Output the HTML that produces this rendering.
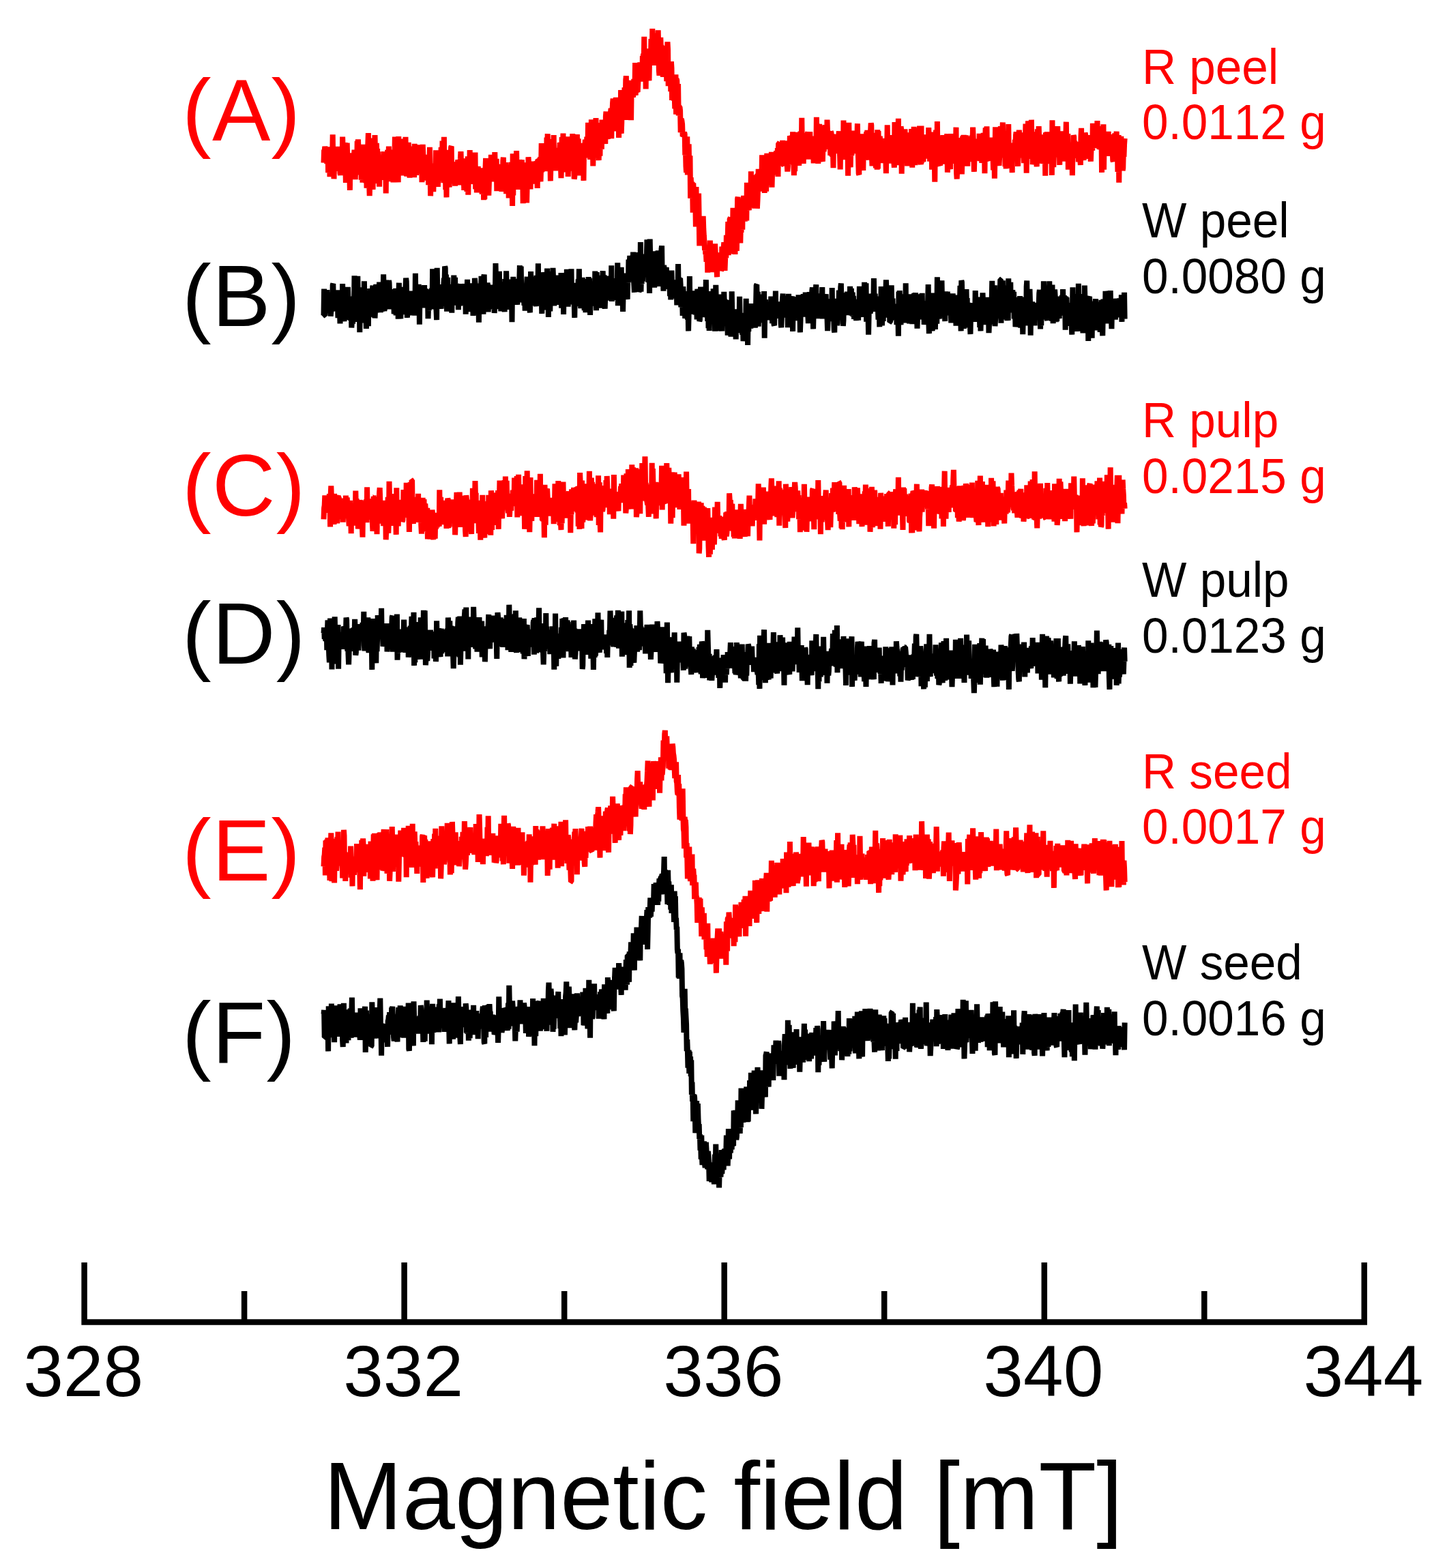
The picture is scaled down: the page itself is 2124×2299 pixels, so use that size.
<!DOCTYPE html>
<html><head><meta charset="utf-8"><title>EPR spectra</title>
<style>
html,body{margin:0;padding:0;background:#fff;overflow:hidden;}
svg{display:block;}
text{font-family:'Liberation Sans', Arial, sans-serif;font-kerning:none;}
</style></head>
<body>
<svg width="2124" height="2299" viewBox="0 0 2124 2299">
<rect width="2124" height="2299" fill="#fff"/>
<path d="M123.6,1851 L123.6,1938.5 L1999.8,1938.5 L1999.8,1851" fill="none" stroke="#000" stroke-width="8.5" stroke-linejoin="miter" stroke-linecap="butt"/>
<line x1="358.1" y1="1893" x2="358.1" y2="1938.5" stroke="#000" stroke-width="8.5"/>
<line x1="592.6" y1="1851" x2="592.6" y2="1938.5" stroke="#000" stroke-width="8.5"/>
<line x1="827.2" y1="1893" x2="827.2" y2="1938.5" stroke="#000" stroke-width="8.5"/>
<line x1="1061.7" y1="1851" x2="1061.7" y2="1938.5" stroke="#000" stroke-width="8.5"/>
<line x1="1296.2" y1="1893" x2="1296.2" y2="1938.5" stroke="#000" stroke-width="8.5"/>
<line x1="1530.8" y1="1851" x2="1530.8" y2="1938.5" stroke="#000" stroke-width="8.5"/>
<line x1="1765.3" y1="1893" x2="1765.3" y2="1938.5" stroke="#000" stroke-width="8.5"/>
<text x="122.2" y="2047" font-size="105.5" text-anchor="middle">328</text>
<text x="591.2" y="2047" font-size="105.5" text-anchor="middle">332</text>
<text x="1060.3" y="2047" font-size="105.5" text-anchor="middle">336</text>
<text x="1529.3" y="2047" font-size="105.5" text-anchor="middle">340</text>
<text x="1998.4" y="2047" font-size="105.5" text-anchor="middle">344</text>
<text transform="translate(474.3,2242) scale(1,1.015)" font-size="138.7">Magnetic field [mT]</text>
<path d="M474.5,238.7l.6-19.1 .6 1.2 .6-5.8 .6 3.6 .6 20.0 .6-17.1 .6 9.3 .6 9.2 .6-18.3 .6-4.6 .6 36.1 .6-12.0 .6-2.6 .6-23.2 .6 43.7 .6-37.8 .6 12.0 .6 15.3 .6-13.7 .6 15.8 .6-15.0 .6-38.5 .6 43.1 .6-14.7 .6 36.7 .6-25.8 .6 1.6 .6 11.6 .6-14.8 .6-15.7 .6 3.6 .6 27.8 .6-6.6 .6-24.4 .6-4.6 .6 10.3 .6 3.8 .6 18.1 .6-18.0 .6 24.5 .6 3.1 .6-21.5 .6 8.2 .6-5.9 .6 16.2 .6-53.2 .6 15.8 .6 16.3 .6 4.8 .6 9.9 .6-10.6 .6-27.7 .6 34.4 .6 24.3 .6-25.9 .6-8.1 .6-24.3 .6 22.6 .6-7.2 .6 21.0 .6-3.8 .6 2.7 .6 11.3 .6 22.8 .6-52.3 .6-1.6 .6 19.6 .6 2.1 .6 11.2 .6-20.2 .6-5.9 .6-5.4 .6 6.9 .6-5.1 .6-8.5 .6 11.7 .6 31.6 .6-17.6 .6 3.8 .6 1.0 .6-3.1 .6-40.3 .6 9.1 .6-11.5 .6 12.0 .6 40.0 .6-39.9 .6 31.5 .6-16.8 .6 16.5 .6-35.0 .6 50.9 .6-6.4 .6-38.2 .6 48.6 .6-28.1 .6 12.8 .6-40.6 .6 55.9 .6-23.6 .6-20.3 .6 29.4 .6 14.9 .6-46.7 .6 54.5 .6-18.7 .6-8.3 .6-36.8 .6-16.9 .6 57.3 .6 14.9 .6 19.9 .6-19.6 .6-65.0 .6 6.7 .6 47.7 .6-14.4 .6 9.2 .6 7.7 .6 18.3 .6-19.3 .6-7.9 .6 18.3 .6-44.3 .6-26.4 .6 28.4 .6 13.8 .6 13.9 .6-44.4 .6 21.0 .6-12.7 .6 24.2 .6-20.1 .6 35.6 .6 4.3 .6 11.4 .6-35.6 .6 25.2 .6-16.2 .6 7.3 .6-.2 .6 6.7 .6-13.2 .6-14.4 .6 13.5 .6-12.3 .6-12.2 .6 41.7 .6-25.7 .6 3.7 .6-17.4 .6 59.0 .6-55.1 .6 1.7 .6 32.2 .6-42.5 .6 9.5 .6 3.4 .6-18.1 .6 27.4 .6 1.5 .6-4.7 .6-13.6 .6 41.0 .6-26.8 .6-10.6 .6 4.4 .6-13.7 .6 22.9 .6 25.1 .6-36.3 .6-3.4 .6 8.1 .6-35.3 .6 50.8 .6-4.4 .6 19.7 .6-43.4 .6-18.9 .6 18.5 .6 16.7 .6 27.7 .6-67.2 .6 52.1 .6-29.9 .6 18.4 .6-5.0 .6-32.1 .6 44.2 .6-20.8 .6 30.4 .6-25.3 .6-16.2 .6 4.7 .6 27.2 .6-10.5 .6 10.7 .6-38.1 .6 37.3 .6-46.4 .6 48.2 .6 4.5 .6 4.8 .6-24.4 .6 .2 .6-8.0 .6-17.2 .6 25.0 .6-17.8 .6 44.5 .6-36.1 .6 28.8 .6-8.6 .6-6.8 .6 19.8 .6-34.7 .6 11.6 .6-12.0 .6 19.9 .6-28.0 .6 45.7 .6-49.4 .6 41.1 .6-1.7 .6-15.5 .6 22.2 .6-17.3 .6-13.7 .6 19.2 .6 6.0 .6-4.3 .6 7.4 .6-36.4 .6 21.7 .6-27.2 .6 42.5 .6-37.8 .6 18.5 .6-19.1 .6 50.7 .6-33.5 .6-21.8 .6 14.3 .6 3.4 .6 10.5 .6-8.5 .6 19.1 .6 13.7 .6-7.1 .6-9.6 .6 4.8 .6-5.7 .6 .9 .6-12.0 .6-8.8 .6 44.5 .6-16.7 .6-3.5 .6-35.2 .6 30.1 .6 41.3 .6-31.4 .6-12.2 .6 5.2 .6 4.7 .6-9.5 .6-4.2 .6 41.3 .6-20.8 .6-11.0 .6-2.4 .6 4.3 .6 10.5 .6-41.4 .6 7.8 .6 42.7 .6-38.8 .6-7.0 .6 48.9 .6-43.2 .6 17.4 .6 16.3 .6-23.1 .6 17.2 .6-22.6 .6 5.4 .6-25.5 .6 14.9 .6 32.0 .6-56.3 .6 58.8 .6-40.9 .6 43.8 .6-67.4 .6 60.8 .6 5.5 .6-36.0 .6 47.0 .6-20.4 .6 31.7 .6-50.0 .6 13.0 .6-5.6 .6-4.7 .6-22.3 .6 28.7 .6 26.2 .6-29.1 .6 10.1 .6-12.8 .6-27.2 .6-1.2 .6 54.6 .6-8.0 .6-18.0 .6 23.8 .6-29.6 .6 30.4 .6-9.4 .6-3.8 .6 18.0 .6-6.5 .6-11.6 .6 16.3 .6-22.7 .6-5.9 .6-2.4 .6-5.3 .6 29.0 .6 7.8 .6-36.2 .6 17.4 .6-10.7 .6-9.1 .6-10.4 .6 18.8 .6 12.5 .6 1.0 .6-4.5 .6 10.8 .6-20.8 .6 21.8 .6 17.1 .6-21.5 .6-25.1 .6 24.1 .6-1.8 .6-1.4 .6 10.4 .6 17.2 .6-5.0 .6-46.5 .6 56.5 .6-34.0 .6-3.0 .6 5.5 .6-34.2 .6 37.9 .6-12.6 .6 3.1 .6 7.2 .6-12.2 .6 26.0 .6-2.0 .6-2.4 .6-25.8 .6 24.6 .6-2.4 .6-14.6 .6-23.4 .6 53.8 .6-3.1 .6-12.4 .6 20.6 .6-21.9 .6 4.1 .6-20.6 .6 15.8 .6 8.1 .6-.5 .6 3.8 .6-1.9 .6-22.5 .6 3.0 .6 7.7 .6 19.5 .6 7.5 .6-4.9 .6-28.9 .6-2.5 .6 45.0 .6-42.2 .6 41.3 .6-34.2 .6-11.5 .6-14.6 .6 51.4 .6-7.7 .6-16.3 .6 14.6 .6-12.2 .6-22.3 .6 47.1 .6-18.8 .6-19.7 .6 1.1 .6 15.6 .6-17.1 .6-20.9 .6 17.3 .6-.1 .6-11.0 .6 20.6 .6 4.0 .6-18.2 .6 11.1 .6 15.9 .6-43.3 .6 29.7 .6-17.8 .6 28.0 .6-30.1 .6 47.2 .6-14.3 .6-5.1 .6-13.3 .6 22.1 .6-21.4 .6 15.8 .6-22.8 .6 4.9 .6 16.2 .6 12.4 .6-17.1 .6 23.4 .6-15.8 .6 6.4 .6-36.0 .6-4.7 .6 33.8 .6 15.5 .6-3.3 .6-23.0 .6-15.5 .6 7.3 .6 38.5 .6-27.8 .6 4.5 .6 12.7 .6-7.6 .6-22.0 .6 46.6 .6-43.8 .6 20.1 .6 4.9 .6-21.4 .6 9.4 .6-21.9 .6 29.0 .6-.4 .6 35.5 .6-76.6 .6 61.2 .6-51.2 .6 9.2 .6 15.0 .6-.2 .6-12.3 .6 20.4 .6-29.3 .6-17.0 .6 31.7 .6 16.9 .6-30.9 .6 39.1 .6-37.6 .6 34.2 .6-27.7 .6-12.8 .6 25.4 .6 12.5 .6-18.5 .6-7.0 .6-12.0 .6 25.9 .6-9.7 .6 47.6 .6-59.9 .6 19.0 .6-4.8 .6 27.0 .6-16.8 .6 7.0 .6 3.7 .6-4.4 .6 28.3 .6-26.0 .6-13.1 .6 4.9 .6-32.9 .6 9.4 .6 25.2 .6 4.3 .6-24.6 .6 33.0 .6-25.4 .6-8.7 .6 18.7 .6 7.2 .6-7.2 .6-25.6 .6 26.0 .6-8.1 .6-14.7 .6 3.6 .6-1.1 .6-2.8 .6 1.6 .6-3.8 .6 .7 .6 10.4 .6 27.6 .6-41.9 .6 .3 .6 19.6 .6-2.8 .6-10.9 .6 6.3 .6-16.2 .6 36.1 .6-20.3 .6-36.0 .6 42.4 .6-28.2 .6-1.0 .6 15.3 .6 12.4 .6-21.4 .6 13.1 .6 1.8 .6-6.2 .6 12.3 .6-3.8 .6-2.5 .6-42.7 .6 25.7 .6-31.1 .6 35.4 .6-27.5 .6 26.3 .6 13.5 .6-21.5 .6 5.0 .6 38.0 .6-27.2 .6-22.6 .6 20.6 .6-8.3 .6 14.9 .6-5.5 .6-17.7 .6-21.6 .6 52.1 .6-22.0 .6-8.9 .6 31.3 .6-27.9 .6 9.1 .6 12.6 .6-13.9 .6-8.7 .6-2.4 .6 .1 .6 19.6 .6 7.5 .6-24.2 .6-13.2 .6 1.6 .6 30.9 .6 19.5 .6-17.4 .6-42.6 .6 22.2 .6-6.8 .6-21.0 .6 45.8 .6-3.6 .6-5.6 .6 10.3 .6-36.2 .6 46.0 .6-7.6 .6-25.0 .6 8.0 .6 4.2 .6-31.6 .6 58.8 .6-20.9 .6-17.8 .6 13.4 .6 11.3 .6-30.3 .6-5.1 .6 41.1 .6-15.6 .6 10.3 .6-35.4 .6-13.8 .6 27.9 .6 8.2 .6 7.0 .6 23.2 .6-3.5 .6-32.6 .6-.1 .6 17.6 .6-20.0 .6-5.7 .6-21.2 .6 23.3 .6-9.6 .6-7.4 .6 39.5 .6-6.5 .6 21.1 .6-14.9 .6-19.4 .6-6.3 .6-7.0 .6 31.4 .6 2.2 .6-12.7 .6-10.6 .6-8.2 .6 53.0 .6-47.7 .6 14.3 .6-19.0 .6-7.8 .6 11.0 .6 14.1 .6-1.5 .6-27.8 .6 1.7 .6 12.1 .6-34.6 .6 32.4 .6 17.0 .6-45.4 .6 28.1 .6 22.0 .6-19.5 .6 10.9 .6-49.8 .6 22.3 .6-11.7 .6 3.5 .6 54.0 .6-27.8 .6-20.8 .6-1.8 .6 4.6 .6 13.9 .6-16.4 .6-22.2 .6 35.4 .6 1.5 .6-29.9 .6 29.3 .6-.1 .6-.1 .6 26.1 .6-20.0 .6-24.4 .6 37.9 .6-46.3 .6 5.2 .6 8.0 .6 23.2 .6-43.2 .6 34.2 .6-11.6 .6-8.1 .6-10.7 .6 18.1 .6 11.0 .6-7.0 .6 9.5 .6-40.4 .6-7.1 .6 24.4 .6 4.6 .6-17.5 .6 29.2 .6-18.3 .6-.7 .6-16.4 .6 19.8 .6-13.4 .6 15.4 .6-26.6 .6-5.1 .6 44.4 .6-37.6 .6-1.5 .6-13.5 .6-6.0 .6 7.5 .6 9.8 .6 30.3 .6-34.6 .6 31.1 .6-32.6 .6-13.3 .6 25.7 .6-25.8 .6 24.2 .6 7.3 .6-.4 .6-10.0 .6 38.1 .6-31.4 .6-1.7 .6 18.0 .6-11.0 .6-43.8 .6 63.8 .6-16.3 .6-40.7 .6 10.0 .6-8.8 .6-2.0 .6 37.7 .6-9.5 .6-38.0 .6 39.6 .6-18.7 .6-32.2 .6-5.7 .6 64.6 .6-58.1 .6 18.8 .6-6.8 .6 17.1 .6-26.5 .6-2.2 .6 17.1 .6 7.5 .6-13.6 .6-7.2 .6 54.2 .6-48.1 .6 .5 .6 3.1 .6 8.9 .6 1.9 .6-9.1 .6-17.6 .6 11.0 .6 7.3 .6-42.1 .6 47.9 .6-14.1 .6-22.5 .6 23.0 .6 7.7 .6 .7 .6-12.6 .6-9.8 .6-11.9 .6 13.1 .6-2.7 .6-19.5 .6 13.9 .6 4.8 .6-9.6 .6-8.7 .6 28.0 .6-37.7 .6 6.3 .6-9.5 .6 16.4 .6-41.3 .6 59.0 .6-12.5 .6-16.9 .6 47.0 .6-59.3 .6 20.9 .6-19.4 .6 34.7 .6 2.2 .6-32.3 .6 2.1 .6 39.0 .6-31.8 .6 4.9 .6-9.8 .6 5.5 .6-30.1 .6 23.6 .6 14.7 .6-53.3 .6 45.7 .6 5.0 .6-43.0 .6 18.7 .6 27.5 .6-43.2 .6 16.5 .6 18.1 .6 1.3 .6-40.1 .6 17.2 .6-7.5 .6 8.4 .6-22.3 .6 26.0 .6 33.0 .6 7.2 .6-32.7 .6 2.3 .6-25.2 .6 15.1 .6 6.7 .6-8.6 .6 .2 .6 21.1 .6 23.5 .6-30.5 .6 9.8 .6 4.5 .6-.2 .6 2.8 .6 1.3 .6-8.6 .6 2.8 .6 24.2 .6-42.3 .6-15.4 .6 11.2 .6 53.5 .6-16.4 .6 6.6 .6 7.1 .6-28.9 .6 4.0 .6 35.7 .6-44.0 .6 9.6 .6 47.1 .6-33.5 .6 33.2 .6-6.2 .6 6.6 .6-.4 .6-6.8 .6 19.6 .6-30.4 .6-19.7 .6 58.3 .6-52.3 .6 2.8 .6 26.3 .6 8.4 .6-29.8 .6 46.5 .6-10.6 .6-2.3 .6 .4 .6 5.2 .6 32.1 .6-19.5 .6-.6 .6 3.2 .6 4.6 .6 18.0 .6-2.1 .6 1.2 .6-2.2 .6-3.1 .6 2.8 .6 30.9 .6-10.5 .6 27.1 .6 9.0 .6-13.9 .6-38.8 .6 56.0 .6-37.3 .6 37.2 .6-44.9 .6 36.4 .6 7.4 .6-26.9 .6 62.5 .6-30.7 .6 10.9 .6 7.6 .6-11.7 .6 8.0 .6 36.7 .6-43.0 .6 10.5 .6 12.4 .6-15.0 .6 26.6 .6-7.7 .6 37.1 .6-58.5 .6 56.7 .6-23.4 .6 19.7 .6-11.8 .6 13.6 .6-45.2 .6 36.5 .6 40.4 .6-34.6 .6-1.8 .6 34.4 .6-10.6 .6-21.1 .6 27.9 .6-3.5 .6-23.8 .6-10.6 .6 19.0 .6 10.1 .6 8.1 .6 13.1 .6-7.4 .6 13.3 .6-3.0 .6 13.8 .6-14.5 .6-3.5 .6 33.9 .6-30.8 .6 11.2 .6-19.4 .6 34.7 .6-3.5 .6-39.3 .6 25.2 .6 13.3 .6 7.5 .6-4.2 .6-10.5 .6-3.9 .6 11.7 .6-10.1 .6 .9 .6-16.3 .6 7.3 .6-16.0 .6 12.2 .6 4.0 .6 11.7 .6 10.0 .6 10.8 .6-35.8 .6 13.8 .6 8.5 .6-18.9 .6 16.8 .6-19.5 .6 19.7 .6-11.1 .6 5.2 .6 11.3 .6-.9 .6-33.7 .6 14.7 .6-11.2 .6 15.3 .6-17.3 .6-7.9 .6 24.4 .6 17.3 .6-16.6 .6-23.3 .6 21.4 .6-33.6 .6 12.3 .6 15.9 .6-23.2 .6-24.8 .6 49.3 .6-37.7 .6 18.6 .6-34.4 .6-.6 .6 24.8 .6 27.1 .6-12.6 .6 .9 .6-17.5 .6 7.7 .6-45.8 .6 10.8 .6 21.3 .6-32.0 .6 45.6 .6 22.5 .6-47.3 .6-2.7 .6 22.0 .6 23.0 .6-35.1 .6-41.0 .6-3.0 .6 8.8 .6 8.0 .6 25.6 .6 1.6 .6-9.1 .6 32.7 .6-27.9 .6 12.2 .6-18.2 .6 5.1 .6 9.0 .6-44.3 .6 11.1 .6-16.7 .6 32.7 .6-27.9 .6 32.9 .6-18.7 .6-.5 .6 10.9 .6 7.2 .6-55.7 .6 30.5 .6-16.3 .6 1.0 .6 12.7 .6 12.9 .6-33.9 .6 29.6 .6-14.5 .6 9.9 .6-48.3 .6 31.6 .6 .1 .6-11.4 .6 21.1 .6 5.8 .6-22.4 .6 7.2 .6 10.4 .6 11.8 .6-36.3 .6 2.6 .6-13.2 .6-.2 .6 4.0 .6 43.3 .6-12.1 .6-16.8 .6-28.9 .6 16.9 .6 15.8 .6-13.9 .6 .5 .6 12.0 .6-14.9 .6 8.5 .6-15.7 .6-29.8 .6 46.8 .6-14.4 .6-.2 .6-8.0 .6 2.0 .6 29.4 .6-53.4 .6 16.4 .6 17.9 .6 16.8 .6-23.4 .6-32.3 .6 25.1 .6 9.1 .6 12.1 .6-25.8 .6 17.9 .6-18.8 .6-8.9 .6 10.9 .6-17.3 .6 29.4 .6-35.7 .6 51.7 .6-22.0 .6-29.8 .6 29.4 .6 3.7 .6-6.1 .6-11.0 .6-14.2 .6 11.0 .6 16.2 .6-20.3 .6-10.3 .6 33.6 .6-16.6 .6-21.2 .6 42.0 .6-48.6 .6-.2 .6 25.3 .6 .1 .6-20.9 .6 1.3 .6 4.1 .6 12.2 .6-.9 .6 .7 .6-26.2 .6 33.4 .6 2.1 .6 .5 .6-32.6 .6 29.8 .6-22.8 .6 21.5 .6 1.6 .6-28.7 .6-4.0 .6 35.0 .6 9.8 .6-7.7 .6-12.1 .6-12.4 .6-8.5 .6 11.1 .6-22.5 .6 1.4 .6 32.9 .6 4.6 .6 2.5 .6-21.0 .6 12.6 .6-39.2 .6 38.5 .6 5.7 .6 19.8 .6-26.6 .6 20.5 .6-17.9 .6-20.6 .6-9.1 .6 9.5 .6 4.8 .6 22.3 .6-22.0 .6-24.4 .6 41.4 .6 7.6 .6-8.8 .6-2.1 .6-19.1 .6-20.2 .6 38.8 .6-8.7 .6-49.9 .6 45.5 .6 6.4 .6 4.1 .6 11.1 .6-19.1 .6-20.8 .6 10.2 .6 10.4 .6-.1 .6 4.8 .6-19.9 .6 12.2 .6-19.1 .6-2.8 .6-1.2 .6 39.1 .6-18.8 .6-9.1 .6-4.6 .6-7.7 .6 37.4 .6-15.0 .6-14.3 .6 24.1 .6-6.4 .6-19.4 .6 7.9 .6 13.0 .6 18.7 .6-33.3 .6-6.3 .6 17.2 .6 7.8 .6-1.6 .6 2.0 .6-53.4 .6 35.3 .6-25.3 .6 10.3 .6 48.0 .6-51.4 .6 7.8 .6-14.5 .6 16.0 .6 23.7 .6-22.4 .6 1.6 .6 7.9 .6 5.1 .6 20.4 .6 2.5 .6-29.2 .6-3.8 .6 18.5 .6-7.0 .6-29.4 .6-1.0 .6 28.4 .6 5.3 .6-4.8 .6 3.1 .6-41.3 .6 19.7 .6 21.7 .6-23.6 .6-.1 .6 5.5 .6 11.2 .6 .6 .6 17.4 .6-34.7 .6 1.1 .6 32.5 .6 1.0 .6-16.3 .6 6.3 .6 28.3 .6-43.8 .6 7.9 .6-12.2 .6 15.6 .6-14.6 .6-1.2 .6 15.9 .6-11.8 .6 23.3 .6-18.2 .6 17.3 .6-8.0 .6-18.3 .6-5.7 .6 22.9 .6 13.0 .6 20.3 .6-43.3 .6-4.8 .6 20.0 .6-15.3 .6 10.3 .6-14.7 .6 33.6 .6-57.7 .6 42.8 .6-19.9 .6 18.3 .6 1.3 .6-14.0 .6 27.5 .6-5.1 .6-15.9 .6 9.1 .6-14.7 .6 51.6 .6-48.8 .6-29.0 .6 40.2 .6-5.4 .6 16.2 .6 14.6 .6-35.8 .6 10.5 .6 8.1 .6-29.7 .6 13.1 .6-6.8 .6-13.2 .6 10.9 .6 15.7 .6 6.7 .6-21.7 .6 14.9 .6-9.7 .6-2.4 .6 5.6 .6-3.4 .6-27.0 .6 35.2 .6 15.5 .6 22.8 .6 1.2 .6-29.9 .6-13.6 .6 2.4 .6 18.8 .6-24.2 .6 8.0 .6-21.0 .6 35.2 .6-13.3 .6 31.7 .6-34.9 .6 9.6 .6-14.0 .6 24.2 .6-16.2 .6 6.5 .6-16.5 .6-15.2 .6 41.3 .6-43.9 .6 33.2 .6-16.0 .6-10.3 .6 23.2 .6-.9 .6 2.1 .6 4.2 .6-34.1 .6-11.8 .6 2.9 .6 44.6 .6 15.3 .6-29.2 .6 12.6 .6 15.1 .6-11.8 .6-35.2 .6 12.0 .6 16.0 .6-22.9 .6 46.5 .6-30.4 .6-10.7 .6 43.4 .6-58.5 .6 57.3 .6-55.4 .6 21.4 .6 18.3 .6-11.3 .6-21.0 .6 25.9 .6-3.0 .6 16.5 .6-10.3 .6-17.4 .6 15.3 .6 7.6 .6-31.0 .6 27.9 .6-28.1 .6 25.4 .6 1.3 .6-6.7 .6 7.6 .6 23.6 .6-43.1 .6 14.8 .6-42.5 .6 47.8 .6-.8 .6 9.0 .6-6.0 .6 1.5 .6-18.3 .6-18.4 .6 27.0 .6 .9 .6-14.7 .6-9.9 .6 18.2 .6-14.4 .6 21.8 .6-6.5 .6 17.4 .6 7.8 .6-66.6 .6 43.3 .6 7.0 .6-20.2 .6 17.5 .6 5.0 .6 10.3 .6-8.7 .6-25.6 .6-34.0 .6 64.7 .6-19.7 .6-9.5 .6-8.2 .6 10.1 .6-25.6 .6 3.5 .6 65.6 .6-33.2 .6 7.2 .6-12.1 .6-13.3 .6 3.3 .6 6.4 .6-.6 .6-22.9 .6 18.9 .6 17.5 .6-30.9 .6 8.6 .6 11.6 .6 28.4 .6-25.7 .6-23.4 .6 7.6 .6 28.1 .6-32.7 .6 12.7 .6 15.8 .6 6.5 .6-5.9 .6-37.4 .6 34.7 .6 21.8 .6-48.3 .6 42.9 .6-9.0 .6-45.3 .6 22.5 .6 4.4 .6 29.3 .6-14.6 .6-24.6 .6-1.8 .6 19.6 .6 13.0 .6-33.6 .6-2.0 .6 40.8 .6-51.3 .6 31.5 .6-34.5 .6 27.0 .6 24.8 .6 4.8 .6-56.7 .6 52.3 .6-.7 .6-26.0 .6 8.8 .6 18.6 .6-25.2 .6-14.9 .6 35.3 .6-20.7 .6 17.6 .6-17.4 .6 2.9 .6-13.0 .6 25.5 .6 .3 .6-16.8 .6-3.2 .6-20.9 .6 28.8 .6-11.5 .6 32.5 .6-36.3 .6 16.9 .6-3.7 .6-1.0 .6 36.0 .6-55.1 .6 27.1 .6-24.4 .6 11.4 .6-9.6 .6 23.0 .6 45.5 .6-54.4 .6 .8 .6-22.4 .6 39.1 .6 13.1 .6-64.7 .6 49.4 .6 2.8 .6 8.1 .6 .7 .6-2.9 .6 5.3 .6 1.0 .6-11.0 .6-21.7 .6-9.4 .6 13.6 .6 25.4 .6-11.3 .6-30.0 .6 20.4 .6 6.4 .6-2.8 .6 7.5 .6-4.7 .6 15.7 .6-13.6 .6-16.0 .6-5.3 .6-9.4 .6 56.5 .6-16.1 .6 9.7 .6-15.0 .6 2.9 .6-4.1 .6 5.1 .6 12.9 .6-40.3 .6-11.7 .6 9.4 .6 6.5 .6-4.1 .6 12.8 .6-11.0 .6 4.2 .6 1.7 .6 24.3 .6-22.7 .6 .8 .6 .6 .6-32.0 .6 66.7 .6 9.0 .6-15.3 .6-14.7 .6-7.3 .6-2.6 .6 27.4 .6-5.3 .6-42.6 .6 42.1 .6-21.8 .6-6.4 .6-1.9 .6 41.3 .6-21.4 .6-32.5 .6-1.1 .6 22.4 .6-24.8 .6 17.3 .6 5.8 .6-17.2 .6 16.6 .6-22.0 .6 28.6 .6 14.0 .6-12.5 .6 15.1 .6-43.8 .6 17.8 .6 10.6 .6-18.0 .6-6.3 .6 1.6 .6 11.2 .6 8.3 .6 1.3 .6 10.7 .6-38.8 .6 13.6 .6-25.2 .6 15.1 .6 20.9 .6 29.3 .6-21.1 .6-11.4 .6 5.2 .6-16.4 .6-1.8 .6 27.1 .6-21.3 .6-8.6 .6 26.3 .6-16.3 .6 8.1 .6 13.8 .6-39.7 .6 20.9 .6 19.5 .6-26.9 .6 17.3 .6-24.0 .6 36.3 .6-8.1 .6-19.0 .6 3.4 .6-20.3 .6 15.6 .6-1.8 .6 45.6 .6-50.8 .6-16.0 .6 46.5 .6 .2 .6-48.9 .6 45.8 .6-28.2 .6 26.0 .6 5.6 .6 .9 .6-29.9 .6 1.7 .6 11.9 .6-.9 .6 7.2 .6-23.9 .6 13.9 .6 6.2 .6-1.8 .6 6.1 .6 23.6 .6-22.6 .6-21.3 .6 56.1 .6-31.0 .6-44.3 .6 52.4 .6-22.4 .6 7.2 .6-25.9 .6-4.4 .6 22.3 .6 2.7 .6 21.1 .6 3.4 .6-10.5 .6-4.8 .6-25.7 .6-16.7 .6 28.9 .6-13.8 .6-12.2 .6 5.3 .6-13.8 .6 30.2 .6 3.7 .6-17.7 .6 14.3 .6-17.7 .6 51.9 .6-38.1 .6 41.3 .6-22.7 .6 3.0 .6-1.5 .6 11.7 .6-3.7 .6-52.1 .6 48.9 .6 3.3 .6-1.1 .6-16.8 .6 2.9 .6 27.4 .6-30.6 .6 16.4 .6 20.7 .6-39.8 .6 21.7 .6-5.7 .6-19.8 .6 12.6 .6 .5 .6-17.9 .6 5.1 .6-12.4 .6-3.9 .6 26.3 .6-20.3 .6 9.2 .6 35.1 .6-17.1 .6-24.8 .6-11.2 .6 9.9 .6 30.7 .6-37.2 .6 17.9 .6 17.4 .6-13.9 .6-9.6 .6 18.1 .6-16.0 .6 14.2 .6-5.9 .6 22.7 .6-26.3 .6-.2 .6-4.2 .6-26.9 .6 26.3 .6 45.8 .6-48.8 .6-11.3 .6 13.9 .6-30.1 .6 25.0 .6 4.5 .6 12.3 .6-6.6 .6 10.5 .6 3.7 .6 5.9 .6-56.9 .6 31.9 .6-3.9 .6 37.6 .6-38.7 .6-6.8 .6-2.3 .6 22.0 .6 2.4 .6 23.5 .6-28.4 .6 9.8 .6 6.4 .6 15.2 .6-13.6 .6-41.4 .6 15.3 .6 14.8 .6-34.4 .6 18.1 .6-1.0 .6 11.8 .6 9.9 .6 5.4 .6-17.5 .6 27.7 .6-1.8 .6-20.3 .6-.9 .6-19.3 .6 40.5 .6-19.1 .6-3.5 .6-8.5 .6 51.2 .6-63.6 .6 21.9 .6-2.0 .6-20.8 .6 16.9 .6 24.2 .6-35.7 .6 9.0 .6-13.3 .6 26.7 .6-18.3 .6 37.4 .6-29.9 .6 3.6 .6-7.9 .6 50.9 .6-80.5 .6 57.6 .6-10.2 .6 21.3 .6-15.0 .6-17.4 .6-3.5 .6 9.1 .6-24.1 .6 23.2 .6 12.8 .6-9.0 .6-1.8 .6-34.3 .6 40.5 .6-7.6 .6 2.0 .6-13.3 .6 35.2 .6-38.8 .6 6.1 .6-4.5 .6 13.1 .6-16.2 .6-9.2 .6 36.5 .6-13.6 .6-19.4 .6 6.0 .6 19.5 .6 .1 .6 15.1 .6-35.5 .6 4.1 .6-26.5 .6 44.4 .6-23.9 .6 31.8 .6-35.0 .6 52.6 .6-13.9 .6-20.9 .6 16.0 .6 1.3 .6-19.2 .6 6.4 .6 24.9 .6-14.8 .6-13.1 .6 42.0 .6-33.7 .6 3.9 .6-29.2 .6 2.0 .6 31.2 .6-14.4 .6 7.1 .6 3.4 .6-7.5 .6 11.8 .6-20.3 .6-1.2 .6-.1 .6-.5 .6 27.6 .6-24.7 .6 14.6 .6 9.5 .6-2.3 .6 7.4 .6-40.4 .6-13.6 .6 35.5 .6-24.4 .6 10.0 .6 4.0 .6 2.3 .6 19.9 .6-29.8 .6-1.5 .6-9.0 .6 2.2 .6 7.7 .6 27.4 .6-2.1 .6-8.5 .6 11.3 .6-34.9 .6 11.9 .6 13.7 .6-11.7 .6 12.6 .6-9.4 .6 15.4 .6 6.2 .6-15.8 .6-9.3 .6 5.7 .6 3.5 .6-39.9 .6 34.6 .6-25.6 .6 .1 .6 13.2 .6 9.3 .6 4.4 .6-30.6 .6 25.4 .6-22.1 .6 14.3 .6-26.8 .6 24.3 .6-11.9 .6 26.6 .6-3.5 .6 5.8 .6-.9 .6-32.5 .6 29.0 .6 2.5 .6-16.8 .6 53.2 .6-41.0 .6-2.7 .6-13.1 .6-13.8 .6 66.3 .6-48.6 .6 17.7 .6 8.7 .6-29.4 .6 21.0 .6-17.6 .6 5.7 .6 22.7 .6-19.2 .6 16.3 .6-33.0 .6 31.5 .6-21.1 .6 15.8 .6-22.1 .6 25.0 .6 4.0 .6-11.2 .6-12.0 .6 25.9 .6-10.1 .6 16.7 .6 1.3 .6-30.9 .6 10.1 .6 .1 .6-20.6 .6 35.9 .6-4.3 .6-25.8 .6-8.2 .6 31.0 .6-12.1 .6 40.2 .6-10.9 .6-43.1 .6 69.6 .6-47.8 .6-6.1 .6 18.1 .6-19.0 .6-12.7 .6 7.6 .6 29.3 .6-18.2 .6 31.4 .6-3.9 .6-26.3 .6 9.8 .6-17.8 .6-9.1" fill="none" stroke="#ff0000" stroke-width="8" stroke-linejoin="bevel" stroke-linecap="butt"/>
<path d="M474.5,462.3l.6-38.7 .6 38.8 .6 .1 .6-13.7 .6-15.3 .6 15.2 .6-11.9 .6-11.5 .6 13.2 .6 20.5 .6-26.7 .6 12.3 .6 5.3 .6-16.4 .6-3.2 .6 17.8 .6 15.5 .6-6.4 .6-4.4 .6 1.6 .6 2.1 .6-38.9 .6-1.4 .6 26.7 .6 13.1 .6-19.9 .6 14.1 .6-.7 .6-5.3 .6 4.4 .6-5.8 .6 4.2 .6-21.6 .6 20.7 .6 20.1 .6-26.0 .6-.8 .6 4.9 .6 9.4 .6 20.8 .6-22.2 .6-22.9 .6 16.2 .6-8.7 .6 28.9 .6-49.8 .6 22.9 .6 11.0 .6 6.8 .6 14.6 .6-35.5 .6 4.6 .6 5.0 .6 2.2 .6 21.6 .6-27.3 .6 6.2 .6-12.8 .6-14.5 .6 20.5 .6 21.9 .6-8.6 .6-13.0 .6 17.2 .6 .6 .6 10.3 .6-16.1 .6 26.9 .6-8.5 .6-27.4 .6 30.3 .6-32.4 .6-7.7 .6 15.6 .6-46.1 .6 28.4 .6 33.3 .6 5.6 .6-36.8 .6 16.5 .6-5.7 .6-11.0 .6-29.8 .6 33.4 .6-5.0 .6 23.8 .6-22.2 .6 52.3 .6-46.7 .6 8.1 .6-14.2 .6-12.9 .6 14.8 .6 10.6 .6 26.5 .6-20.1 .6-15.3 .6 24.6 .6-50.1 .6 30.0 .6 17.5 .6-25.9 .6 27.4 .6 20.6 .6-23.7 .6-22.3 .6 10.4 .6 12.9 .6 18.8 .6-45.1 .6 2.6 .6 10.0 .6-22.6 .6 39.3 .6-16.6 .6 3.8 .6-14.0 .6 15.1 .6-27.3 .6-4.5 .6 37.1 .6 5.7 .6 2.8 .6-19.5 .6 21.6 .6-11.6 .6-14.8 .6-23.3 .6 41.5 .6-10.3 .6-9.7 .6-8.0 .6 10.7 .6 9.0 .6-12.6 .6-23.9 .6 10.2 .6 2.5 .6 32.0 .6-42.7 .6 31.6 .6-4.3 .6 13.7 .6-14.9 .6-5.4 .6-33.9 .6 22.6 .6 30.7 .6-2.4 .6-15.0 .6 3.9 .6 7.7 .6-39.3 .6 23.2 .6 14.7 .6-.1 .6 .6 .6-20.3 .6-17.5 .6 3.3 .6 17.7 .6 21.2 .6-14.0 .6 1.4 .6-2.9 .6-1.8 .6 6.1 .6-17.9 .6 19.0 .6-5.9 .6-3.6 .6 26.5 .6-2.4 .6-33.6 .6 9.0 .6-10.3 .6 39.6 .6-34.9 .6 11.2 .6 7.5 .6-23.0 .6 44.4 .6-29.7 .6-23.3 .6 46.5 .6-24.2 .6 11.5 .6 19.0 .6-30.9 .6 9.1 .6-14.5 .6-10.3 .6 40.1 .6-14.7 .6 4.3 .6-10.6 .6 5.2 .6 12.5 .6-9.5 .6-27.6 .6-12.9 .6 4.9 .6 29.4 .6 23.9 .6-15.5 .6-13.2 .6-.8 .6 13.8 .6-7.2 .6-.7 .6 19.9 .6-10.8 .6-14.0 .6 5.2 .6-15.9 .6 25.8 .6-16.3 .6 11.2 .6 5.8 .6-14.3 .6-5.2 .6 3.7 .6 25.3 .6-61.8 .6 43.7 .6-17.0 .6 34.8 .6-23.3 .6-12.2 .6-9.7 .6 15.4 .6-15.6 .6 8.3 .6 50.4 .6-49.7 .6 3.2 .6 7.8 .6-12.8 .6-4.7 .6 19.1 .6-2.0 .6-10.4 .6-4.8 .6 29.9 .6-15.0 .6-18.1 .6 29.3 .6-21.2 .6-2.2 .6 2.6 .6-2.4 .6 24.3 .6-10.8 .6-10.3 .6 39.6 .6-17.5 .6 5.4 .6-18.6 .6-7.1 .6 23.5 .6-17.2 .6 .4 .6-1.6 .6-11.8 .6 30.7 .6-59.0 .6 46.3 .6-25.8 .6 13.6 .6-8.6 .6 10.8 .6 16.4 .6-16.2 .6 13.0 .6 11.0 .6 14.4 .6-76.5 .6 35.9 .6 4.0 .6-.2 .6 2.7 .6 9.7 .6-16.9 .6 4.4 .6 10.9 .6-14.7 .6 24.4 .6-27.6 .6-8.3 .6 24.4 .6 7.2 .6-26.5 .6-3.1 .6-11.2 .6 8.2 .6-25.5 .6 2.2 .6 47.5 .6-37.7 .6 27.6 .6 26.6 .6-17.9 .6-32.0 .6 42.2 .6-12.6 .6-17.9 .6 5.7 .6 13.5 .6-20.9 .6 15.9 .6 5.7 .6-18.8 .6 39.2 .6-40.2 .6 22.8 .6-24.4 .6 11.6 .6-25.0 .6 31.8 .6-6.9 .6-21.7 .6 40.9 .6-19.5 .6 11.9 .6-22.4 .6 .9 .6 26.0 .6-26.3 .6 35.9 .6-28.9 .6 3.4 .6 7.7 .6 11.9 .6-12.9 .6-14.0 .6 4.3 .6-9.7 .6 21.2 .6 10.1 .6-7.6 .6-14.3 .6 11.2 .6-10.9 .6-7.0 .6 .2 .6-2.0 .6 43.7 .6-24.7 .6-11.1 .6 0 .6-14.9 .6 47.3 .6-22.6 .6 4.6 .6 .6 .6 15.9 .6-5.7 .6 4.8 .6-20.6 .6-9.6 .6 7.8 .6-3.1 .6-14.0 .6 15.8 .6 31.7 .6-8.6 .6-8.3 .6-8.5 .6-29.6 .6 7.0 .6 17.6 .6 15.0 .6-19.0 .6-1.4 .6 25.2 .6 3.8 .6-38.9 .6 19.8 .6 35.9 .6-41.5 .6-15.8 .6 38.4 .6-26.2 .6 18.9 .6-41.7 .6 24.1 .6 1.3 .6-3.7 .6-9.0 .6 43.1 .6-54.0 .6-4.2 .6 32.4 .6 4.9 .6-22.8 .6 18.4 .6-2.0 .6-5.5 .6-8.2 .6-4.6 .6 2.9 .6 39.5 .6-22.8 .6-13.4 .6-2.6 .6 5.4 .6-6.4 .6 25.1 .6 10.1 .6-2.8 .6-23.2 .6 13.2 .6-13.3 .6-8.4 .6 10.0 .6-1.2 .6 31.8 .6-17.2 .6-13.9 .6-41.9 .6 27.8 .6 4.5 .6 34.8 .6-31.0 .6 4.1 .6-3.8 .6 3.3 .6-17.7 .6-10.3 .6 43.5 .6-24.9 .6 12.4 .6 27.7 .6-38.4 .6-4.8 .6 37.3 .6-28.1 .6 15.5 .6-2.4 .6-2.6 .6-4.4 .6 28.8 .6-48.3 .6 12.8 .6 17.8 .6-42.2 .6 20.8 .6 34.2 .6-5.3 .6-1.7 .6 8.4 .6-7.4 .6-29.7 .6 2.1 .6-9.2 .6 34.8 .6-7.0 .6-7.7 .6-8.3 .6 50.9 .6-56.9 .6 13.4 .6-22.9 .6 20.0 .6-16.0 .6 32.0 .6-5.3 .6-19.8 .6 8.2 .6 17.1 .6 2.7 .6-35.9 .6 38.0 .6-14.3 .6 8.8 .6-19.6 .6-7.5 .6-2.3 .6-22.8 .6 48.0 .6 6.0 .6-52.6 .6 40.0 .6 .5 .6-9.2 .6-.9 .6 4.6 .6-.4 .6 14.5 .6 7.9 .6-22.8 .6 30.9 .6-30.4 .6 7.4 .6-4.1 .6-12.9 .6-9.9 .6 47.8 .6-39.7 .6 .6 .6 41.2 .6-42.6 .6 32.9 .6 12.5 .6-35.9 .6-24.6 .6 46.3 .6 1.6 .6-40.0 .6 42.3 .6-25.4 .6 15.9 .6-22.2 .6 17.7 .6-25.8 .6 15.4 .6-16.8 .6 31.4 .6 10.9 .6-45.4 .6 18.4 .6 .3 .6 14.3 .6-50.5 .6 60.5 .6-24.1 .6-9.5 .6 13.0 .6 19.0 .6-5.8 .6-5.9 .6-5.5 .6 31.8 .6-26.6 .6-4.2 .6-29.8 .6 5.5 .6 20.6 .6 2.6 .6 26.3 .6-20.5 .6 4.4 .6-30.9 .6 6.3 .6 1.2 .6-21.2 .6 45.6 .6-41.2 .6 67.0 .6-48.8 .6 12.5 .6-27.9 .6 55.5 .6-31.1 .6-.2 .6 21.4 .6-17.1 .6-17.0 .6 16.2 .6-35.7 .6 15.3 .6 25.6 .6 14.5 .6-10.2 .6 3.2 .6 1.8 .6-21.9 .6 5.2 .6-22.6 .6 23.2 .6-12.5 .6 4.4 .6 6.2 .6-7.3 .6 29.1 .6-25.5 .6 11.8 .6 1.8 .6-3.8 .6-31.0 .6 51.7 .6-43.2 .6 40.7 .6-38.6 .6 1.9 .6 48.4 .6-50.4 .6 23.9 .6 2.1 .6-36.5 .6 33.8 .6-9.3 .6-9.4 .6-20.4 .6 40.6 .6-3.7 .6 17.9 .6-19.8 .6-16.8 .6-14.5 .6 15.7 .6 10.9 .6-1.7 .6 9.6 .6-38.8 .6 49.7 .6-6.8 .6-10.9 .6-8.0 .6 28.2 .6-20.7 .6 18.9 .6 21.3 .6-39.3 .6 19.1 .6-22.3 .6 .4 .6-8.9 .6 23.8 .6-16.0 .6 3.2 .6-16.6 .6 27.8 .6-42.9 .6 55.0 .6-22.0 .6-15.8 .6 40.9 .6-39.4 .6 17.5 .6 1.7 .6-25.2 .6 26.1 .6 8.3 .6-9.0 .6 .1 .6 22.7 .6-20.8 .6-22.1 .6 45.9 .6-41.8 .6 2.9 .6-2.0 .6 22.3 .6-30.4 .6 42.1 .6-45.2 .6 37.9 .6-36.1 .6 14.7 .6 39.5 .6-22.4 .6-18.0 .6 26.7 .6-7.1 .6-21.1 .6 4.2 .6-4.6 .6 6.5 .6 15.8 .6-5.9 .6 9.9 .6-48.5 .6 28.1 .6 5.6 .6 23.9 .6-56.1 .6 51.4 .6-15.9 .6 6.8 .6-37.6 .6 11.8 .6 17.6 .6 15.0 .6-19.1 .6-15.5 .6 32.1 .6 5.8 .6-28.8 .6 7.8 .6-19.4 .6-13.8 .6 34.4 .6-6.0 .6-22.4 .6 39.9 .6 9.6 .6-18.6 .6-1.1 .6-28.3 .6 23.6 .6 3.3 .6-7.9 .6-10.9 .6 23.1 .6-24.2 .6 6.5 .6-4.0 .6 26.2 .6-5.8 .6-15.5 .6 17.7 .6-47.4 .6 52.6 .6-33.9 .6 28.1 .6 3.3 .6-16.8 .6 3.4 .6 1.7 .6 3.1 .6-.6 .6-17.7 .6 16.6 .6-20.2 .6 12.1 .6 6.6 .6-42.4 .6 62.8 .6-44.3 .6-1.5 .6 32.6 .6-32.1 .6 26.7 .6 11.9 .6-20.9 .6-28.6 .6 30.9 .6-19.0 .6 14.7 .6 38.5 .6-29.8 .6-8.9 .6 9.3 .6-15.0 .6 9.5 .6-7.1 .6-14.5 .6 20.9 .6-11.0 .6 9.9 .6 18.7 .6-33.4 .6 8.5 .6-33.6 .6 31.2 .6-24.6 .6-12.2 .6 11.2 .6-3.4 .6 22.2 .6-6.1 .6-18.6 .6-5.2 .6 33.8 .6-39.3 .6 35.9 .6 11.6 .6 11.7 .6-48.5 .6 3.7 .6 19.8 .6-32.1 .6 32.2 .6-30.7 .6 7.8 .6 15.5 .6 8.8 .6-35.1 .6 57.5 .6-1.4 .6-12.6 .6 7.9 .6-66.4 .6 72.5 .6-28.1 .6 17.0 .6-36.7 .6 32.8 .6-16.5 .6-7.7 .6-15.8 .6 21.0 .6-1.3 .6 5.5 .6-8.4 .6-11.6 .6 13.2 .6-17.6 .6-22.0 .6 15.8 .6 13.5 .6 33.2 .6-38.4 .6 18.8 .6 35.7 .6-79.5 .6 29.7 .6 18.7 .6-23.3 .6 7.3 .6 25.6 .6-25.6 .6 3.6 .6 9.8 .6 21.0 .6-42.5 .6 46.7 .6-18.1 .6-7.8 .6-27.3 .6 19.0 .6 10.6 .6-20.4 .6 3.4 .6 28.1 .6-41.6 .6 52.5 .6-20.9 .6 2.7 .6-22.3 .6 36.9 .6-8.0 .6-3.2 .6-39.6 .6-5.1 .6 42.9 .6 13.2 .6-8.0 .6 18.1 .6-37.5 .6 4.8 .6 15.5 .6-.7 .6-14.8 .6 7.5 .6-9.4 .6 9.9 .6 14.6 .6-16.9 .6 10.0 .6 14.0 .6-7.6 .6-8.4 .6 10.2 .6 16.2 .6-34.5 .6 40.0 .6-26.6 .6-16.4 .6 25.2 .6 1.2 .6 11.7 .6-6.1 .6 9.1 .6-16.9 .6 2.5 .6-12.7 .6 6.9 .6-3.1 .6 12.8 .6-2.7 .6 23.1 .6-23.6 .6 4.5 .6-41.3 .6 41.2 .6-21.6 .6 26.2 .6 1.3 .6-26.5 .6 11.2 .6 31.6 .6-9.6 .6 3.1 .6-4.5 .6 23.5 .6-42.7 .6 10.2 .6 13.9 .6 3.5 .6 6.5 .6 12.4 .6-22.2 .6 3.0 .6 8.7 .6-16.2 .6-13.1 .6 41.7 .6-23.3 .6 40.0 .6-25.8 .6-4.3 .6-50.2 .6 55.5 .6-23.6 .6 21.1 .6-25.3 .6 15.3 .6-4.9 .6-6.2 .6-10.1 .6 2.5 .6 7.4 .6 3.6 .6 11.0 .6-7.1 .6 17.0 .6-21.5 .6 10.5 .6-.3 .6 18.3 .6-44.6 .6 5.6 .6 13.4 .6 11.0 .6-16.2 .6 33.5 .6-1.8 .6-24.3 .6-24.3 .6 5.2 .6 1.4 .6 18.8 .6 .8 .6-16.3 .6 34.5 .6-5.5 .6 1.5 .6-13.3 .6-7.9 .6-11.7 .6 8.7 .6-26.6 .6 46.4 .6 7.5 .6-16.0 .6 22.9 .6-44.0 .6 54.2 .6-40.5 .6 44.3 .6-32.0 .6-24.4 .6 17.5 .6 20.7 .6-28.1 .6-6.4 .6 7.4 .6 32.8 .6-24.0 .6-25.1 .6 26.1 .6 4.1 .6 .8 .6 31.2 .6-36.8 .6-31.0 .6 26.7 .6 21.6 .6 .2 .6-16.0 .6 3.4 .6-2.6 .6-19.5 .6 53.9 .6-27.4 .6 19.6 .6-45.0 .6 43.2 .6 5.4 .6-2.9 .6 6.9 .6-28.9 .6 14.9 .6-32.2 .6 32.8 .6-44.0 .6 20.9 .6-9.4 .6 3.8 .6 11.0 .6-2.8 .6 12.4 .6 5.4 .6-15.1 .6 37.5 .6-39.0 .6-12.7 .6 7.4 .6-1.7 .6 17.6 .6 24.8 .6-21.1 .6 26.7 .6-13.0 .6-53.2 .6 32.9 .6 21.7 .6-8.8 .6-6.6 .6 24.8 .6-10.3 .6-27.7 .6 31.7 .6-9.5 .6 21.9 .6-27.3 .6-8.5 .6 17.6 .6 1.3 .6-4.7 .6-1.2 .6-11.1 .6 18.6 .6-47.3 .6 31.3 .6 21.8 .6-20.3 .6-8.6 .6 5.1 .6 23.3 .6 2.6 .6-22.6 .6 32.8 .6-14.0 .6-11.9 .6 17.9 .6-19.9 .6-1.0 .6 11.8 .6-45.5 .6 37.0 .6-4.6 .6-19.5 .6 55.4 .6-42.6 .6 22.7 .6-15.2 .6 5.7 .6-10.6 .6 3.5 .6 12.1 .6-30.7 .6-5.8 .6 31.6 .6-14.3 .6 8.4 .6-14.3 .6 19.1 .6-26.0 .6 14.6 .6 6.2 .6 10.1 .6-15.7 .6-17.4 .6-29.3 .6-.8 .6 30.8 .6-1.6 .6-18.8 .6 50.9 .6-17.5 .6-18.3 .6-.7 .6 25.0 .6-2.0 .6-3.2 .6-22.1 .6 33.3 .6-41.6 .6 24.2 .6 4.8 .6-2.0 .6-9.9 .6-21.6 .6 68.7 .6-44.1 .6-12.4 .6 13.2 .6 16.4 .6-4.0 .6 4.1 .6-9.1 .6 4.8 .6-.3 .6-15.7 .6 6.0 .6-.1 .6-8.7 .6 22.5 .6-11.8 .6-22.0 .6 29.9 .6-8.5 .6 18.1 .6-28.1 .6 1.8 .6 10.6 .6 17.4 .6 1.5 .6-36.9 .6 17.9 .6-31.7 .6 36.1 .6-13.6 .6-1.9 .6 10.9 .6-1.0 .6-9.5 .6 3.0 .6-.3 .6-4.5 .6 20.9 .6-7.4 .6-16.9 .6 32.8 .6 5.1 .6-16.6 .6-15.0 .6-11.7 .6-6.4 .6 26.1 .6-15.8 .6 13.5 .6-14.6 .6 5.7 .6-11.7 .6 27.8 .6 .3 .6 3.1 .6-23.7 .6 4.0 .6 35.0 .6-35.5 .6-13.8 .6 31.6 .6 14.1 .6-42.5 .6 31.2 .6-30.0 .6 15.0 .6-4.8 .6-11.1 .6 25.7 .6 25.8 .6-39.6 .6 10.1 .6-21.4 .6 21.6 .6-15.5 .6-3.4 .6 11.9 .6 6.2 .6-18.4 .6 7.2 .6 12.8 .6-2.5 .6 15.2 .6-37.7 .6 22.2 .6 7.7 .6-13.4 .6 38.5 .6-17.8 .6-27.0 .6 6.9 .6-9.4 .6 .3 .6 24.3 .6-26.3 .6-7.1 .6 4.8 .6 14.3 .6 .1 .6 12.6 .6-34.6 .6 27.1 .6-20.0 .6 23.4 .6-21.8 .6 22.1 .6 2.9 .6 11.9 .6-32.8 .6 17.3 .6-30.4 .6 20.3 .6 11.7 .6-11.8 .6-12.2 .6 26.1 .6-36.1 .6-4.8 .6 9.7 .6 51.3 .6-24.8 .6-7.6 .6-22.8 .6 18.2 .6-13.5 .6-5.3 .6-9.3 .6 47.6 .6-32.2 .6 12.2 .6 22.2 .6-9.5 .6-27.3 .6 28.5 .6-17.5 .6 .2 .6 11.7 .6 3.5 .6-18.0 .6-2.5 .6 1.8 .6-16.9 .6 46.4 .6-25.3 .6 11.6 .6 12.0 .6-20.7 .6 16.0 .6-1.4 .6-23.5 .6-4.9 .6 35.7 .6-19.7 .6 18.0 .6 19.8 .6-15.2 .6-4.4 .6-5.6 .6 9.4 .6-17.9 .6 10.7 .6 7.6 .6-22.5 .6-8.9 .6 32.8 .6-49.0 .6 43.6 .6-14.6 .6 7.3 .6 1.2 .6 24.3 .6 3.5 .6-41.4 .6-8.0 .6 10.3 .6-3.5 .6 4.3 .6 27.7 .6-2.8 .6-35.9 .6 18.6 .6 3.1 .6-34.3 .6 11.2 .6 22.0 .6 1.3 .6-38.9 .6-5.6 .6 43.0 .6-12.4 .6-10.7 .6 23.7 .6 18.8 .6-8.2 .6-38.2 .6 29.3 .6 1.1 .6-20.6 .6-11.8 .6 7.6 .6-3.9 .6 12.9 .6-18.4 .6 6.4 .6 22.8 .6-6.7 .6-11.3 .6 23.2 .6-15.1 .6-27.2 .6 19.7 .6 6.5 .6-23.3 .6 40.1 .6-26.1 .6-8.2 .6 35.4 .6-30.1 .6 25.1 .6 8.8 .6-8.1 .6-20.6 .6 4.9 .6 4.3 .6 22.0 .6-30.5 .6 21.0 .6 2.6 .6-18.0 .6 24.3 .6-17.4 .6 6.9 .6-39.4 .6 38.1 .6 2.1 .6-26.0 .6 5.4 .6-2.6 .6-4.4 .6 32.5 .6-26.1 .6-13.5 .6 8.0 .6 29.4 .6-48.7 .6 27.9 .6 3.9 .6 14.4 .6-44.7 .6 56.3 .6-19.4 .6-5.2 .6 13.5 .6-1.4 .6 31.4 .6-31.9 .6-25.2 .6-2.7 .6 28.0 .6-1.7 .6-3.5 .6 1.6 .6-1.9 .6-16.9 .6 10.5 .6 9.8 .6-9.4 .6-39.2 .6 28.1 .6 9.5 .6-15.0 .6 22.4 .6-12.3 .6 8.5 .6-14.6 .6 14.0 .6-3.7 .6 7.7 .6 15.8 .6-9.8 .6-7.6 .6 28.2 .6-39.0 .6 12.4 .6 11.0 .6-43.7 .6 41.8 .6 15.5 .6-13.3 .6-13.8 .6 20.8 .6-24.8 .6-6.9 .6 3.1 .6 7.3 .6-6.8 .6-8.6 .6-24.0 .6 15.2 .6 25.9 .6 14.1 .6-35.3 .6 7.1 .6 19.1 .6 2.7 .6-13.2 .6 26.2 .6-.3 .6-2.4 .6-.2 .6-50.9 .6 24.4 .6 .3 .6-5.4 .6 24.9 .6 .8 .6-10.9 .6-4.5 .6 5.0 .6 12.8 .6 .7 .6-1.2 .6-14.1 .6 25.0 .6-16.7 .6-13.8 .6 8.3 .6 38.7 .6-64.8 .6 10.6 .6-12.3 .6 17.9 .6-8.2 .6 40.6 .6-19.0 .6 6.7 .6-3.9 .6 1.6 .6-3.9 .6-16.8 .6-9.8 .6 18.6 .6 23.4 .6-17.7 .6 6.7 .6-46.9 .6 57.6 .6-27.7 .6 1.4 .6 10.1 .6-2.9 .6-2.4 .6 10.6 .6-30.8 .6 43.2 .6-9.0 .6-.3 .6-23.6 .6 16.9 .6-5.9 .6 1.8 .6 20.8 .6-17.4 .6-8.5 .6 5.0 .6-21.8 .6-1.7 .6 23.3 .6-4.0 .6-20.9 .6 40.1 .6-6.4 .6-5.2 .6 23.9 .6-18.8 .6 .6 .6-11.6 .6-12.8 .6 3.6 .6 .1 .6 25.7 .6-19.5 .6-17.5 .6 37.1 .6-23.5 .6-15.2 .6 29.8 .6-8.8 .6-9.3 .6 5.5 .6 28.8 .6-4.7 .6-3.1 .6-22.9 .6 24.1 .6 3.8 .6-6.4 .6-15.7 .6-2.3 .6-3.7 .6-27.9 .6 52.6 .6 19.6 .6-29.7 .6-3.2 .6-7.1 .6 1.9 .6-18.1 .6 23.1 .6-15.3 .6 44.6 .6-21.8 .6-34.0 .6 26.0 .6-20.9 .6 21.4 .6-9.2 .6 35.9 .6-26.0 .6 4.5 .6-22.2 .6 35.5 .6-68.3 .6 31.2 .6-9.9 .6 19.4 .6-10.7 .6 31.4 .6-18.3 .6 6.0 .6-5.2 .6-22.9 .6 28.6 .6-44.5 .6 33.8 .6 10.1 .6 .6 .6 7.2 .6-13.7 .6-9.0 .6 14.8 .6 15.8 .6-43.6 .6 17.5 .6-6.6 .6 22.2 .6-19.7 .6-13.1 .6 27.2 .6-5.4 .6 1.7 .6 10.8 .6-5.1 .6-14.8 .6-9.1 .6 21.6 .6 18.8 .6-15.4 .6-16.6 .6-3.5 .6-7.6 .6 15.1 .6 18.4 .6-30.3 .6 17.2 .6-18.2 .6 40.1 .6-21.8 .6 26.8 .6-31.3 .6 14.2 .6-11.2 .6-2.6 .6-2.4 .6 17.6 .6-10.2 .6 10.6 .6-18.2 .6-25.3 .6 40.9 .6 25.7 .6-74.1 .6 2.1 .6 25.0 .6 16.9 .6 3.1 .6 2.6 .6 21.0 .6-26.6 .6-13.7 .6 14.7 .6-18.0 .6 41.2 .6-55.5 .6 27.4 .6-14.4 .6 43.4 .6-22.5 .6-6.1 .6 18.9 .6-19.9 .6 11.1 .6 13.5 .6 14.5 .6-34.5 .6 7.2 .6-16.2 .6-1.5 .6 14.8 .6-6.9 .6 7.6 .6-.2 .6-11.0 .6 3.7 .6 18.8 .6-45.7 .6 12.1 .6 2.2 .6 18.5 .6-14.1 .6-3.9 .6 24.6 .6-30.0 .6 7.4 .6 28.5 .6-20.5 .6 29.1 .6-36.2 .6 41.6 .6-24.8 .6-2.1 .6 8.2 .6-13.1 .6-24.2 .6 16.6 .6-5.4 .6 35.5 .6-15.7 .6-16.9 .6 15.0 .6-7.6 .6-7.3 .6 23.1 .6-15.0 .6 22.2 .6-38.2 .6 28.7 .6-27.3 .6 51.0 .6-13.9 .6 1.1 .6-23.8 .6 11.2 .6-12.2 .6-12.1 .6 3.9 .6-30.5 .6 43.6 .6-17.2 .6 19.8 .6-18.4 .6 5.6 .6-26.8 .6 59.8 .6-8.8 .6-6.3 .6-8.2 .6-18.0 .6 12.2 .6 1.4 .6-2.4 .6-7.8 .6 7.8 .6 1.9 .6 9.8 .6-21.1 .6-28.8 .6-.1 .6 63.9 .6-34.8 .6-11.7 .6 41.2 .6-57.0 .6 49.6 .6-42.4 .6 38.5 .6-30.3 .6 9.1 .6 2.7 .6-.8 .6 20.8 .6-27.5 .6 19.7 .6 19.4 .6-15.1 .6 14.5 .6-61.2 .6 36.5 .6 2.3 .6 1.9 .6-3.3 .6-32.1 .6 43.0 .6-13.3 .6-8.5 .6 3.7 .6-13.4 .6 13.1 .6 20.1 .6-30.7 .6 39.7 .6-28.2 .6 10.1 .6 29.9 .6-3.9 .6-24.3 .6-15.2 .6 8.1 .6-2.6 .6 20.3 .6-1.8 .6-23.0 .6 9.7 .6 18.9 .6-31.3 .6 15.4 .6 31.1 .6-24.4 .6-10.7 .6-2.4 .6 8.0 .6 39.0 .6-24.8 .6-.7 .6-29.1 .6 17.0 .6-4.2 .6-.5 .6-5.8 .6 35.5 .6-57.3 .6-8.7 .6 47.9 .6-23.3 .6 9.4 .6 6.3 .6-23.3 .6 21.2 .6-25.8 .6 21.3 .6 46.6 .6-46.8 .6 24.3 .6-23.1 .6-3.3 .6 4.4 .6-2.2 .6 4.3 .6 17.2 .6 1.6 .6 9.1 .6-26.5 .6 7.1 .6-2.0 .6 11.3 .6-12.0 .6-11.3 .6 9.6 .6 7.8 .6-16.2 .6 3.4 .6-18.3 .6-5.3 .6 11.0 .6 46.6 .6-34.2 .6 29.0 .6-35.8 .6 18.6 .6-7.2 .6-6.6 .6 15.0 .6-49.0 .6 15.7 .6 40.3 .6-20.3 .6-1.8 .6 5.1 .6 14.8 .6-3.6 .6 4.9 .6 2.2 .6-11.3 .6-28.0 .6 23.3 .6-8.5 .6-32.7 .6 25.4 .6-.8 .6-3.1 .6 22.7 .6-8.7 .6 22.8 .6-53.1 .6 31.0 .6 25.5 .6-34.3 .6-7.3 .6 11.1 .6-19.2 .6 9.6 .6 33.2 .6 4.6 .6-4.5 .6 3.6 .6-10.2 .6-8.2 .6-5.5 .6 10.8 .6 5.7 .6 3.3 .6-19.8 .6 15.5 .6-27.9 .6 23.4 .6-23.3 .6 15.3 .6-17.2 .6 19.4 .6-28.2 .6 24.2 .6-10.5 .6-4.4 .6 9.4 .6-5.7 .6 46.6 .6-49.0 .6 26.3 .6-24.8 .6 16.1 .6-6.2 .6 12.2 .6-14.0 .6 15.3 .6-1.0 .6 19.2 .6-4.4 .6-27.6 .6 9.9 .6-8.8 .6 25.6 .6 18.3 .6-30.3 .6-39.2 .6 47.2 .6-32.9 .6 2.0 .6 29.5 .6-2.3 .6-18.2 .6-15.5 .6 54.7 .6-7.7 .6-39.2 .6 1.7 .6 27.0 .6 18.0 .6-69.8 .6 59.5 .6-31.5 .6 7.2 .6-19.9 .6 48.8 .6-34.4 .6 34.3 .6-20.2 .6 6.2 .6 .9 .6 21.8 .6-34.5 .6 33.5 .6-16.7 .6-52.2 .6 22.9 .6 13.7 .6 4.9 .6 7.7 .6 5.9 .6-30.8 .6 36.9 .6-38.1 .6 58.4 .6-48.0 .6-15.8 .6-1.3 .6 17.9 .6-1.8 .6-6.3 .6 2.8 .6 3.4 .6 44.7 .6-41.4 .6 16.3 .6-6.1 .6 14.3 .6-20.3 .6 20.6 .6-37.1 .6 3.8 .6-7.4 .6 26.3 .6 19.9 .6-40.1 .6 9.7 .6 5.1 .6 14.4 .6-28.7 .6 6.2 .6 15.8 .6-24.0 .6 44.1 .6-43.0 .6 21.8 .6-25.9 .6 15.9 .6 25.9 .6 10.5 .6-33.7 .6-19.9 .6 32.0 .6-14.8 .6 1.2 .6 7.6 .6-37.7 .6 25.5 .6 13.1 .6 8.8 .6-26.5 .6-.2 .6 13.9 .6-35.0 .6 30.7 .6-9.6 .6 17.6 .6-16.0 .6-23.0 .6 24.5 .6 11.1 .6 20.3 .6-30.2 .6 10.8 .6-5.1 .6-8.2 .6 6.6 .6-18.1 .6 22.0 .6-18.4 .6 27.1 .6-17.1 .6-8.7 .6 6.7 .6-11.7 .6 25.8 .6-11.6 .6-5.5 .6 18.9 .6-12.0 .6-15.8 .6 1.8 .6 6.2 .6-5.9 .6 15.7 .6-23.1 .6 39.6 .6-34.1 .6 3.7 .6 21.7 .6-12.1 .6 10.7 .6-32.9 .6 38.7" fill="none" stroke="#000000" stroke-width="8" stroke-linejoin="bevel" stroke-linecap="butt"/>
<path d="M474.5,761.3l.6-16.7 .6-3.6 .6-14.7 .6 23.9 .6 .8 .6-16.2 .6-5.5 .6 13.6 .6-9.6 .6 18.0 .6-6.7 .6-12.5 .6 .8 .6-8.6 .6 13.0 .6 35.2 .6-47.1 .6-13.0 .6 17.6 .6 13.4 .6 25.3 .6-34.1 .6 10.6 .6 7.0 .6 16.7 .6-44.8 .6 8.7 .6 24.8 .6-10.0 .6 18.3 .6-40.0 .6 13.4 .6 28.2 .6-37.1 .6 24.4 .6-25.9 .6 .5 .6 4.8 .6 8.8 .6 14.2 .6-13.5 .6 1.3 .6 16.0 .6-26.5 .6-3.5 .6 15.8 .6 18.7 .6-14.5 .6-8.5 .6 13.0 .6-19.7 .6 20.6 .6 2.5 .6-32.4 .6 31.4 .6-17.6 .6-10.9 .6 11.6 .6-3.2 .6 7.2 .6 15.8 .6 10.5 .6-23.0 .6-14.4 .6 27.2 .6-6.9 .6 27.9 .6-42.1 .6 20.2 .6-13.5 .6 23.9 .6-19.4 .6-6.6 .6 17.4 .6-10.7 .6-13.4 .6 28.7 .6-47.0 .6 25.3 .6-13.5 .6 6.9 .6 6.9 .6 10.6 .6 19.7 .6-10.5 .6 2.5 .6-2.8 .6-31.7 .6 17.0 .6-16.6 .6 30.1 .6-7.7 .6 6.4 .6 10.4 .6 15.0 .6-43.6 .6 21.4 .6-28.2 .6-.9 .6 27.3 .6-24.8 .6 26.8 .6-26.9 .6-6.1 .6 33.7 .6-52.1 .6 43.6 .6-14.6 .6 16.9 .6-26.7 .6-1.7 .6 26.0 .6 3.6 .6-13.6 .6 8.2 .6-4.7 .6-10.8 .6-6.4 .6 33.7 .6 11.2 .6-15.8 .6-35.1 .6 1.1 .6-.4 .6 38.1 .6-20.6 .6 4.9 .6 23.1 .6-29.9 .6 39.0 .6-36.3 .6-18.4 .6 38.6 .6-5.3 .6-24.7 .6-14.8 .6-7.2 .6 20.1 .6 20.6 .6 4.1 .6 3.9 .6-13.1 .6-3.1 .6-13.5 .6 25.2 .6 11.6 .6-31.5 .6-5.4 .6 12.6 .6-12.8 .6 10.5 .6 46.9 .6-15.4 .6-25.0 .6-4.8 .6 11.1 .6-28.4 .6 53.1 .6-18.1 .6-58.0 .6 26.7 .6 37.3 .6-35.2 .6 36.4 .6-47.0 .6 37.2 .6-4.4 .6-10.3 .6-1.1 .6 11.1 .6-15.9 .6 10.7 .6-15.1 .6 22.1 .6-8.6 .6 5.6 .6 28.6 .6-68.6 .6 42.9 .6-11.9 .6 2.8 .6 22.4 .6-28.2 .6-4.6 .6-3.1 .6-2.2 .6 26.1 .6 3.1 .6-14.5 .6-13.9 .6 23.2 .6 6.9 .6-1.0 .6-9.1 .6-36.1 .6 26.6 .6-21.7 .6 8.6 .6-10.3 .6 25.1 .6 4.4 .6-42.9 .6 34.9 .6 6.6 .6-20.3 .6 26.1 .6 2.9 .6-3.9 .6 25.7 .6-45.8 .6-14.2 .6-12.7 .6 50.6 .6 2.8 .6-56.4 .6 .2 .6 48.4 .6 8.4 .6 6.6 .6-29.3 .6 11.3 .6 2.6 .6-7.9 .6 5.0 .6-20.6 .6 7.9 .6 2.0 .6 4.4 .6 7.6 .6 9.3 .6-36.2 .6 41.8 .6-20.2 .6 20.4 .6-9.1 .6 5.2 .6-14.8 .6 23.4 .6 12.0 .6-25.3 .6 12.2 .6-39.8 .6 36.2 .6-9.9 .6-24.0 .6 47.1 .6-4.3 .6-36.3 .6 10.3 .6 13.1 .6-9.3 .6-.6 .6-7.3 .6 45.7 .6-42.1 .6 34.4 .6-27.2 .6 10.1 .6 12.6 .6 12.4 .6-9.7 .6-1.9 .6-24.3 .6 .1 .6-7.0 .6 4.6 .6 2.4 .6 36.6 .6-32.9 .6 18.0 .6-.9 .6 14.4 .6-33.3 .6 18.8 .6-6.8 .6-16.8 .6 21.3 .6-7.2 .6 .6 .6 4.7 .6-9.9 .6 10.5 .6-53.7 .6 42.2 .6-10.9 .6-20.6 .6 22.1 .6 17.6 .6-3.9 .6-24.4 .6 28.1 .6-6.6 .6-15.6 .6 8.0 .6 11.0 .6 3.4 .6-34.8 .6 3.8 .6 12.5 .6 24.9 .6-23.9 .6-11.8 .6-8.5 .6 2.1 .6 41.3 .6-41.1 .6 39.2 .6-25.7 .6-6.9 .6 5.3 .6 18.6 .6-2.3 .6-29.1 .6 32.8 .6-26.4 .6 10.8 .6 8.3 .6-6.3 .6-12.2 .6 2.0 .6 43.1 .6-19.0 .6-7.7 .6-19.3 .6-16.5 .6 20.5 .6-16.0 .6 31.0 .6-.1 .6-9.9 .6 10.4 .6-36.1 .6 20.3 .6 30.7 .6-7.6 .6-34.0 .6 36.0 .6-8.9 .6-16.6 .6 18.0 .6 7.8 .6-32.0 .6-8.6 .6 40.9 .6-23.3 .6 33.9 .6 8.7 .6-60.6 .6 5.2 .6 34.9 .6-12.3 .6-21.2 .6 3.8 .6 16.3 .6-18.3 .6 21.6 .6 8.5 .6-25.5 .6 7.4 .6 28.0 .6 8.2 .6-39.7 .6 23.7 .6-51.2 .6 35.0 .6-22.7 .6-6.5 .6 34.0 .6-13.0 .6-37.4 .6 29.0 .6-11.2 .6 44.3 .6-21.9 .6-7.3 .6 21.5 .6-25.6 .6 26.2 .6 21.8 .6-36.3 .6 9.3 .6 10.8 .6 26.0 .6-30.2 .6 5.6 .6 13.2 .6-31.9 .6-22.5 .6 55.7 .6-44.5 .6 1.7 .6 32.9 .6 17.0 .6-37.5 .6 24.9 .6-4.5 .6-21.4 .6 .3 .6-9.1 .6-6.2 .6 11.2 .6 36.7 .6-57.4 .6 30.1 .6-29.3 .6 31.6 .6-14.5 .6 41.2 .6-65.6 .6 26.2 .6 31.6 .6-44.1 .6-5.2 .6 21.2 .6-16.7 .6 2.7 .6-12.7 .6 37.5 .6-28.4 .6 12.8 .6 12.5 .6 13.3 .6-13.8 .6 13.3 .6-9.1 .6-41.3 .6 56.9 .6-35.2 .6-2.6 .6-33.6 .6 30.2 .6-3.2 .6 16.4 .6-6.0 .6-10.6 .6 29.1 .6-19.4 .6-9.2 .6 3.6 .6 3.4 .6-7.8 .6-26.9 .6 35.7 .6-41.2 .6 43.5 .6-7.1 .6-30.3 .6 37.0 .6-16.8 .6 21.7 .6 5.5 .6-27.4 .6 18.6 .6 14.6 .6-11.4 .6-4.6 .6 5.2 .6 1.6 .6-20.8 .6-3.9 .6 12.7 .6-18.1 .6 2.5 .6 9.2 .6 9.5 .6-39.3 .6 27.8 .6 13.8 .6-30.9 .6-10.0 .6 23.1 .6-26.2 .6 60.4 .6-23.8 .6 21.5 .6-60.3 .6 26.8 .6 28.1 .6 .3 .6-21.2 .6-9.8 .6 12.9 .6-3.8 .6 27.0 .6-45.9 .6 11.4 .6 20.6 .6-7.9 .6-.9 .6 5.0 .6 37.2 .6-12.4 .6-65.3 .6 28.4 .6 12.8 .6-10.9 .6-38.0 .6 53.5 .6-25.1 .6 2.1 .6 22.7 .6 4.5 .6 32.2 .6-30.8 .6-49.3 .6 56.9 .6-28.1 .6 34.9 .6-28.0 .6 1.7 .6 .3 .6-3.6 .6-3.5 .6-3.3 .6-2.6 .6 23.7 .6-1.7 .6-16.9 .6 27.8 .6-15.7 .6-38.2 .6 54.1 .6-33.3 .6 11.4 .6 6.9 .6-7.1 .6 8.7 .6-11.7 .6-38.0 .6 55.5 .6-17.6 .6 2.8 .6-1.3 .6 29.0 .6-1.7 .6 1.5 .6-39.7 .6 28.3 .6 36.5 .6-77.3 .6 21.0 .6 38.1 .6-53.8 .6 19.5 .6 12.1 .6-31.2 .6 12.9 .6 12.2 .6-3.9 .6 12.6 .6-12.7 .6 1.1 .6 17.8 .6-13.2 .6-5.6 .6 16.0 .6-3.2 .6-1.9 .6-11.9 .6-6.7 .6 11.9 .6 26.2 .6-24.6 .6 2.8 .6-37.0 .6 30.5 .6-6.5 .6-3.3 .6 6.1 .6 4.0 .6 5.0 .6 19.7 .6-59.7 .6 35.0 .6 9.6 .6 2.9 .6 17.5 .6-27.4 .6 23.2 .6 11.1 .6-40.7 .6 31.0 .6-40.9 .6 23.8 .6-43.6 .6 33.0 .6 1.8 .6-7.2 .6-4.0 .6 23.0 .6 6.2 .6-10.4 .6 3.9 .6-25.4 .6 8.3 .6 17.2 .6-15.5 .6-5.3 .6-11.9 .6 25.3 .6 .4 .6-4.5 .6 39.7 .6-35.4 .6 8.7 .6-37.2 .6 22.2 .6 4.4 .6-8.0 .6 13.7 .6-34.7 .6 17.8 .6 2.4 .6-.8 .6 1.3 .6-9.6 .6-8.2 .6-2.4 .6 .3 .6 35.8 .6-38.3 .6 58.6 .6-55.2 .6 30.2 .6 29.1 .6-82.8 .6 14.7 .6 15.2 .6 22.7 .6 29.2 .6-70.4 .6 47.7 .6 13.4 .6-23.4 .6 11.6 .6-7.9 .6-29.7 .6 9.9 .6-3.6 .6 27.6 .6-20.7 .6 .3 .6-20.5 .6 53.1 .6-13.7 .6-6.5 .6-5.9 .6-5.7 .6-39.6 .6 64.0 .6 8.4 .6-9.0 .6-46.8 .6-6.8 .6 28.4 .6-22.2 .6 48.8 .6-42.0 .6 25.6 .6-29.7 .6 40.6 .6-.1 .6-24.6 .6-8.3 .6 14.5 .6-8.8 .6 35.2 .6-23.9 .6-1.7 .6 12.3 .6-47.6 .6 72.7 .6-33.0 .6-29.6 .6 54.1 .6 19.0 .6-59.1 .6 19.8 .6-22.1 .6 24.4 .6 6.6 .6-3.9 .6-26.2 .6-7.8 .6 15.5 .6 3.7 .6-.8 .6-4.0 .6 4.2 .6-26.6 .6 30.3 .6-36.4 .6 17.2 .6 21.4 .6 7.2 .6-5.8 .6-10.1 .6 9.4 .6 16.9 .6-22.8 .6 10.2 .6-6.0 .6 14.7 .6-20.1 .6-13.6 .6 22.1 .6-3.2 .6 25.1 .6-64.5 .6 33.1 .6 15.3 .6-14.9 .6-.7 .6 2.5 .6 14.8 .6-3.5 .6-17.3 .6 11.9 .6-2.8 .6 15.0 .6-28.4 .6 11.6 .6 2.6 .6-9.7 .6-1.3 .6-11.3 .6 5.1 .6-8.7 .6 4.9 .6 6.0 .6 16.8 .6-11.2 .6-29.2 .6 22.8 .6 14.9 .6-15.5 .6-5.1 .6 38.6 .6-7.1 .6-51.1 .6 17.8 .6 .5 .6 34.2 .6-58.7 .6 49.0 .6 4.7 .6-1.0 .6-52.5 .6 16.4 .6 31.5 .6-33.2 .6 43.5 .6-65.1 .6 36.7 .6 2.0 .6-34.5 .6 12.8 .6 17.7 .6-2.8 .6 6.8 .6-9.0 .6 22.8 .6-47.4 .6 71.7 .6-6.1 .6-35.4 .6 20.2 .6 .8 .6-18.9 .6-14.5 .6 12.9 .6-9.5 .6 45.5 .6-65.0 .6 13.8 .6 7.3 .6 5.7 .6-35.9 .6 14.9 .6 19.6 .6 .8 .6 20.0 .6-41.0 .6 12.4 .6-36.4 .6 42.1 .6-3.6 .6 15.1 .6 10.1 .6 2.8 .6 4.3 .6-21.2 .6 24.5 .6 14.5 .6-42.9 .6 4.5 .6 2.2 .6-2.0 .6 5.7 .6-15.0 .6 15.9 .6-47.6 .6 51.7 .6-43.4 .6 23.7 .6-3.8 .6 46.5 .6-38.9 .6 31.2 .6-11.9 .6-27.0 .6 53.6 .6-27.7 .6-17.8 .6 6.2 .6 20.0 .6-20.3 .6 3.4 .6-16.8 .6 13.3 .6 15.1 .6 3.7 .6-17.7 .6 .9 .6-6.2 .6-33.6 .6 64.6 .6-40.1 .6-.2 .6-7.4 .6 21.3 .6 9.9 .6-16.7 .6 22.6 .6 .7 .6-38.3 .6 23.8 .6-44.0 .6 24.0 .6-4.2 .6 28.3 .6-.5 .6-40.8 .6 17.5 .6 18.2 .6-19.6 .6 19.1 .6 46.5 .6-50.1 .6 18.1 .6-43.4 .6 67.0 .6-46.5 .6 .8 .6 20.9 .6-2.7 .6-39.1 .6 20.8 .6 15.1 .6 15.6 .6-25.0 .6 8.2 .6 7.0 .6 8.3 .6-23.8 .6 8.9 .6-32.4 .6 27.1 .6-2.2 .6 26.6 .6-8.0 .6-33.5 .6 2.6 .6-8.1 .6 17.0 .6 8.2 .6-3.6 .6-11.3 .6 17.8 .6 42.9 .6-48.5 .6 7.8 .6-7.0 .6 6.1 .6 10.6 .6-48.2 .6 40.0 .6 22.5 .6-9.2 .6-16.1 .6-11.8 .6 50.6 .6-31.8 .6 14.6 .6 4.5 .6-18.1 .6 5.9 .6 4.1 .6 4.7 .6-4.4 .6-9.9 .6 24.7 .6 35.4 .6-51.2 .6-12.5 .6 16.8 .6 25.2 .6-18.8 .6-18.2 .6 40.8 .6-9.5 .6 1.3 .6-2.2 .6-5.1 .6 3.0 .6-31.4 .6 75.8 .6-6.9 .6-51.1 .6 20.2 .6 15.0 .6-51.2 .6 50.0 .6-34.2 .6-11.2 .6 30.3 .6 1.0 .6 10.6 .6-40.2 .6 49.1 .6-38.3 .6 20.1 .6 16.0 .6-31.2 .6 28.0 .6-4.1 .6-20.7 .6-17.3 .6 24.7 .6 30.7 .6 16.2 .6-34.7 .6-.9 .6 31.6 .6-34.7 .6-6.3 .6 6.4 .6-7.4 .6 35.0 .6-27.3 .6-4.8 .6-14.9 .6 14.2 .6 25.7 .6-16.0 .6-39.1 .6 28.2 .6-25.2 .6 28.2 .6 6.5 .6-12.2 .6-33.3 .6 30.1 .6 10.9 .6-17.6 .6-2.9 .6 11.5 .6-6.2 .6 3.9 .6 20.8 .6-16.0 .6 19.6 .6-24.0 .6 13.0 .6-21.4 .6 8.1 .6 8.5 .6 15.2 .6 2.3 .6-21.2 .6-11.3 .6 7.5 .6-15.1 .6 34.7 .6-5.3 .6-30.8 .6 8.5 .6 1.7 .6 17.9 .6-11.8 .6-43.2 .6 9.3 .6 31.4 .6-30.8 .6 31.5 .6-11.6 .6-12.4 .6-1.8 .6 25.9 .6 12.6 .6-11.3 .6 21.1 .6-8.2 .6 10.3 .6-17.7 .6-9.5 .6-5.2 .6 16.9 .6-24.5 .6 31.0 .6-33.0 .6 24.8 .6 4.4 .6-4.0 .6-19.2 .6 1.5 .6 35.3 .6-34.0 .6-17.2 .6 21.5 .6 14.5 .6-7.2 .6 11.2 .6-24.2 .6-1.3 .6 26.0 .6-14.4 .6 13.2 .6 8.8 .6-40.1 .6 19.3 .6-1.5 .6-.9 .6-8.1 .6 24.1 .6 6.5 .6-28.9 .6-.9 .6-14.6 .6-15.2 .6 28.6 .6-15.0 .6 11.2 .6 12.5 .6-.1 .6-20.5 .6 28.0 .6-17.3 .6-10.8 .6 18.1 .6-3.1 .6-12.0 .6 15.5 .6-12.8 .6-17.6 .6 13.1 .6 8.2 .6-14.9 .6 25.2 .6-18.6 .6-1.8 .6-33.1 .6 18.1 .6 23.3 .6 41.7 .6-56.3 .6-4.3 .6 16.9 .6-27.2 .6 31.0 .6 3.6 .6-21.4 .6 25.9 .6-46.1 .6 24.9 .6 29.1 .6-20.0 .6-8.1 .6 14.6 .6-3.5 .6-12.9 .6-18.1 .6 40.9 .6-35.9 .6 32.9 .6-27.9 .6 6.0 .6-4.0 .6 25.0 .6 4.3 .6-23.2 .6-.6 .6-24.5 .6-12.2 .6 17.1 .6 20.6 .6 17.1 .6-6.3 .6-.2 .6-7.8 .6-29.4 .6 13.8 .6 11.2 .6 15.8 .6-8.5 .6-19.3 .6 3.0 .6 29.6 .6-11.6 .6-11.3 .6-10.2 .6-19.7 .6 65.4 .6-54.5 .6 3.2 .6 12.7 .6-5.9 .6 11.1 .6 5.1 .6-1.6 .6-7.1 .6-15.1 .6 2.4 .6 14.4 .6 17.3 .6-3.5 .6 8.8 .6 16.0 .6-64.3 .6 21.0 .6 30.3 .6-40.2 .6 43.8 .6-17.6 .6-14.1 .6 11.1 .6-25.9 .6 8.4 .6-7.6 .6 21.7 .6 10.5 .6-25.4 .6-11.6 .6 26.4 .6 18.7 .6-9.0 .6-17.7 .6 17.7 .6-27.3 .6-.7 .6-15.2 .6 7.0 .6 16.7 .6 .7 .6-3.5 .6-7.5 .6 16.7 .6-17.7 .6 15.8 .6-9.2 .6 35.3 .6-27.0 .6-.8 .6 46.6 .6-41.0 .6 7.4 .6-14.3 .6 45.4 .6-43.1 .6 10.9 .6-15.5 .6 17.2 .6 16.8 .6-54.0 .6 30.4 .6-6.3 .6 28.1 .6-25.6 .6 4.1 .6 39.2 .6-31.6 .6-3.4 .6 8.1 .6-24.4 .6 17.8 .6-5.5 .6 12.1 .6 11.3 .6-33.2 .6 6.9 .6 8.5 .6-14.3 .6 19.0 .6-33.0 .6-1.0 .6 28.6 .6 1.8 .6 28.6 .6-54.0 .6 10.4 .6 15.7 .6 3.7 .6 1.2 .6-.1 .6 5.4 .6-37.3 .6 38.6 .6-55.7 .6 31.8 .6 25.6 .6-27.0 .6 12.9 .6-4.3 .6 40.1 .6-43.9 .6-8.8 .6 35.0 .6-12.9 .6-13.2 .6 17.5 .6-29.7 .6 18.1 .6-16.6 .6 31.7 .6-7.9 .6-24.7 .6-9.1 .6 39.2 .6-11.3 .6 11.4 .6 5.5 .6 13.8 .6-31.0 .6-1.6 .6-4.0 .6 28.5 .6-15.2 .6 19.3 .6-19.7 .6-9.4 .6-21.1 .6 6.9 .6 21.0 .6-35.3 .6 34.3 .6-6.0 .6-17.6 .6-19.3 .6 7.2 .6 26.0 .6-12.3 .6 9.3 .6 10.7 .6-1.6 .6-8.4 .6 4.2 .6-17.5 .6 29.3 .6-46.6 .6 .4 .6 45.3 .6 10.7 .6-22.4 .6-25.1 .6 58.2 .6-54.2 .6 56.0 .6-41.1 .6 4.8 .6-10.6 .6-17.4 .6 38.5 .6 11.5 .6 3.2 .6-35.3 .6-5.5 .6 17.1 .6 23.2 .6-2.9 .6-25.5 .6-13.1 .6-6.0 .6 55.3 .6-36.7 .6-5.8 .6 16.5 .6-20.3 .6 20.6 .6 7.0 .6 8.3 .6-34.2 .6 23.1 .6-22.9 .6 31.7 .6-9.9 .6 13.1 .6-48.7 .6 13.3 .6 18.2 .6 2.8 .6-6.8 .6 5.1 .6-14.3 .6-17.1 .6 13.2 .6 9.3 .6 9.6 .6 20.7 .6-33.1 .6 21.3 .6-11.7 .6 17.9 .6-38.3 .6 19.5 .6 28.4 .6-22.4 .6-8.2 .6-3.2 .6-3.5 .6 13.1 .6 6.4 .6-34.1 .6 27.8 .6-37.5 .6 34.5 .6-11.9 .6 36.4 .6-51.6 .6 44.2 .6-46.1 .6 28.5 .6-.8 .6-8.3 .6-3.7 .6 48.0 .6-15.5 .6-40.1 .6 19.4 .6-29.8 .6 28.7 .6 30.8 .6-38.7 .6 17.0 .6 13.4 .6-19.9 .6-26.4 .6 19.2 .6 24.1 .6-6.1 .6-26.8 .6 20.4 .6-.9 .6 22.6 .6-15.6 .6-10.6 .6 3.5 .6 6.6 .6-2.6 .6-23.7 .6 46.9 .6-53.0 .6 10.5 .6 27.0 .6-16.7 .6-10.5 .6 10.0 .6 21.9 .6-21.9 .6 13.0 .6-19.6 .6 4.9 .6 16.4 .6-24.9 .6-5.1 .6 12.2 .6-15.8 .6 20.3 .6 6.3 .6 21.1 .6-33.5 .6-15.1 .6-.1 .6 20.2 .6 4.0 .6-26.1 .6 13.9 .6-3.9 .6 13.3 .6-13.9 .6 30.7 .6-11.8 .6-16.9 .6 42.0 .6-43.7 .6 3.8 .6 34.5 .6-46.6 .6-5.0 .6 12.3 .6 3.0 .6 .2 .6-12.6 .6 23.7 .6-44.3 .6 40.0 .6 15.7 .6-11.7 .6-6.9 .6-1.3 .6 3.7 .6 10.3 .6-2.6 .6-9.8 .6 14.5 .6 25.2 .6-62.4 .6 26.2 .6-24.8 .6 21.8 .6 9.3 .6-22.5 .6 32.3 .6-23.4 .6-2.0 .6-3.7 .6 5.0 .6 6.3 .6-2.3 .6 0 .6 1.6 .6 25.4 .6 1.3 .6-15.3 .6-18.4 .6-7.5 .6 57.5 .6-19.3 .6 19.3 .6-55.3 .6-5.9 .6 1.1 .6 17.1 .6 14.9 .6 24.0 .6-32.1 .6-2.7 .6 6.7 .6-15.4 .6-24.1 .6 46.2 .6-23.2 .6-11.6 .6 17.3 .6 3.2 .6 37.8 .6-21.2 .6-9.2 .6-19.0 .6-4.7 .6 0 .6-7.7 .6 33.1 .6-27.8 .6 1.3 .6 16.6 .6-5.1 .6-11.9 .6-.8 .6-3.9 .6 10.7 .6 14.1 .6-6.6 .6-2.1 .6 .2 .6-15.5 .6 26.7 .6-6.3 .6 30.8 .6-40.1 .6 3.4 .6 9.3 .6 9.4 .6-27.8 .6 24.6 .6-34.7 .6-4.8 .6 34.3 .6 11.2 .6 7.8 .6-27.2 .6 38.3 .6-36.1 .6 2.4 .6-15.0 .6 14.6 .6-15.3 .6 16.3 .6 11.5 .6-40.2 .6 12.5 .6-.8 .6-6.8 .6 34.7 .6-38.9 .6 13.1 .6 9.0 .6 17.9 .6-3.4 .6-35.0 .6 45.2 .6-33.2 .6 28.1 .6-36.6 .6 53.2 .6-54.4 .6 1.5 .6-28.4 .6 51.0 .6-21.1 .6 40.1 .6-24.8 .6-6.6 .6-14.4 .6 21.1 .6 12.8 .6-3.6 .6 5.7 .6-27.7 .6-4.9 .6 9.4 .6 .4 .6 16.2 .6-9.9 .6-8.9 .6-8.1 .6-5.8 .6 30.0 .6-37.6 .6-15.2 .6 27.8 .6 11.8 .6 11.2 .6-25.6 .6 35.6 .6-.4 .6-9.0 .6-27.2 .6 12.5 .6 33.7 .6-22.3 .6-.5 .6 28.3 .6-13.6 .6-38.8 .6 32.8 .6-24.1 .6-4.7 .6 12.0 .6 19.7 .6-2.6 .6-.5 .6 17.9 .6-2.9 .6-38.0 .6-10.0 .6 15.9 .6 16.0 .6-16.0 .6-18.7 .6 7.9 .6 27.3 .6-16.9 .6 31.4 .6-27.4 .6 6.4 .6-2.2 .6 16.5 .6-41.5 .6 10.4 .6 26.9 .6-30.2 .6 21.2 .6 11.4 .6-42.8 .6 47.1 .6 4.2 .6-4.7 .6-27.5 .6-2.7 .6 31.5 .6-11.1 .6-23.4 .6 7.2 .6 28.7 .6 8.1 .6-1.0 .6-28.3 .6-30.7 .6 56.0 .6 9.1 .6-32.5 .6 3.5 .6-16.3 .6-27.1 .6 43.6 .6-14.1 .6 26.4 .6 12.2 .6-59.7 .6 36.1 .6-13.2 .6 18.6 .6-2.6 .6 20.8 .6-17.7 .6-16.2 .6 16.5 .6-12.0 .6-5.8 .6 27.3 .6-47.0 .6 33.6 .6 27.7 .6-44.6 .6 23.9 .6-28.6 .6-3.6 .6 9.6 .6 12.3 .6 24.2 .6-64.5 .6 41.6 .6-6.2 .6-13.3 .6-17.5 .6 28.0 .6 38.1 .6-30.0 .6 5.3 .6-22.5 .6 16.3 .6-27.0 .6 55.2 .6-30.1 .6 8.0 .6-31.1 .6 .7 .6 15.5 .6 2.5 .6 27.0 .6-14.0 .6-.9 .6-18.5 .6-5.0 .6 25.0 .6 14.8 .6-32.4 .6 14.2 .6 13.8 .6-17.2 .6-10.0 .6 22.4 .6 14.0 .6-28.4 .6-6.0 .6-4.4 .6 25.0 .6-35.1 .6 15.9 .6-2.7 .6 19.9 .6-23.5 .6-23.5 .6 28.7 .6-3.5 .6-6.3 .6 15.2 .6-30.5 .6 35.1 .6-49.8 .6 18.3 .6 12.2 .6 18.7 .6-17.8 .6 20.4 .6 2.4 .6-1.5 .6 5.7 .6-29.1 .6 .7 .6 15.6 .6 5.2 .6-17.1 .6 23.4 .6 8.1 .6-13.0 .6-22.6 .6 7.2 .6 .4 .6-12.2 .6 17.3 .6-6.4 .6-12.7 .6 28.7 .6-13.9 .6 28.0 .6-36.4 .6 2.0 .6 10.0 .6 29.4 .6-5.8 .6-26.2 .6 17.0 .6-19.7 .6-1.6 .6 11.4 .6 12.4 .6-40.7 .6 35.3 .6-.2 .6-5.0 .6-11.2 .6 27.4 .6 .5 .6-1.8 .6-1.3 .6-49.6 .6 38.7 .6-13.2 .6 10.4 .6-18.3 .6-19.9 .6 40.5 .6 .7 .6-15.5 .6 32.7 .6-70.3 .6 44.1 .6 27.2 .6-10.6 .6-21.7 .6 28.6 .6 15.4 .6-25.3 .6-1.4 .6-25.9 .6 6.3 .6 32.6 .6-21.6 .6-19.6 .6-10.5 .6 33.2 .6 10.9 .6-12.1 .6-13.0 .6 31.5 .6-27.4 .6 12.6 .6-2.2 .6-2.6 .6 .5 .6-9.3 .6 28.5 .6 .6 .6-44.2 .6 26.1 .6 9.3 .6-43.3 .6 25.4 .6 6.9 .6-4.1 .6-7.4 .6 20.6 .6 11.9 .6-25.3 .6-5.4 .6 1.6 .6 15.2 .6-28.2 .6 15.4 .6 21.2 .6-36.0 .6 37.5 .6-20.7 .6 28.0 .6-55.3 .6 25.8 .6 22.0 .6-41.7 .6-5.4 .6 37.4 .6 22.5 .6-7.5 .6-37.8 .6 8.0 .6 11.7 .6-42.5 .6 59.1 .6-32.1 .6-22.4 .6 14.6 .6 11.5 .6 6.0 .6-2.1 .6 23.7 .6-13.6 .6 2.3 .6-9.4 .6 13.2 .6-7.2 .6 18.6 .6-9.0 .6-9.8 .6-28.4 .6 26.6 .6-25.1 .6 38.5 .6-6.6 .6 2.4 .6 2.6 .6-14.1 .6 13.8 .6-9.0 .6 6.5 .6 8.3 .6-52.5 .6 14.1 .6 4.6 .6-8.7 .6 24.0 .6-5.2 .6 9.8 .6-48.2 .6 29.3 .6 13.0 .6-10.3 .6-5.0 .6 19.0 .6-17.5 .6 53.3 .6-28.0 .6 1.3 .6-27.1 .6 12.6 .6 31.0 .6-30.8 .6 20.3 .6-26.0 .6-2.4 .6 17.6 .6-8.8 .6-3.9 .6 33.2 .6-68.2 .6 39.1 .6 11.7 .6 19.3 .6-32.1 .6 2.7 .6-21.5 .6 18.3 .6 5.5 .6-32.8 .6 6.2 .6 52.8 .6-29.9 .6-24.1 .6 35.9 .6-14.0 .6 6.1 .6-33.2 .6-2.1 .6 22.8 .6 14.4 .6 16.7 .6 7.9 .6-11.4 .6-25.1 .6 32.9 .6-23.8 .6 .8 .6-5.6 .6-17.9 .6-10.2 .6 23.9 .6 .7 .6 9.1 .6-5.9 .6 3.4 .6-36.6 .6 7.4 .6-.5 .6 49.4 .6-40.7 .6 24.1 .6-44.4 .6 68.9 .6-24.3 .6 27.3 .6-1.8 .6-34.5 .6 20.1 .6-37.5 .6-12.9 .6 45.5 .6-39.7 .6 14.0 .6-2.2 .6-4.1 .6 9.9 .6-.5 .6 23.1 .6-6.0 .6-49.5 .6 37.0 .6 14.4 .6 28.0 .6-73.3 .6 4.9 .6 26.1 .6-2.6 .6-45.5 .6 54.3 .6-1.6 .6 14.3 .6-33.8 .6 22.6 .6 2.1 .6 22.5 .6-26.0 .6-13.4 .6 10.7 .6 4.3 .6-30.4 .6 8.0 .6 24.4 .6-25.1 .6-4.3 .6-17.0 .6 70.2 .6-33.8 .6-1.2 .6-35.2 .6 39.7 .6 3.4 .6 7.4 .6-6.2 .6-3.1 .6-7.2 .6 22.4 .6-24.7 .6-25.1 .6 13.4 .6 9.1 .6 18.9 .6-7.6 .6 8.4" fill="none" stroke="#ff0000" stroke-width="8" stroke-linejoin="bevel" stroke-linecap="butt"/>
<path d="M474.5,928.3l.6-8.2 .6 16.8 .6-4.2 .6 4.2 .6 2.3 .6-6.0 .6-8.9 .6 28.9 .6-29.0 .6-14.7 .6 16.9 .6 18.2 .6 16.7 .6 9.9 .6-44.5 .6-20.2 .6 34.8 .6 17.7 .6-37.7 .6 60.2 .6-66.0 .6 10.9 .6 16.9 .6-28.4 .6 11.6 .6 25.9 .6-48.1 .6 26.5 .6 6.4 .6-8.5 .6-2.4 .6 28.5 .6 18.6 .6-15.0 .6-42.3 .6 64.5 .6-43.3 .6 .3 .6 9.4 .6-1.2 .6-16.2 .6-2.3 .6 14.3 .6 9.8 .6-7.9 .6 8.3 .6-23.8 .6 15.6 .6-25.1 .6 1.4 .6 1.4 .6 14.9 .6 .6 .6-7.7 .6-23.5 .6 3.1 .6 30.7 .6 15.2 .6-26.3 .6 30.6 .6 15.4 .6-18.5 .6-14.6 .6 10.2 .6-14.6 .6 .3 .6-10.3 .6 11.7 .6-10.2 .6-6.8 .6 33.3 .6-16.6 .6-17.9 .6 7.7 .6 9.7 .6-29.8 .6 18.4 .6 34.4 .6-4.1 .6-40.0 .6 12.1 .6-13.5 .6 12.5 .6 12.2 .6 13.8 .6-26.5 .6 11.6 .6-11.0 .6 11.1 .6-22.9 .6 16.5 .6-.4 .6-14.3 .6 18.1 .6-23.0 .6 11.0 .6 4.8 .6-31.8 .6 49.4 .6 7.9 .6-19.6 .6-23.0 .6 15.3 .6 19.7 .6-9.8 .6-10.5 .6-13.3 .6-7.7 .6 41.4 .6 10.3 .6-25.6 .6-7.2 .6-1.1 .6 21.3 .6-8.1 .6-3.3 .6 3.2 .6 45.7 .6-74.8 .6 32.4 .6 13.2 .6-2.4 .6-43.0 .6 48.4 .6 3.3 .6-6.8 .6 10.9 .6 9.2 .6-55.8 .6 38.6 .6-19.1 .6-34.0 .6 22.7 .6 3.0 .6-1.3 .6 2.3 .6-22.1 .6 28.8 .6-12.8 .6 2.3 .6-33.0 .6 43.6 .6-4.3 .6 .7 .6 15.8 .6-2.8 .6-4.3 .6 2.8 .6-19.7 .6-4.4 .6 11.7 .6 1.4 .6-.5 .6-17.8 .6 41.3 .6-7.2 .6 2.5 .6-28.0 .6-7.2 .6 22.6 .6-11.1 .6 3.6 .6-7.9 .6 .4 .6 7.9 .6-7.6 .6-18.8 .6-1.6 .6 52.7 .6-33.0 .6 17.7 .6 15.1 .6-21.5 .6 15.3 .6-31.6 .6 27.7 .6-28.3 .6 14.6 .6-31.1 .6 67.0 .6-17.2 .6 6.5 .6-33.4 .6 30.7 .6-9.8 .6-14.9 .6 26.9 .6-29.3 .6 15.0 .6 6.2 .6-18.0 .6-7.7 .6 22.6 .6 3.4 .6-18.7 .6-21.2 .6 22.7 .6-4.3 .6-2.4 .6 32.2 .6-17.9 .6-1.1 .6-3.5 .6 7.7 .6-21.7 .6 1.1 .6 42.2 .6-5.8 .6-30.1 .6-4.4 .6 12.1 .6-17.9 .6 21.0 .6-13.3 .6-21.4 .6 41.9 .6-30.5 .6 .2 .6 9.6 .6-27.2 .6 78.0 .6-44.2 .6 39.6 .6-50.9 .6-8.2 .6 21.9 .6 18.8 .6-2.9 .6-17.8 .6 5.3 .6 22.9 .6 6.4 .6-34.8 .6-6.3 .6 8.0 .6 11.1 .6-39.5 .6 61.3 .6-26.2 .6-13.6 .6 17.3 .6-9.9 .6 .5 .6-39.9 .6 51.1 .6-16.3 .6-34.3 .6 44.3 .6 35.7 .6-9.8 .6-14.3 .6-19.7 .6 37.6 .6-10.0 .6-17.7 .6-6.2 .6 8.7 .6-13.0 .6 22.7 .6-9.5 .6-20.4 .6 19.1 .6-2.8 .6-7.5 .6-4.7 .6-.7 .6 8.0 .6 18.8 .6-13.8 .6 25.3 .6-17.8 .6 13.5 .6-17.1 .6 26.0 .6-17.7 .6-42.0 .6 37.7 .6-.2 .6 5.1 .6-13.5 .6-18.2 .6 20.1 .6 17.0 .6-7.3 .6 12.2 .6-24.0 .6-17.7 .6 36.7 .6-33.9 .6 10.4 .6-9.2 .6 25.2 .6-5.2 .6-.8 .6 11.3 .6-33.0 .6 7.8 .6-6.8 .6 20.8 .6-21.6 .6 2.9 .6-4.0 .6 40.3 .6-56.9 .6 13.6 .6 32.2 .6-12.1 .6-28.9 .6 36.4 .6 12.9 .6-42.0 .6 30.7 .6 1.9 .6-17.1 .6-9.9 .6 36.9 .6 20.0 .6-20.5 .6-41.2 .6 26.9 .6-7.4 .6 11.8 .6-22.2 .6 14.5 .6-8.7 .6 2.0 .6 2.7 .6-25.3 .6-8.0 .6 34.8 .6 20.9 .6 2.1 .6-58.9 .6 71.1 .6-25.8 .6-18.4 .6-6.9 .6-14.6 .6 17.6 .6 21.6 .6-26.1 .6 5.7 .6 22.2 .6-47.3 .6-9.3 .6 61.1 .6-16.8 .6-47.2 .6 43.1 .6-6.1 .6 21.9 .6-37.3 .6 54.4 .6-62.0 .6 33.5 .6 6.1 .6-14.0 .6-12.7 .6 11.2 .6-7.1 .6-.9 .6 28.0 .6-4.5 .6-25.6 .6 17.3 .6-45.9 .6 19.8 .6-.5 .6 11.8 .6 8.8 .6 21.5 .6-34.6 .6 33.8 .6-11.6 .6 16.8 .6-39.3 .6 7.6 .6 7.2 .6 10.7 .6-36.8 .6 33.9 .6-4.2 .6 9.9 .6-12.6 .6-17.1 .6-4.4 .6 52.9 .6-45.2 .6 28.8 .6-16.5 .6 3.6 .6 21.8 .6-24.5 .6 38.8 .6-25.5 .6 1.5 .6-8.0 .6-13.3 .6-6.5 .6 4.8 .6 .3 .6-8.2 .6-14.4 .6 48.3 .6-5.3 .6 7.2 .6-25.5 .6 16.7 .6-23.8 .6 18.7 .6-9.7 .6 13.5 .6-33.8 .6 33.1 .6-37.9 .6 12.3 .6 15.1 .6 9.5 .6-22.1 .6 22.1 .6-30.6 .6 30.9 .6 26.3 .6-54.6 .6-13.2 .6 5.9 .6 37.5 .6 4.2 .6-23.7 .6 25.9 .6-26.0 .6-16.7 .6 17.2 .6 13.2 .6-1.5 .6-24.1 .6 7.4 .6 31.3 .6-27.0 .6-2.4 .6 17.9 .6-29.9 .6 22.9 .6 11.7 .6-14.5 .6 14.4 .6-40.0 .6 15.9 .6-5.0 .6 40.3 .6-15.9 .6-2.3 .6-48.2 .6 29.2 .6 19.4 .6-12.6 .6 21.1 .6 12.1 .6-12.4 .6-6.1 .6 6.1 .6-14.9 .6 3.3 .6-20.2 .6 17.9 .6-11.8 .6-17.5 .6 27.2 .6-32.2 .6 53.0 .6 8.7 .6-20.7 .6 16.2 .6-21.0 .6-9.6 .6 29.8 .6-7.4 .6-38.8 .6 14.9 .6 .7 .6 33.5 .6-16.5 .6 17.9 .6-36.1 .6 29.3 .6-34.9 .6 44.2 .6-45.5 .6-5.9 .6 59.2 .6-26.4 .6 22.4 .6-34.8 .6 17.6 .6-.1 .6-27.1 .6-1.6 .6 15.5 .6 30.2 .6-24.4 .6-8.7 .6 4.4 .6-10.3 .6 13.4 .6-8.2 .6 3.0 .6 8.4 .6 8.8 .6-22.7 .6 18.4 .6-5.5 .6-26.0 .6-3.4 .6 50.4 .6-53.6 .6 39.5 .6 4.1 .6-39.7 .6 47.1 .6-3.7 .6-48.0 .6 13.0 .6-8.4 .6 43.9 .6-37.8 .6-24.6 .6 55.8 .6-23.5 .6 9.7 .6-19.2 .6 31.6 .6 10.2 .6-2.6 .6-15.3 .6-6.3 .6 25.9 .6 16.6 .6-22.8 .6 3.3 .6-20.4 .6 16.9 .6-7.7 .6-44.6 .6 49.4 .6-29.8 .6 28.1 .6-3.4 .6-16.4 .6 13.0 .6-13.5 .6 6.6 .6-9.5 .6 35.7 .6-18.9 .6-13.5 .6 8.5 .6 5.7 .6 3.0 .6-25.6 .6 37.6 .6-13.5 .6-6.1 .6 45.2 .6-55.6 .6 45.4 .6-71.9 .6 40.3 .6 37.1 .6-45.4 .6 .3 .6 24.4 .6-21.1 .6 30.9 .6-36.9 .6 17.6 .6-4.0 .6-7.2 .6-5.5 .6 8.5 .6 6.1 .6-24.8 .6 23.4 .6-36.2 .6 12.9 .6 44.6 .6-30.0 .6-28.2 .6 29.7 .6 18.3 .6-26.8 .6-22.4 .6 43.7 .6 1.5 .6-2.0 .6-38.7 .6 5.8 .6-3.5 .6 21.9 .6 21.4 .6-25.9 .6 4.5 .6-7.7 .6 6.6 .6 4.8 .6 26.4 .6-20.2 .6 6.3 .6-3.7 .6-19.6 .6-2.8 .6-14.2 .6 28.1 .6-16.3 .6 44.9 .6-8.1 .6-16.8 .6-3.3 .6-8.5 .6-5.4 .6 18.8 .6-7.9 .6-6.4 .6-6.5 .6 32.0 .6-29.7 .6 1.0 .6 24.5 .6-13.5 .6 9.6 .6-23.3 .6 9.9 .6 48.2 .6-5.5 .6-44.7 .6 2.2 .6-17.9 .6 9.3 .6 19.9 .6-8.4 .6-18.6 .6 17.1 .6-5.7 .6 4.7 .6 26.6 .6-32.7 .6-17.7 .6 27.0 .6 11.0 .6-16.2 .6 7.1 .6-18.6 .6-2.1 .6 47.8 .6-26.3 .6 16.1 .6-40.4 .6 7.6 .6 25.0 .6 34.4 .6-39.8 .6 16.1 .6 5.7 .6-56.8 .6 54.3 .6-9.0 .6-2.4 .6-3.9 .6-1.1 .6-13.0 .6-33.9 .6 41.9 .6 13.5 .6-8.0 .6 11.3 .6-24.1 .6 3.3 .6-20.3 .6-7.1 .6 43.7 .6-12.9 .6-1.6 .6 7.2 .6 1.0 .6-4.2 .6-6.2 .6 9.5 .6 5.0 .6-10.6 .6-9.2 .6 11.4 .6 16.1 .6-20.8 .6 26.7 .6-27.3 .6 5.3 .6 3.9 .6-6.0 .6-15.7 .6 4.5 .6-33.0 .6 17.0 .6 15.1 .6-15.2 .6 5.5 .6 17.1 .6-11.6 .6 19.9 .6 4.7 .6-12.4 .6-14.5 .6-15.2 .6 7.0 .6 11.7 .6 12.9 .6-14.5 .6-20.7 .6 46.7 .6-26.7 .6-27.5 .6 38.3 .6 17.4 .6-51.5 .6 15.2 .6 13.7 .6 15.8 .6-14.5 .6 15.6 .6-48.3 .6 66.2 .6-27.8 .6 10.9 .6-27.3 .6 2.8 .6 20.3 .6 5.2 .6-23.4 .6 6.7 .6 10.2 .6-8.7 .6-17.8 .6 .9 .6 45.5 .6-51.2 .6 30.5 .6-7.9 .6-36.3 .6 83.7 .6-63.7 .6 5.9 .6 54.9 .6-54.5 .6 10.4 .6 9.2 .6-1.8 .6 15.8 .6 1.0 .6-22.1 .6 37.8 .6-14.9 .6-22.6 .6 7.8 .6-6.6 .6-9.3 .6 3.4 .6-12.4 .6 38.3 .6-22.2 .6 14.8 .6-24.2 .6 6.8 .6 22.3 .6-17.4 .6-40.4 .6 27.0 .6-3.8 .6 25.7 .6-.3 .6-5.1 .6-1.3 .6-10.4 .6 3.7 .6 3.5 .6 2.6 .6-16.4 .6 14.8 .6 23.0 .6-18.4 .6 11.3 .6-16.8 .6-18.5 .6 16.6 .6-11.9 .6 7.4 .6 7.7 .6 .7 .6-3.3 .6 23.3 .6-14.0 .6 24.5 .6-11.6 .6-13.8 .6-3.2 .6-22.6 .6 23.4 .6-12.5 .6 6.5 .6 1.4 .6 12.0 .6-11.9 .6 5.0 .6 2.5 .6 13.6 .6-10.0 .6 4.4 .6-39.1 .6 10.5 .6 23.5 .6-3.1 .6-13.4 .6-6.9 .6 17.7 .6 9.9 .6 23.3 .6-5.3 .6-28.6 .6 14.8 .6-34.0 .6 24.9 .6-3.1 .6 .6 .6 24.9 .6-2.7 .6-40.9 .6 49.7 .6-30.6 .6 10.0 .6 35.1 .6-38.9 .6-35.9 .6 39.3 .6 49.3 .6-34.3 .6-31.7 .6 2.0 .6 38.8 .6-16.4 .6-15.5 .6 10.6 .6 31.8 .6-35.1 .6 9.8 .6 4.2 .6-9.9 .6 16.9 .6-30.9 .6 1.5 .6-15.6 .6 36.8 .6-9.5 .6 3.3 .6 7.7 .6-11.7 .6 46.8 .6-39.4 .6 3.9 .6 4.1 .6-3.2 .6-25.5 .6 12.7 .6-5.5 .6-3.7 .6 18.3 .6-20.4 .6 29.4 .6-20.1 .6-10.0 .6 12.7 .6 13.2 .6 15.6 .6-55.0 .6 3.1 .6 26.6 .6 23.1 .6-37.4 .6 10.8 .6 15.4 .6-28.2 .6-8.6 .6 40.6 .6-19.1 .6 2.4 .6-4.4 .6-19.1 .6 26.2 .6-8.8 .6 23.7 .6 5.3 .6 9.6 .6-40.4 .6 5.1 .6 7.3 .6-9.8 .6 21.3 .6 13.9 .6-16.2 .6-11.1 .6-1.6 .6-4.3 .6 16.0 .6-10.5 .6 16.3 .6 11.0 .6-19.0 .6 3.0 .6-4.1 .6-4.9 .6-12.0 .6 16.8 .6-20.9 .6 14.4 .6-7.7 .6 36.9 .6-36.6 .6-11.3 .6 2.5 .6 51.1 .6-11.5 .6-9.0 .6-18.9 .6 30.6 .6-8.3 .6-21.3 .6 10.3 .6 12.3 .6-10.7 .6-18.0 .6 44.2 .6-70.1 .6 22.6 .6 20.3 .6 5.9 .6-13.9 .6 38.7 .6-31.7 .6 .6 .6 29.4 .6-6.0 .6 8.1 .6-7.9 .6-20.2 .6 3.8 .6 16.2 .6-21.8 .6-3.0 .6-.8 .6 14.0 .6-17.5 .6 9.1 .6-3.0 .6-14.6 .6 30.5 .6-13.1 .6 9.7 .6 5.2 .6 9.4 .6-24.7 .6-4.6 .6 44.4 .6-23.1 .6 11.8 .6-21.9 .6 1.7 .6-8.0 .6 5.1 .6 10.3 .6-14.8 .6-9.8 .6 15.6 .6 11.6 .6-3.8 .6 17.0 .6-38.1 .6 13.2 .6 13.5 .6-16.8 .6 7.8 .6-24.2 .6 20.6 .6-7.6 .6-6.6 .6-2.7 .6 1.0 .6-4.6 .6-13.9 .6 21.1 .6-.3 .6 16.5 .6-13.6 .6-12.4 .6 21.0 .6 4.9 .6-6.2 .6 1.6 .6-2.9 .6 15.2 .6-39.0 .6 41.0 .6-2.5 .6-44.5 .6 17.5 .6 18.8 .6 .8 .6 4.2 .6-6.4 .6-10.7 .6-2.3 .6-10.5 .6 32.0 .6 8.7 .6-7.4 .6-33.5 .6-8.7 .6 31.5 .6 13.4 .6 5.3 .6 .2 .6-10.2 .6-1.7 .6-18.3 .6 2.8 .6 31.0 .6-32.8 .6 24.8 .6-22.2 .6-12.2 .6 7.9 .6-19.5 .6 2.0 .6 14.8 .6 .3 .6 .1 .6-3.7 .6 16.7 .6-19.6 .6 19.5 .6-27.0 .6 16.9 .6 0 .6 4.7 .6 2.6 .6 13.1 .6-10.0 .6-8.5 .6 2.6 .6-.8 .6 4.8 .6-9.3 .6 17.1 .6 3.1 .6 5.0 .6-19.2 .6 15.0 .6 19.3 .6-59.7 .6 65.5 .6-78.0 .6 30.5 .6 23.1 .6 11.5 .6-39.0 .6 11.0 .6-1.4 .6 7.9 .6-3.3 .6-30.8 .6-18.2 .6 48.5 .6-12.3 .6 41.9 .6-41.8 .6 6.2 .6 31.3 .6-43.1 .6 17.6 .6 14.7 .6-43.3 .6 53.4 .6-11.9 .6-4.8 .6-7.1 .6 9.0 .6 13.3 .6-40.2 .6 27.7 .6 3.7 .6-12.3 .6 8.7 .6-29.5 .6-25.8 .6 36.6 .6 2.8 .6-17.3 .6 12.8 .6-10.5 .6 19.5 .6-29.7 .6 40.9 .6 5.3 .6-36.0 .6 8.3 .6 19.2 .6-16.7 .6-1.0 .6 22.8 .6-52.8 .6 12.1 .6 34.3 .6-15.2 .6-14.7 .6-2.1 .6-11.1 .6 28.1 .6 18.7 .6-12.6 .6 36.0 .6-62.4 .6 12.9 .6 10.7 .6 5.4 .6-1.5 .6-3.4 .6-19.3 .6 12.7 .6 5.9 .6-3.2 .6-11.7 .6 35.6 .6 2.3 .6-48.0 .6 17.6 .6 9.9 .6 6.0 .6-3.2 .6-23.1 .6 36.3 .6-14.3 .6-11.2 .6 15.2 .6-15.8 .6-24.5 .6 29.7 .6-1.1 .6-4.5 .6-16.7 .6-3.4 .6 35.1 .6-4.6 .6-47.8 .6 37.1 .6-1.4 .6 10.6 .6 19.1 .6-13.5 .6-12.9 .6 11.7 .6-9.6 .6-15.4 .6 26.0 .6 26.0 .6-19.8 .6-25.0 .6 28.6 .6-4.4 .6-2.4 .6-15.9 .6-9.1 .6 1.5 .6 18.7 .6-1.4 .6-7.5 .6 22.3 .6 20.4 .6-41.4 .6 .4 .6 9.4 .6-9.2 .6 2.2 .6 13.5 .6-14.7 .6 2.9 .6 10.3 .6 12.8 .6-50.9 .6 32.9 .6 3.1 .6-19.3 .6 2.2 .6 25.8 .6-26.5 .6-15.7 .6 11.1 .6-5.4 .6-17.6 .6 33.9 .6 11.8 .6-10.7 .6 8.3 .6 36.8 .6-45.9 .6 35.2 .6-39.6 .6 .5 .6 4.2 .6 28.0 .6-40.7 .6-4.0 .6 11.3 .6 1.7 .6 28.9 .6-12.6 .6-43.3 .6 31.3 .6 13.5 .6-6.6 .6 13.5 .6-21.4 .6-9.2 .6 25.5 .6-25.2 .6 46.6 .6-35.7 .6-3.4 .6 27.7 .6-6.6 .6-22.7 .6 13.5 .6-12.1 .6 5.5 .6 8.3 .6-18.9 .6-6.4 .6 10.9 .6 5.9 .6-38.7 .6 22.6 .6-3.7 .6-14.2 .6 26.9 .6-36.9 .6 32.3 .6-16.1 .6 37.7 .6-28.0 .6-32.7 .6 69.3 .6-44.4 .6 37.4 .6-10.6 .6-31.3 .6 8.7 .6 25.3 .6-10.2 .6 7.3 .6-3.9 .6-12.8 .6 28.2 .6-16.9 .6-5.2 .6 10.1 .6-35.0 .6 17.6 .6 23.8 .6-7.4 .6-20.8 .6 35.3 .6 23.4 .6-68.5 .6 9.9 .6-5.6 .6 7.6 .6 8.5 .6 15.9 .6 16.9 .6-45.6 .6 17.1 .6 .7 .6-17.5 .6 29.6 .6-9.5 .6-31.2 .6 73.7 .6-41.4 .6-2.6 .6 17.6 .6-17.6 .6 17.0 .6 18.0 .6-24.2 .6 14.0 .6-11.0 .6-4.8 .6 13.7 .6 2.5 .6-37.9 .6-9.1 .6 2.9 .6 8.3 .6 16.1 .6-.7 .6-8.2 .6 7.6 .6 25.4 .6-47.7 .6-3.9 .6 48.9 .6-4.0 .6-9.2 .6 2.1 .6-14.4 .6 18.7 .6 16.0 .6-51.3 .6 7.3 .6 23.2 .6 28.8 .6-36.4 .6 16.0 .6 4.3 .6-16.4 .6 16.6 .6-42.8 .6 11.3 .6 25.4 .6-38.0 .6 49.2 .6-17.2 .6-14.9 .6-13.1 .6 29.5 .6-24.6 .6 12.6 .6 18.9 .6-3.2 .6 12.1 .6-53.6 .6-4.8 .6 40.3 .6 4.2 .6-28.1 .6 21.6 .6 9.9 .6-19.4 .6 12.7 .6-29.1 .6 12.0 .6 7.2 .6-19.6 .6 28.5 .6-1.0 .6 10.8 .6-8.2 .6 22.1 .6-34.7 .6 30.4 .6-3.4 .6-17.6 .6-14.9 .6 3.9 .6 1.6 .6 12.1 .6-17.6 .6 36.8 .6-50.0 .6 36.7 .6-15.3 .6 16.7 .6 1.2 .6-22.8 .6 34.4 .6-24.5 .6-24.3 .6 6.3 .6 22.7 .6 19.3 .6-17.0 .6-7.6 .6-8.2 .6-17.6 .6 34.6 .6 21.5 .6-48.8 .6 10.8 .6-1.8 .6 4.9 .6-4.8 .6 22.5 .6-14.3 .6 14.4 .6-47.1 .6 8.8 .6 4.7 .6 14.4 .6-13.3 .6 16.5 .6-4.4 .6 1.7 .6-3.6 .6 26.2 .6-26.1 .6 34.5 .6-26.6 .6 9.4 .6-10.3 .6 1.7 .6-20.7 .6-3.2 .6 .8 .6 12.4 .6-15.0 .6 .7 .6-.1 .6 6.4 .6 8.8 .6 13.9 .6-10.7 .6-3.5 .6 33.8 .6-2.7 .6-34.6 .6 26.1 .6-18.6 .6-4.1 .6 6.2 .6-3.1 .6 13.5 .6 16.7 .6-24.2 .6 4.7 .6 18.4 .6-19.5 .6 2.3 .6-19.5 .6 3.7 .6-19.3 .6 33.0 .6 15.1 .6-58.4 .6-3.3 .6 27.4 .6 21.8 .6-26.1 .6 29.6 .6 9.4 .6-3.6 .6-19.8 .6-4.8 .6-.4 .6-16.0 .6 6.3 .6 52.4 .6-21.6 .6-22.6 .6 5.4 .6 4.2 .6-15.9 .6 54.8 .6-54.8 .6 1.4 .6 50.9 .6-44.8 .6 22.8 .6-20.0 .6-21.5 .6 54.6 .6-22.5 .6-20.5 .6 7.0 .6-2.5 .6 12.7 .6-43.3 .6 50.1 .6 12.2 .6-28.7 .6-5.0 .6 14.9 .6 2.2 .6 11.0 .6-8.5 .6-5.4 .6 .4 .6 1.6 .6-.6 .6 2.9 .6-7.1 .6-24.5 .6 13.7 .6 28.1 .6 2.9 .6-9.4 .6 14.3 .6-37.9 .6 18.2 .6 28.8 .6-2.5 .6-16.7 .6-7.4 .6 19.9 .6-4.1 .6-50.9 .6 7.3 .6 44.0 .6 7.5 .6-18.1 .6-7.4 .6-35.7 .6 32.3 .6-27.9 .6 53.5 .6-35.0 .6 16.2 .6-43.3 .6 40.2 .6-20.6 .6 18.2 .6 22.8 .6-38.6 .6 31.2 .6 1.1 .6-32.3 .6 24.5 .6-19.6 .6 21.5 .6-30.6 .6 28.0 .6 25.5 .6-18.1 .6 1.8 .6-22.9 .6-11.0 .6 11.7 .6 6.5 .6 5.0 .6-1.1 .6-41.2 .6 33.3 .6 .7 .6-17.4 .6 40.4 .6-9.3 .6-8.7 .6 .7 .6 17.3 .6-15.0 .6-.9 .6-17.3 .6-25.8 .6 37.4 .6-12.6 .6 17.1 .6-15.2 .6 9.7 .6 16.0 .6-42.7 .6 30.0 .6 25.5 .6-46.2 .6 17.4 .6 1.1 .6 5.9 .6-14.8 .6-33.9 .6 37.3 .6 7.5 .6-3.6 .6 0 .6-32.4 .6 20.6 .6 29.6 .6-13.0 .6 3.7 .6-13.4 .6 28.1 .6-9.2 .6-4.4 .6-.4 .6 2.2 .6-15.3 .6 31.4 .6 16.9 .6-21.9 .6-49.4 .6 22.6 .6-5.3 .6 30.6 .6-5.4 .6-38.0 .6 22.4 .6-20.3 .6 23.9 .6 10.9 .6 14.7 .6-31.1 .6-26.8 .6 60.8 .6-36.8 .6 2.9 .6-11.1 .6-23.1 .6 41.4 .6-38.4 .6-1.6 .6 43.3 .6-32.1 .6 31.2 .6 8.1 .6-2.0 .6-39.1 .6 46.7 .6-27.1 .6 27.5 .6-26.0 .6 5.3 .6 6.0 .6 7.0 .6-34.2 .6 22.2 .6 16.2 .6-38.4 .6 3.5 .6 3.0 .6 34.8 .6-25.7 .6 4.4 .6 1.1 .6 10.9 .6-31.1 .6 39.5 .6 15.1 .6-36.3 .6 11.1 .6-17.3 .6 10.8 .6-14.0 .6 4.0 .6 41.2 .6-47.4 .6-3.4 .6 30.4 .6-19.3 .6 28.3 .6-17.5 .6-12.6 .6 21.6 .6 1.6 .6-42.9 .6 18.6 .6 16.4 .6-8.7 .6 25.9 .6-18.8 .6 7.2 .6 10.6 .6-17.1 .6-32.6 .6 26.5 .6-5.1 .6-7.8 .6-11.2 .6 13.0 .6 9.2 .6 11.2 .6-.3 .6-6.1 .6 34.5 .6-57.7 .6 29.8 .6 .7 .6-29.9 .6-7.7 .6-13.8 .6-1.1 .6 52.4 .6-7.2 .6-20.9 .6 6.9 .6-16.5 .6 15.4 .6-19.1 .6-12.5 .6 29.3 .6 4.5 .6 3.5 .6-38.0 .6 16.7 .6 3.5 .6-4.1 .6 39.1 .6 11.8 .6 3.2 .6-42.6 .6 17.4 .6-15.5 .6 17.6 .6-31.6 .6 13.0 .6 10.6 .6-13.2 .6 6.4 .6-13.6 .6 28.4 .6-34.5 .6 27.2 .6 23.7 .6-37.4 .6 24.5 .6-27.8 .6 18.5 .6 .8 .6 15.2 .6-23.7 .6-11.7 .6 17.4 .6-18.3 .6 5.3 .6 8.7 .6 3.1 .6 3.3 .6 9.9 .6-33.1 .6 29.4 .6-6.7 .6-34.8 .6 25.8 .6 .8 .6-3.5 .6-3.1 .6-7.3 .6 24.6 .6-.1 .6-25.6 .6 26.8 .6 .8 .6-32.4 .6 17.3 .6 28.1 .6-33.9 .6-11.3 .6 42.3 .6-23.3 .6 16.0 .6-19.1 .6 25.9 .6-31.0 .6 43.8 .6-40.2 .6-26.7 .6 59.0 .6-7.2 .6-40.3 .6-1.7 .6 24.2 .6 8.9 .6 35.4 .6-42.8 .6-5.7 .6-27.1 .6 32.2 .6-9.7 .6 25.0 .6-44.5 .6 4.8 .6 48.4 .6-17.8 .6 7.9 .6-9.4 .6-30.1 .6 14.6 .6-5.0 .6 19.2 .6 9.5 .6-27.7 .6 17.2 .6-7.8 .6 34.1 .6-25.0 .6-6.1 .6 17.5 .6-34.2 .6 21.8 .6-31.4 .6 37.4 .6 21.7 .6-12.9 .6-46.2 .6 47.2 .6 16.3 .6-28.1 .6-21.3 .6-1.3 .6 31.7 .6-16.3 .6 1.9 .6 22.4 .6 .1 .6-38.5 .6 14.4 .6 25.6 .6-4.3 .6-10.4 .6-9.9 .6-14.1 .6-13.8 .6-5.3 .6 41.7 .6-4.3 .6 18.1 .6-28.2 .6-15.2 .6 26.1 .6-9.2 .6-4.8 .6 25.9 .6-26.0 .6 46.2 .6-20.7 .6-23.3 .6 27.0 .6-31.5 .6 3.4 .6 7.3 .6 20.2 .6-14.5 .6-7.4 .6-22.8 .6 16.0 .6 16.2 .6-4.3 .6 23.5 .6-20.6 .6 10.8 .6-8.1 .6-.3 .6-8.2 .6-19.0 .6 5.2 .6 .2 .6 5.6 .6 45.2 .6-38.9 .6 17.8 .6 7.4 .6-33.3 .6 12.8 .6-20.3 .6 19.9 .6-12.5 .6 13.1 .6-2.7 .6 11.2 .6 27.9 .6-28.8 .6-11.2 .6-4.0 .6 12.0 .6 27.6 .6-35.0 .6 30.0 .6-56.1 .6 20.2 .6 15.8 .6 25.3 .6-23.4 .6-7.8 .6 12.4 .6-39.4 .6 34.3 .6-18.5 .6-2.1 .6 13.5 .6 38.4 .6-36.4 .6 10.8 .6 2.5 .6-9.2 .6 32.1 .6-22.0 .6-32.3 .6 11.2 .6-40.3 .6 46.7 .6 4.0 .6 12.9 .6-25.1 .6-13.3 .6 28.6 .6-37.4 .6 19.1 .6-10.0 .6 34.0 .6-15.0 .6-6.0 .6 13.5 .6-35.0 .6 28.2 .6-10.6 .6 23.8 .6-15.4 .6 5.2 .6-1.7 .6 13.1 .6-45.7 .6 3.1 .6 11.7 .6 8.8 .6 14.1 .6-4.1 .6-3.7 .6-23.6 .6 48.2 .6 18.0 .6-41.9 .6-15.4 .6-6.6 .6 19.4 .6 7.0 .6-13.2 .6-3.2 .6 3.7 .6 5.2 .6-8.8 .6 15.7 .6 22.8 .6-32.1 .6-4.8 .6-8.5 .6 10.5 .6 43.9 .6-8.0 .6-.6 .6-19.9 .6-33.6 .6 60.0 .6-24.0 .6 13.7 .6-5.4 .6-.4 .6-15.8 .6-18.7 .6 9.3 .6-2.0 .6 24.9 .6-22.8 .6 17.5 .6 9.6 .6-20.0 .6-18.9 .6 20.3" fill="none" stroke="#000000" stroke-width="8" stroke-linejoin="bevel" stroke-linecap="butt"/>
<path d="M474.5,1270.3l.6-14.0 .6-2.9 .6-10.8 .6 40.9 .6-51.1 .6 29.3 .6 11.6 .6-42.6 .6 24.5 .6-26.8 .6 31.4 .6-13.8 .6 34.2 .6-8.6 .6 19.4 .6-54.5 .6 6.0 .6-21.1 .6 22.3 .6 48.6 .6-32.4 .6-30.1 .6 47.9 .6-41.6 .6 15.0 .6 43.3 .6-42.5 .6-12.2 .6 32.6 .6-15.5 .6 19.8 .6-8.6 .6-40.6 .6 34.1 .6-42.0 .6 34.9 .6 13.5 .6-11.1 .6 7.3 .6-1.6 .6-12.1 .6 16.6 .6-23.7 .6 26.1 .6-23.3 .6 41.3 .6-9.4 .6-3.3 .6-58.0 .6 8.4 .6 52.4 .6-6.4 .6 20.8 .6-20.9 .6-19.4 .6 7.9 .6-7.2 .6 6.7 .6-3.6 .6 6.4 .6-6.3 .6-5.8 .6 18.8 .6-13.9 .6 18.7 .6-32.8 .6 46.2 .6-19.0 .6 3.4 .6 28.3 .6-37.6 .6 11.0 .6-14.2 .6 24.1 .6-9.2 .6-.4 .6-4.2 .6 5.3 .6-13.0 .6-6.3 .6-17.7 .6 34.4 .6-16.4 .6 18.3 .6 3.9 .6-8.1 .6 7.8 .6 1.3 .6 25.7 .6-52.0 .6 7.4 .6 12.0 .6-39.7 .6 38.8 .6-11.4 .6-29.8 .6 10.7 .6 44.6 .6-26.3 .6-5.5 .6 16.9 .6-21.9 .6 12.9 .6-5.8 .6 9.6 .6 13.2 .6-1.0 .6-19.9 .6-18.9 .6 8.7 .6 10.9 .6-1.3 .6-16.3 .6 48.4 .6-54.9 .6 12.1 .6 7.2 .6-4.4 .6-4.7 .6 48.0 .6-42.3 .6-26.1 .6 34.7 .6-36.1 .6 32.8 .6-20.0 .6 38.8 .6-7.5 .6 11.7 .6 12.6 .6-49.0 .6 12.3 .6 21.3 .6-5.9 .6-18.9 .6-28.8 .6 39.8 .6-40.8 .6 51.2 .6 1.4 .6-7.4 .6-10.9 .6 12.7 .6 3.2 .6 5.9 .6-51.9 .6-8.4 .6 32.1 .6 8.5 .6 20.4 .6-24.7 .6 15.0 .6-51.2 .6 29.1 .6 35.5 .6-16.5 .6-3.5 .6-5.2 .6-5.6 .6 6.6 .6 35.2 .6-14.8 .6-6.2 .6-9.9 .6-18.7 .6-1.0 .6-29.1 .6 22.7 .6 43.0 .6-28.6 .6-5.3 .6 2.5 .6 24.6 .6-28.0 .6-19.5 .6 13.7 .6 22.4 .6-14.7 .6 7.5 .6-.7 .6 8.0 .6-29.4 .6 62.3 .6-28.6 .6-40.5 .6 23.7 .6-1.8 .6-27.8 .6 12.6 .6 7.8 .6 13.6 .6-16.7 .6 20.9 .6-7.3 .6 6.6 .6-41.3 .6 38.0 .6 3.8 .6-37.6 .6 38.7 .6-30.2 .6 59.8 .6-55.5 .6 19.6 .6-24.2 .6 18.8 .6-34.3 .6 38.0 .6 22.7 .6-39.2 .6 39.2 .6-30.6 .6-6.8 .6 18.0 .6-13.2 .6 33.2 .6-64.3 .6 60.2 .6 1.0 .6-28.0 .6 8.1 .6-29.7 .6 20.8 .6 15.0 .6-21.0 .6 23.4 .6 .2 .6 23.3 .6-33.6 .6 22.0 .6-14.4 .6-9.7 .6 14.8 .6-8.1 .6-3.8 .6-8.5 .6 26.8 .6 3.7 .6-24.2 .6 14.9 .6-34.8 .6-2.1 .6 69.9 .6-30.0 .6-25.9 .6-12.8 .6 17.7 .6-12.1 .6 16.4 .6 8.9 .6 25.4 .6 6.2 .6-35.0 .6-5.9 .6 7.0 .6 31.4 .6-44.4 .6 15.1 .6-22.6 .6 22.8 .6-11.4 .6 12.1 .6 1.1 .6-8.7 .6-6.5 .6 43.7 .6-29.7 .6-26.6 .6 3.9 .6 24.2 .6-35.6 .6 50.9 .6-58.7 .6 26.6 .6 20.1 .6-27.9 .6 27.6 .6-28.5 .6 20.3 .6-1.4 .6-26.0 .6 34.1 .6-24.2 .6 18.0 .6 .8 .6 34.0 .6-16.5 .6-60.4 .6 22.1 .6 18.1 .6 3.2 .6 6.8 .6-17.4 .6 23.0 .6-4.7 .6-32.5 .6-8.4 .6 31.9 .6 4.9 .6-2.4 .6-16.3 .6-32.9 .6 53.6 .6-3.0 .6-3.0 .6 1.5 .6-10.0 .6-3.5 .6 40.1 .6-54.7 .6-12.7 .6 65.0 .6-51.2 .6-23.9 .6 18.2 .6 10.2 .6 30.7 .6-8.8 .6-19.8 .6 13.2 .6 19.8 .6-48.2 .6 33.1 .6-9.2 .6-3.3 .6 12.9 .6-20.8 .6 17.0 .6-.4 .6-2.9 .6 23.5 .6-8.5 .6-26.6 .6 19.6 .6-10.3 .6 15.5 .6-33.0 .6 30.5 .6-.3 .6-37.4 .6 22.5 .6 14.1 .6-14.6 .6-37.6 .6 21.4 .6 49.1 .6-7.4 .6-12.4 .6-21.4 .6 2.9 .6 17.9 .6-33.9 .6 23.7 .6-.9 .6 7.5 .6-9.1 .6-11.9 .6-16.6 .6 26.4 .6 6.1 .6-5.9 .6 .5 .6 6.1 .6-14.9 .6-6.6 .6-1.6 .6 5.9 .6 24.1 .6-15.2 .6 8.9 .6 4.1 .6-42.9 .6 12.7 .6 17.8 .6-19.8 .6 7.0 .6 38.3 .6-34.8 .6 15.9 .6-51.1 .6 21.0 .6 30.0 .6-9.6 .6 0 .6 3.8 .6 5.2 .6 12.9 .6 1.0 .6 8.8 .6-28.8 .6 .7 .6-9.4 .6 17.6 .6 1.6 .6-13.7 .6 4.0 .6 15.4 .6-2.4 .6-4.3 .6-35.0 .6 39.7 .6-56.1 .6 53.7 .6-16.7 .6 12.8 .6-17.4 .6-.9 .6 25.9 .6-28.0 .6 27.8 .6-11.1 .6 6.3 .6-26.9 .6 24.7 .6-10.8 .6 .9 .6 28.0 .6-34.1 .6 18.4 .6-14.0 .6 30.2 .6-3.1 .6-24.6 .6 17.4 .6-19.7 .6-9.8 .6 27.0 .6-21.4 .6 13.6 .6 12.8 .6-14.8 .6 5.4 .6-40.1 .6 23.4 .6 17.3 .6-19.7 .6 33.6 .6-20.6 .6 25.4 .6-40.2 .6-31.2 .6 40.0 .6 2.3 .6 11.3 .6-3.5 .6 4.2 .6-28.6 .6 10.1 .6 8.2 .6-32.2 .6 2.1 .6 22.7 .6 33.1 .6-32.4 .6-11.4 .6 19.4 .6-17.5 .6 24.0 .6-27.6 .6 36.6 .6 17.1 .6-27.3 .6-34.7 .6 30.8 .6-26.5 .6 22.9 .6-4.4 .6-13.3 .6-1.8 .6 2.7 .6 36.0 .6-1.4 .6-5.5 .6 17.3 .6-54.8 .6 54.1 .6-47.6 .6 36.7 .6-2.7 .6-19.4 .6 21.3 .6-6.8 .6 17.3 .6-25.1 .6-21.4 .6 47.2 .6-33.3 .6 13.8 .6 35.7 .6-21.3 .6-9.4 .6-.9 .6-12.9 .6 32.1 .6-5.6 .6-6.3 .6-24.0 .6 25.9 .6-8.2 .6-20.2 .6 33.6 .6-43.0 .6 23.6 .6-10.0 .6 56.7 .6-37.1 .6 12.3 .6-19.0 .6-5.3 .6 6.3 .6-2.5 .6 14.6 .6-19.4 .6 4.4 .6-21.6 .6 24.9 .6 16.5 .6-56.7 .6 36.4 .6-31.5 .6 32.4 .6-30.9 .6 8.6 .6 34.6 .6-21.7 .6-1.3 .6 12.3 .6-19.1 .6-5.2 .6 27.6 .6 3.8 .6-9.9 .6 11.4 .6-24.5 .6-22.8 .6 16.5 .6 32.4 .6-25.9 .6-1.7 .6-14.9 .6 11.6 .6 21.6 .6-15.4 .6 2.2 .6-16.6 .6 5.3 .6 57.6 .6-23.5 .6-45.5 .6 10.9 .6 4.5 .6 44.2 .6-46.0 .6 4.7 .6 23.0 .6-11.0 .6 6.1 .6-22.9 .6-14.9 .6 30.5 .6-18.8 .6 7.5 .6-25.1 .6 43.1 .6 9.8 .6-16.7 .6-.8 .6-25.9 .6 36.5 .6-17.4 .6-9.7 .6 46.2 .6-36.7 .6-24.8 .6 30.1 .6-14.9 .6 35.4 .6-18.9 .6-20.9 .6-17.2 .6 65.3 .6-34.8 .6-14.4 .6 20.9 .6 19.6 .6-41.6 .6 22.6 .6 2.7 .6-.8 .6 7.8 .6-49.8 .6 43.9 .6-8.4 .6 5.3 .6 22.6 .6-19.3 .6-22.1 .6 3.7 .6 28.5 .6 19.0 .6-30.4 .6 17.3 .6 12.5 .6 17.8 .6-.3 .6-59.2 .6-.5 .6 24.9 .6-25.0 .6 18.0 .6 9.1 .6-9.1 .6-31.2 .6 8.6 .6-12.9 .6 16.4 .6 25.1 .6-27.2 .6 52.7 .6-42.0 .6 8.3 .6-12.9 .6 .4 .6 14.7 .6 10.3 .6-10.9 .6 6.3 .6-14.1 .6-13.9 .6-13.6 .6 39.4 .6 2.6 .6 4.3 .6-42.4 .6 12.7 .6 14.9 .6 18.9 .6 5.5 .6-41.7 .6 29.2 .6-14.9 .6 4.3 .6-6.7 .6-7.6 .6-5.5 .6-15.7 .6 26.4 .6-1.1 .6-4.2 .6 1.5 .6-23.0 .6 12.7 .6 21.0 .6 2.2 .6 .5 .6-24.3 .6-10.3 .6 30.0 .6-26.1 .6 21.3 .6-7.6 .6-14.8 .6 30.4 .6-16.8 .6-23.1 .6-12.7 .6 36.9 .6-19.3 .6-14.0 .6-6.7 .6-7.8 .6 16.3 .6 13.1 .6 21.7 .6 23.4 .6-44.6 .6 15.5 .6 .9 .6-7.4 .6-25.7 .6 17.5 .6 24.0 .6-10.7 .6 9.4 .6-26.3 .6-2.9 .6 39.9 .6-45.2 .6-12.4 .6 48.8 .6-35.8 .6 5.1 .6-20.0 .6-3.3 .6 59.4 .6 5.8 .6-49.6 .6 16.8 .6-27.8 .6 33.6 .6-41.5 .6 6.3 .6 1.2 .6 5.9 .6 5.1 .6-31.9 .6 19.2 .6 32.0 .6-12.2 .6-11.4 .6 10.5 .6 30.0 .6-34.3 .6-11.9 .6 42.1 .6-22.0 .6-31.4 .6 6.4 .6 35.8 .6-25.8 .6 37.1 .6-35.8 .6 2.0 .6 24.4 .6 2.3 .6-43.8 .6 30.0 .6-1.1 .6-15.1 .6 16.2 .6-21.5 .6 12.4 .6 16.2 .6-37.5 .6 7.2 .6 8.8 .6-32.2 .6 14.0 .6-24.1 .6 40.6 .6-17.8 .6 7.1 .6-.4 .6 13.4 .6-30.5 .6 35.1 .6 16.5 .6-41.0 .6 45.7 .6-13.5 .6-55.6 .6-.2 .6 20.3 .6 9.9 .6 8.0 .6-12.5 .6 11.1 .6-37.1 .6 30.1 .6 6.3 .6-.3 .6 7.9 .6-36.1 .6 9.0 .6 1.9 .6-28.9 .6-13.2 .6 25.4 .6-1.1 .6 10.7 .6-9.1 .6 16.2 .6-25.9 .6 23.7 .6-6.1 .6 16.7 .6 4.9 .6-33.0 .6 13.6 .6-11.9 .6 .1 .6 1.4 .6 31.3 .6-30.7 .6-.4 .6 5.8 .6 .6 .6-4.1 .6-6.0 .6-7.1 .6-14.4 .6-15.2 .6 51.6 .6 1.1 .6 14.6 .6-52.4 .6 8.7 .6 7.9 .6 23.3 .6-5.5 .6-29.3 .6 14.9 .6-11.8 .6 34.9 .6-51.4 .6-5.8 .6 5.0 .6 6.8 .6 19.8 .6-13.6 .6 22.5 .6-40.7 .6 24.9 .6-23.5 .6 22.0 .6-7.6 .6 5.4 .6-3.3 .6 21.1 .6-24.9 .6 32.4 .6-34.4 .6 12.6 .6-30.5 .6 34.2 .6-22.4 .6 13.7 .6-7.3 .6-5.2 .6-37.8 .6 3.8 .6 12.4 .6-25.5 .6-5.3 .6 35.1 .6-19.5 .6 24.5 .6-31.5 .6 19.0 .6-5.0 .6 7.7 .6-4.9 .6 30.3 .6-30.4 .6 9.5 .6 5.5 .6 17.1 .6-8.1 .6-15.5 .6 24.4 .6-26.8 .6-11.7 .6 4.2 .6 9.7 .6 3.2 .6 6.0 .6 14.3 .6 13.0 .6-12.3 .6-4.1 .6-7.3 .6 28.4 .6 2.3 .6 13.0 .6 4.3 .6-29.1 .6 30.1 .6-17.1 .6 34.3 .6 18.0 .6-35.4 .6 12.7 .6 3.0 .6-8.1 .6 29.4 .6-8.8 .6-38.0 .6 36.6 .6 22.9 .6 3.4 .6 24.9 .6-46.3 .6 8.8 .6-4.7 .6 10.8 .6 44.8 .6-21.5 .6 21.7 .6 30.6 .6-39.8 .6 23.0 .6-20.1 .6-9.8 .6 34.3 .6 8.6 .6 7.3 .6-19.7 .6 12.5 .6-27.6 .6-4.5 .6 45.7 .6-18.5 .6-6.0 .6 9.9 .6-.9 .6 35.4 .6-6.8 .6-9.4 .6-8.4 .6 20.3 .6 1.1 .6 10.8 .6 27.3 .6-16.8 .6-12.7 .6 5.9 .6-13.6 .6 20.3 .6-1.5 .6-17.1 .6 33.3 .6-9.6 .6 31.6 .6-42.5 .6 38.4 .6-29.5 .6 20.7 .6-8.2 .6-13.0 .6 38.8 .6-9.3 .6 8.1 .6-10.1 .6-9.1 .6 35.0 .6-22.9 .6 33.8 .6-49.1 .6 42.9 .6-7.5 .6 7.8 .6-5.8 .6 6.7 .6 15.6 .6-10.4 .6-8.7 .6 6.6 .6 5.1 .6-12.7 .6 18.6 .6-9.9 .6-26.6 .6 32.6 .6-28.9 .6-1.5 .6 27.8 .6-.9 .6-9.1 .6 31.1 .6-23.9 .6-19.9 .6-9.6 .6-11.9 .6 9.8 .6 14.1 .6-23.9 .6 22.2 .6 21.0 .6-7.9 .6-30.8 .6 19.5 .6 20.2 .6-11.5 .6-25.5 .6 15.9 .6-4.2 .6 7.3 .6 8.4 .6 .5 .6 3.8 .6-31.1 .6 7.0 .6 38.5 .6-63.4 .6 37.3 .6 5.9 .6-47.7 .6-1.0 .6 21.3 .6-29.6 .6 10.1 .6 7.6 .6 19.5 .6-22.7 .6 20.0 .6-7.9 .6-17.1 .6 1.3 .6 1.0 .6 26.3 .6-21.0 .6 32.5 .6-30.0 .6-10.5 .6 34.8 .6-55.2 .6 42.4 .6-8.2 .6-8.2 .6-20.7 .6 19.7 .6-7.7 .6 13.4 .6 7.3 .6 9.1 .6-36.8 .6 .9 .6-8.9 .6 32.4 .6-38.0 .6 33.1 .6-26.6 .6 15.6 .6-6.2 .6-15.7 .6 25.5 .6-29.8 .6 20.6 .6 3.0 .6-28.5 .6 58.7 .6-38.1 .6-13.6 .6 24.3 .6-7.8 .6 12.3 .6-6.5 .6-13.4 .6 3.7 .6 24.3 .6-29.9 .6 1.5 .6-23.6 .6 19.8 .6 .3 .6 9.5 .6-16.9 .6 25.6 .6 2.2 .6-9.3 .6-23.5 .6 1.5 .6 30.1 .6-54.2 .6 38.8 .6-3.1 .6 14.0 .6 12.3 .6-41.4 .6 24.6 .6-45.7 .6 13.7 .6 35.7 .6-29.4 .6-8.9 .6 4.1 .6-7.3 .6 26.7 .6-16.0 .6-10.3 .6-10.7 .6 28.5 .6 5.8 .6-25.4 .6 32.3 .6 6.6 .6-47.7 .6 31.4 .6-19.1 .6 26.9 .6-38.0 .6-9.4 .6 56.7 .6-44.9 .6 18.7 .6-27.0 .6 2.4 .6 36.1 .6-23.1 .6-17.7 .6 39.5 .6-35.0 .6 15.7 .6-39.4 .6 23.8 .6 3.2 .6 3.0 .6 12.5 .6-13.3 .6-2.3 .6 1.1 .6 25.6 .6-17.6 .6-20.4 .6 18.6 .6-17.1 .6-.3 .6-13.8 .6 32.0 .6-31.3 .6 8.7 .6-3.8 .6 41.0 .6-20.1 .6-13.7 .6 9.2 .6 13.9 .6 1.2 .6-6.6 .6-9.3 .6 8.0 .6-35.1 .6 28.6 .6-5.8 .6 9.3 .6-1.1 .6-29.6 .6 16.3 .6-17.0 .6 49.4 .6-59.6 .6 39.1 .6-2.6 .6-18.6 .6 33.3 .6-47.1 .6 25.2 .6 18.4 .6-63.2 .6 55.5 .6-15.2 .6-20.6 .6 5.4 .6 6.9 .6 9.4 .6 1.7 .6 22.1 .6-30.7 .6 24.6 .6-8.3 .6-33.0 .6 30.2 .6-7.1 .6-25.4 .6 12.1 .6 9.8 .6 23.6 .6-4.4 .6-2.0 .6-23.4 .6 15.0 .6-13.2 .6-15.2 .6 25.6 .6 7.4 .6-7.0 .6 7.5 .6-9.2 .6 6.7 .6-11.9 .6 1.1 .6-44.9 .6 20.4 .6 4.5 .6 17.5 .6 10.1 .6 3.1 .6-18.4 .6 35.4 .6-42.9 .6 12.6 .6 11.1 .6-3.6 .6-3.2 .6-38.2 .6 25.4 .6-.7 .6-9.2 .6 24.2 .6 8.0 .6-36.5 .6-1.5 .6-3.4 .6 6.6 .6 16.9 .6 1.0 .6 32.8 .6-14.8 .6-34.9 .6 43.8 .6-37.5 .6 4.0 .6 21.1 .6 2.7 .6-31.3 .6-1.7 .6-9.1 .6 4.8 .6 46.1 .6-45.9 .6-3.6 .6 22.9 .6 6.8 .6-6.8 .6-4.6 .6-17.6 .6-11.4 .6 2.1 .6 18.8 .6 25.5 .6-24.5 .6 24.5 .6-7.2 .6-10.4 .6-16.1 .6 11.9 .6 11.4 .6-7.0 .6 8.5 .6-21.5 .6 25.9 .6 .7 .6 1.2 .6-10.0 .6 36.5 .6-34.5 .6-16.0 .6 14.1 .6-14.6 .6 11.2 .6-2.9 .6-13.1 .6 14.1 .6 5.0 .6 9.7 .6 16.3 .6-14.7 .6-23.4 .6 21.5 .6-28.4 .6 37.7 .6-26.4 .6-25.8 .6 61.5 .6-29.7 .6-42.7 .6 66.1 .6-19.6 .6 20.5 .6-1.7 .6-46.9 .6 23.5 .6 22.2 .6-36.8 .6-10.8 .6 44.4 .6-14.1 .6 5.4 .6-23.9 .6 15.6 .6-18.6 .6 35.2 .6 19.2 .6-42.5 .6 2.5 .6-6.4 .6 11.5 .6-20.0 .6 23.5 .6 17.4 .6-24.5 .6 36.8 .6-16.3 .6-35.1 .6-9.4 .6 10.5 .6-13.6 .6 37.7 .6-3.5 .6 7.9 .6 9.2 .6-62.9 .6 13.0 .6 25.4 .6-23.3 .6 45.3 .6-29.3 .6 16.9 .6-14.8 .6 22.6 .6-2.6 .6-14.3 .6 2.0 .6 31.4 .6-28.1 .6-7.4 .6 14.7 .6-22.1 .6 34.9 .6-62.2 .6 36.2 .6 27.8 .6-30.1 .6-2.7 .6-5.6 .6 35.3 .6-9.6 .6-19.9 .6 20.2 .6-8.1 .6 17.1 .6-9.0 .6 7.9 .6-25.8 .6 4.2 .6 26.2 .6-24.3 .6 12.3 .6-24.9 .6 19.8 .6 15.4 .6-16.8 .6-23.3 .6 .4 .6 26.8 .6 20.7 .6-43.3 .6 11.7 .6-23.0 .6 41.6 .6-21.6 .6 33.6 .6-36.8 .6 1.0 .6 16.5 .6-29.3 .6 8.7 .6-37.3 .6 70.2 .6-28.7 .6-23.0 .6 10.0 .6 17.9 .6-14.2 .6 28.3 .6 30.5 .6-47.6 .6 38.0 .6-49.4 .6 40.6 .6-35.9 .6 10.9 .6-20.1 .6 42.3 .6-20.3 .6-38.3 .6 37.2 .6-9.0 .6-7.9 .6 22.8 .6-40.2 .6 14.7 .6 26.6 .6-26.6 .6-.4 .6 41.2 .6-9.6 .6-29.6 .6 33.9 .6 7.4 .6-13.1 .6-45.8 .6 42.6 .6-23.1 .6 21.0 .6-30.1 .6 8.4 .6 32.6 .6-46.9 .6 23.2 .6 1.2 .6 7.9 .6-.5 .6-8.9 .6 17.1 .6 3.6 .6-55.4 .6 30.3 .6-18.4 .6 32.2 .6-6.5 .6-14.5 .6 26.4 .6-4.8 .6-24.8 .6 4.3 .6 18.8 .6-41.7 .6 27.4 .6 39.6 .6-20.2 .6-37.5 .6 14.7 .6 26.3 .6 7.2 .6-11.4 .6-21.0 .6 22.9 .6-14.1 .6 5.1 .6-8.6 .6 23.1 .6-30.3 .6 21.1 .6-38.8 .6 24.8 .6-20.3 .6 16.5 .6 14.5 .6-9.9 .6-30.7 .6 36.8 .6 3.3 .6-17.7 .6 12.1 .6-27.5 .6 15.7 .6-6.8 .6 6.7 .6 11.0 .6-13.6 .6-16.0 .6 5.9 .6 7.0 .6 34.1 .6-28.8 .6-23.7 .6 39.6 .6 8.1 .6-16.8 .6 21.2 .6-35.4 .6 12.6 .6-9.8 .6 32.7 .6-36.1 .6 13.5 .6-3.7 .6 24.4 .6-22.7 .6-47.0 .6 24.8 .6 25.6 .6-16.1 .6 13.3 .6 24.0 .6-19.6 .6 2.3 .6-.6 .6 4.7 .6 25.2 .6-14.1 .6-32.1 .6-18.0 .6 38.6 .6-2.2 .6-29.6 .6 37.6 .6 20.6 .6-14.0 .6-40.4 .6 17.4 .6 24.2 .6-28.8 .6 17.6 .6 8.2 .6-33.7 .6 21.2 .6 19.7 .6-14.5 .6-28.6 .6 32.4 .6-8.0 .6 2.3 .6 7.2 .6-27.0 .6-31.6 .6 26.4 .6 39.1 .6-17.7 .6-4.5 .6-5.0 .6 6.3 .6-8.0 .6 11.7 .6-11.6 .6 2.5 .6 4.2 .6-1.2 .6 16.2 .6-14.8 .6-5.5 .6-3.4 .6 37.7 .6-41.5 .6-9.7 .6 36.5 .6 .9 .6-22.2 .6-2.4 .6 28.5 .6-8.5 .6 7.8 .6 4.6 .6-18.1 .6-17.5 .6-22.5 .6 41.8 .6 29.6 .6-25.6 .6 2.8 .6-8.6 .6-16.6 .6 16.8 .6-28.3 .6 26.3 .6-7.7 .6-3.2 .6 7.4 .6-5.1 .6 12.1 .6 1.4 .6-27.6 .6 69.4 .6-9.2 .6-12.9 .6-6.3 .6-5.8 .6-20.7 .6 31.0 .6-20.5 .6-25.8 .6 12.1 .6 30.2 .6-9.0 .6-3.8 .6 11.5 .6-24.0 .6-1.6 .6 26.5 .6-4.4 .6-11.6 .6-4.2 .6 2.1 .6-4.2 .6-5.7 .6 18.2 .6 .9 .6 5.7 .6-3.1 .6-20.1 .6 11.1 .6 34.7 .6-66.5 .6 42.5 .6-35.1 .6-5.7 .6-7.8 .6 28.5 .6 7.2 .6 13.0 .6-26.1 .6 29.4 .6-20.6 .6 20.2 .6-61.1 .6 34.8 .6 17.3 .6-20.7 .6-4.4 .6 5.4 .6 26.3 .6 16.6 .6-37.0 .6 7.3 .6-7.9 .6 24.4 .6-4.6 .6-45.6 .6 29.2 .6 32.1 .6-34.4 .6 27.0 .6-24.9 .6 3.1 .6-38.4 .6 23.0 .6 31.8 .6-9.0 .6-12.8 .6 .1 .6-6.3 .6-10.2 .6-2.9 .6 27.4 .6 16.1 .6-20.9 .6-3.4 .6-25.3 .6 36.6 .6-34.9 .6 36.1 .6 5.3 .6-9.5 .6 7.8 .6-36.2 .6 27.1 .6-2.5 .6-24.5 .6 32.9 .6-16.5 .6-5.8 .6 9.6 .6-1.2 .6 17.8 .6-29.6 .6 12.2 .6-8.3 .6 5.1 .6 17.0 .6-19.9 .6 9.2 .6-39.9 .6 60.6 .6-36.0 .6 33.5 .6-31.2 .6-2.2 .6 28.6 .6-7.4 .6-13.6 .6-10.2 .6 16.0 .6 21.7 .6-25.4 .6 5.5 .6 2.8 .6 8.0 .6-9.1 .6-12.3 .6 5.5 .6 5.9 .6 7.4 .6 12.9 .6-9.7 .6-14.8 .6-8.1 .6-25.6 .6 54.1 .6 9.6 .6 .9 .6-38.9 .6 5.5 .6 1.9 .6-3.6 .6 22.4 .6-25.9 .6 30.7 .6-2.7 .6-43.2 .6 8.6 .6 18.4 .6-3.2 .6 .6 .6 7.0 .6-5.3 .6-27.8 .6 48.4 .6-27.2 .6-11.3 .6-24.0 .6 21.5 .6 28.7 .6 11.1 .6 0 .6-37.6 .6 24.0 .6-1.9 .6-18.6 .6 16.2 .6-6.2 .6-18.9 .6 41.4 .6-31.3 .6 1.3 .6-6.7 .6 4.6 .6 24.3 .6 13.0 .6-37.1 .6 11.7 .6 20.1 .6-11.9 .6-2.4 .6-24.7 .6 3.2 .6 1.2 .6-16.8 .6 41.9 .6 16.6 .6-30.0 .6 27.5 .6-35.3 .6-4.3 .6-28.5 .6 68.5 .6-38.5 .6 8.6 .6 30.9 .6-36.2 .6-23.2 .6 48.6 .6-35.0 .6-2.8 .6 45.7 .6-32.5 .6 9.8 .6-11.6 .6 29.8 .6-50.3 .6 66.1 .6-37.5 .6 7.6 .6-30.6 .6 45.3 .6 10.1 .6-.1 .6-39.0 .6 17.7 .6 14.6 .6-22.8 .6 16.3 .6-13.9 .6-4.9 .6 14.7 .6-14.4 .6 .2 .6-32.2 .6 39.5 .6 8.9 .6-.7 .6-14.2 .6 24.9 .6-18.9 .6 8.4 .6-3.0 .6 22.4 .6-46.9 .6 8.4 .6-2.6 .6 29.5 .6-5.4 .6-17.7 .6-.1 .6-18.1 .6 32.6 .6 7.7 .6-16.0 .6 4.7 .6 5.8 .6 9.5 .6-16.4 .6-12.9 .6 54.1 .6-39.9 .6 15.1 .6-24.2 .6 9.5 .6 5.8 .6-28.1 .6 36.3 .6-29.4 .6-10.1 .6 24.3 .6-2.3 .6 12.6 .6-19.2 .6-5.4 .6 4.5 .6 11.1 .6-17.4 .6 26.5 .6-14.6 .6 11.4 .6-29.0 .6 13.1 .6 13.3 .6-22.0 .6 33.1 .6 .4 .6-3.7 .6-5.9 .6-19.5 .6 22.7 .6 12.5 .6-30.7 .6 22.2 .6-43.0 .6 43.0 .6-20.2 .6-18.1 .6 17.1 .6-6.8 .6 22.7 .6 7.8 .6-44.7 .6 47.5 .6-38.7 .6 20.9 .6-14.2 .6 11.5 .6 7.0 .6 9.0 .6-29.4 .6 34.0 .6 8.6 .6-51.6 .6 24.3 .6-12.7 .6 9.2 .6 23.3 .6-24.2 .6 6.7 .6 18.3 .6-35.0 .6-3.2 .6 16.8 .6 23.1 .6-32.9 .6 32.3 .6-26.1 .6 1.5 .6 .2 .6 .4 .6 13.7 .6-11.7 .6-13.1 .6-10.5 .6 11.8 .6 26.3 .6-22.7 .6-9.0 .6 10.8 .6 18.5 .6-10.3 .6 32.3 .6-46.9 .6 13.8 .6-23.9 .6 38.4 .6-19.4 .6 1.8 .6 13.5 .6-4.7 .6-25.8 .6 33.1 .6-39.1 .6 43.3 .6-24.8 .6 21.1 .6 4.8 .6-37.4 .6 7.9 .6-22.1 .6 43.9 .6-16.2 .6 15.3 .6-13.0 .6 4.6 .6 1.6 .6-12.6 .6 2.5 .6-22.0 .6 34.1 .6 15.9 .6-32.5 .6 23.2 .6-13.6 .6 23.4 .6-23.5 .6-4.4 .6 14.8 .6-10.8 .6-28.9 .6 39.4 .6-39.1 .6 49.8 .6-15.7 .6-30.0 .6 19.7 .6 31.9 .6 18.7 .6-27.6 .6-1.0 .6 1.2 .6-20.6 .6 12.6 .6-7.0 .6 15.3 .6-45.7 .6 59.3 .6-26.0 .6 1.9 .6-19.7 .6 52.0 .6-50.0 .6-1.9 .6-8.9 .6 2.9 .6-.4 .6 47.7 .6-29.0 .6 4.9 .6-27.6 .6 24.8 .6 8.9 .6 13.9 .6-43.6 .6 35.5 .6-14.8 .6 38.5 .6-14.8 .6 14.5 .6-48.0 .6 31.6 .6-8.9 .6-4.8 .6 21.0 .6-28.5 .6-30.2 .6 52.4 .6 1.6 .6-9.1 .6 19.6 .6-35.8 .6 10.9 .6 20.6" fill="none" stroke="#ff0000" stroke-width="8" stroke-linejoin="bevel" stroke-linecap="butt"/>
<path d="M474.5,1487.0l.6-6.0 .6 39.9 .6-.1 .6-37.1 .6 17.6 .6 .2 .6-9.4 .6 10.6 .6-1.5 .6-13.5 .6 53.7 .6-66.0 .6 10.0 .6 2.3 .6 9.3 .6 .3 .6 2.8 .6 2.9 .6-31.3 .6 30.3 .6 19.1 .6-17.2 .6 7.0 .6 3.1 .6-6.7 .6 20.8 .6-48.5 .6 23.0 .6 12.1 .6-29.4 .6 1.5 .6-12.4 .6 8.7 .6 11.4 .6-10.5 .6 36.0 .6-21.3 .6-14.4 .6 16.7 .6-28.7 .6 45.0 .6-11.1 .6-19.8 .6 12.4 .6-22.2 .6 48.3 .6 10.0 .6-29.1 .6-35.1 .6 35.5 .6 2.7 .6-9.6 .6 7.6 .6-26.7 .6 49.3 .6-36.3 .6 18.8 .6 8.8 .6-5.0 .6 9.4 .6-43.6 .6 26.1 .6 12.6 .6-30.2 .6-11.4 .6 29.2 .6 13.9 .6-32.8 .6-26.5 .6 31.0 .6 27.0 .6-17.0 .6-4.0 .6 6.9 .6-16.4 .6 30.3 .6-6.8 .6-28.8 .6 14.2 .6 17.5 .6 2.9 .6-12.4 .6 3.5 .6-23.8 .6 33.7 .6-10.5 .6 4.9 .6 4.5 .6 5.4 .6-46.2 .6 9.2 .6 31.0 .6-19.2 .6 14.7 .6-18.6 .6-11.2 .6-4.7 .6 14.2 .6 3.9 .6-14.8 .6-7.0 .6 67.0 .6-20.9 .6-40.5 .6 34.1 .6 14.2 .6-23.1 .6 8.6 .6-2.7 .6-25.6 .6 11.1 .6 22.7 .6-6.0 .6-23.4 .6-2.5 .6 45.2 .6-.4 .6-64.4 .6 22.0 .6 12.4 .6 4.3 .6 9.0 .6-30.2 .6 35.8 .6-45.5 .6 9.1 .6 7.8 .6 23.8 .6 .6 .6-39.8 .6 18.5 .6 24.9 .6-3.6 .6-12.5 .6-9.2 .6 14.0 .6-24.9 .6-22.3 .6 36.7 .6 6.1 .6 41.4 .6-47.1 .6 17.6 .6-9.1 .6 10.8 .6-15.6 .6 3.4 .6-6.2 .6 4.4 .6 9.3 .6 6.4 .6-8.6 .6 15.3 .6-19.9 .6 9.7 .6 16.7 .6-37.9 .6-1.9 .6-6.3 .6 8.3 .6-12.9 .6 4.7 .6 25.9 .6-28.4 .6 30.7 .6-39.7 .6 1.8 .6-3.2 .6 16.7 .6 15.4 .6 13.2 .6 5.2 .6-22.0 .6-9.6 .6 21.7 .6-29.2 .6 12.1 .6 8.4 .6 5.8 .6 13.9 .6-30.3 .6-6.5 .6-13.4 .6 9.9 .6 8.4 .6-4.3 .6-17.0 .6 35.7 .6-14.9 .6 22.4 .6 2.9 .6-3.7 .6-32.9 .6 7.1 .6 24.6 .6 5.8 .6-7.9 .6-37.7 .6 39.3 .6-16.0 .6 9.8 .6-23.0 .6 7.0 .6-2.2 .6-11.1 .6 11.9 .6-20.8 .6 67.5 .6 2.6 .6-42.0 .6 11.0 .6-6.7 .6-.5 .6-11.9 .6 .7 .6 5.6 .6 20.3 .6-6.5 .6 22.7 .6-65.0 .6 22.9 .6 24.6 .6-23.3 .6 17.0 .6-6.7 .6-10.6 .6 6.6 .6-.6 .6 7.4 .6-7.5 .6-7.2 .6 9.6 .6 14.9 .6-23.5 .6-1.3 .6 17.0 .6-33.6 .6 4.5 .6 18.9 .6-6.3 .6-10.5 .6 17.4 .6 29.7 .6-14.3 .6-3.0 .6-27.3 .6 43.6 .6-38.2 .6 17.8 .6 7.5 .6-13.6 .6-33.8 .6 41.1 .6-17.0 .6 25.1 .6-14.3 .6-18.9 .6 9.1 .6 16.8 .6-6.1 .6-7.7 .6-8.4 .6-10.4 .6 55.5 .6-48.5 .6-10.9 .6 25.8 .6 16.5 .6-24.9 .6-11.1 .6 13.3 .6 10.8 .6-25.8 .6 34.7 .6-1.7 .6-9.3 .6-4.3 .6-13.5 .6 1.4 .6-6.5 .6 36.2 .6-41.1 .6 26.9 .6-34.7 .6 34.3 .6-9.0 .6 7.5 .6-1.5 .6-14.6 .6 24.2 .6-2.5 .6-22.7 .6 8.8 .6 11.3 .6 12.5 .6-33.0 .6 6.8 .6-8.6 .6 14.0 .6-3.3 .6 20.9 .6-7.1 .6-22.0 .6 1.0 .6-14.5 .6 34.3 .6 29.0 .6-45.1 .6 3.6 .6 8.9 .6-9.3 .6 5.2 .6-19.7 .6 11.8 .6 4.2 .6 33.7 .6-53.4 .6 7.8 .6 27.2 .6-10.1 .6 26.5 .6-33.2 .6 18.5 .6-13.4 .6 14.2 .6-29.4 .6 6.9 .6 1.9 .6-26.0 .6 27.0 .6-10.1 .6 23.3 .6 19.7 .6 9.8 .6-39.9 .6 9.3 .6-20.4 .6 20.1 .6-3.5 .6-20.3 .6 21.5 .6-14.1 .6 20.6 .6-.3 .6-24.5 .6 19.9 .6-27.9 .6 6.4 .6 36.6 .6-7.6 .6 8.8 .6-33.9 .6 11.4 .6 32.6 .6-29.3 .6 9.8 .6 16.3 .6-29.0 .6 .4 .6-3.7 .6-9.4 .6 7.9 .6-2.6 .6 31.1 .6-22.6 .6-20.7 .6 36.6 .6 .4 .6 4.5 .6-3.8 .6-3.1 .6-21.0 .6-5.4 .6 15.5 .6 3.5 .6-2.4 .6 24.4 .6-33.6 .6 12.4 .6 6.3 .6-20.1 .6 19.4 .6-14.6 .6-6.7 .6 13.8 .6-1.4 .6-2.9 .6-14.4 .6-5.7 .6 28.3 .6-.5 .6 25.3 .6 1.4 .6-56.0 .6 16.0 .6 30.9 .6-41.5 .6 26.7 .6-23.0 .6 14.8 .6-9.2 .6-15.4 .6 36.1 .6-12.5 .6-24.9 .6 12.1 .6-1.4 .6 29.7 .6-12.6 .6-5.6 .6 1.2 .6-7.9 .6 23.9 .6-15.2 .6-3.4 .6 16.4 .6 7.5 .6-1.8 .6-13.3 .6 2.2 .6-12.6 .6-2.4 .6 9.3 .6 6.0 .6-1.0 .6 25.6 .6-21.7 .6-45.9 .6 31.9 .6 5.9 .6-5.2 .6 9.1 .6-19.0 .6-4.3 .6 34.4 .6-3.8 .6-9.5 .6-21.5 .6 20.7 .6-10.7 .6-10.6 .6 .8 .6 16.9 .6-13.0 .6 19.9 .6 2.3 .6-14.7 .6 4.0 .6 16.4 .6-20.4 .6-20.2 .6 38.2 .6-64.0 .6 30.0 .6 25.9 .6-21.0 .6 3.8 .6-12.4 .6 15.6 .6-2.6 .6-16.5 .6 8.2 .6 28.3 .6-8.3 .6-8.5 .6-2.3 .6 12.5 .6 29.0 .6-19.4 .6-13.4 .6 14.4 .6 4.4 .6-16.0 .6-19.9 .6 14.3 .6-15.0 .6 4.2 .6 8.2 .6-2.9 .6-19.1 .6 29.8 .6 5.0 .6-12.2 .6-1.0 .6-.3 .6 9.3 .6-14.2 .6 14.0 .6-26.1 .6 3.6 .6 9.7 .6 8.1 .6 .3 .6 22.5 .6-16.0 .6-21.8 .6 31.3 .6-32.2 .6 15.0 .6 8.8 .6 20.0 .6-7.1 .6-18.8 .6-1.6 .6 23.7 .6-29.2 .6 25.2 .6-32.3 .6 10.2 .6 15.8 .6-41.8 .6 41.8 .6-3.5 .6-21.3 .6 52.2 .6-52.3 .6 1.7 .6 36.5 .6-51.5 .6 10.2 .6 9.9 .6 2.0 .6-11.4 .6 8.2 .6 11.1 .6-27.8 .6-1.8 .6 24.9 .6 18.6 .6-12.3 .6-20.0 .6-6.6 .6 28.9 .6-29.4 .6 37.0 .6-19.8 .6-25.5 .6 8.3 .6 9.0 .6 17.0 .6-.5 .6 4.4 .6-21.0 .6 15.3 .6 15.5 .6-42.9 .6-3.2 .6 20.6 .6-33.2 .6-12.4 .6 24.8 .6 .2 .6 7.0 .6-12.9 .6-10.0 .6 7.6 .6 5.6 .6 39.6 .6-27.0 .6 37.2 .6-28.6 .6 24.3 .6-18.2 .6-10.9 .6-6.4 .6 9.0 .6-2.1 .6 12.4 .6-26.0 .6-6.3 .6 16.6 .6-8.7 .6-13.9 .6 38.4 .6-1.1 .6-9.5 .6 .4 .6 25.6 .6-35.8 .6 47.3 .6-52.6 .6 2.2 .6-3.5 .6 9.9 .6 15.0 .6-1.2 .6 19.5 .6-35.3 .6 44.0 .6-23.8 .6-32.6 .6-5.8 .6-15.8 .6 35.7 .6 13.0 .6-20.4 .6 21.7 .6 11.9 .6-54.6 .6 18.4 .6 8.8 .6 33.2 .6-19.2 .6-27.5 .6 33.1 .6 11.1 .6-35.1 .6-11.9 .6 9.3 .6 21.7 .6-22.3 .6 21.9 .6 22.3 .6-16.2 .6-32.4 .6 37.4 .6-8.4 .6-13.1 .6-21.3 .6 16.6 .6 16.9 .6-5.4 .6-21.9 .6 21.6 .6 1.6 .6-4.8 .6 3.3 .6-2.4 .6-11.3 .6-.3 .6 3.2 .6 2.9 .6-21.7 .6 5.4 .6 43.1 .6-4.9 .6 5.1 .6-20.4 .6 .2 .6-34.5 .6 17.4 .6 33.9 .6-14.3 .6 10.9 .6 11.8 .6-34.7 .6 16.5 .6-53.4 .6 60.0 .6-13.3 .6 38.1 .6-68.5 .6 26.6 .6-18.1 .6 6.4 .6 25.0 .6-1.5 .6-24.7 .6 3.1 .6-14.8 .6-12.8 .6 35.7 .6 2.6 .6-17.5 .6-4.5 .6 3.7 .6 12.0 .6-14.2 .6 14.9 .6-7.0 .6-9.9 .6 35.6 .6-16.9 .6-12.5 .6 7.5 .6-17.3 .6 10.1 .6 16.8 .6-30.7 .6 2.5 .6 26.3 .6-16.1 .6-10.2 .6 4.4 .6 36.8 .6-51.0 .6 12.3 .6-8.0 .6 28.5 .6-10.8 .6-10.5 .6 14.3 .6 16.7 .6-52.8 .6 27.9 .6-14.3 .6-1.6 .6-6.9 .6-.7 .6 26.2 .6 5.2 .6-29.9 .6 2.4 .6 11.5 .6 27.2 .6-41.6 .6 7.6 .6 29.9 .6 6.3 .6-37.0 .6-12.5 .6-13.9 .6 19.0 .6 12.7 .6-16.2 .6 14.1 .6-1.4 .6-10.6 .6 1.0 .6 2.3 .6-27.6 .6 9.2 .6 1.8 .6 26.8 .6-10.8 .6 6.4 .6 13.3 .6-35.3 .6-5.9 .6 26.1 .6-22.9 .6-2.1 .6 9.4 .6 2.9 .6 .2 .6-1.0 .6 21.3 .6-24.6 .6-20.0 .6 30.7 .6 5.9 .6-42.8 .6 0 .6 31.6 .6-9.3 .6 16.9 .6-44.6 .6 17.9 .6-7.6 .6-8.7 .6-15.6 .6 22.1 .6 10.7 .6-16.9 .6-2.4 .6 12.6 .6-39.2 .6 39.2 .6 15.2 .6-43.2 .6 1.6 .6-6.8 .6 2.0 .6 9.0 .6-25.8 .6 20.0 .6 13.7 .6-18.9 .6 12.2 .6 21.2 .6-7.0 .6-34.2 .6 41.9 .6-42.1 .6 11.1 .6-17.7 .6-16.7 .6 41.8 .6-25.8 .6-2.0 .6 17.4 .6-8.5 .6 .2 .6 17.2 .6-27.5 .6 15.0 .6-5.6 .6 3.4 .6-22.1 .6-12.4 .6 57.8 .6-26.9 .6-35.0 .6 .8 .6 8.5 .6 6.1 .6-10.5 .6-18.6 .6 27.8 .6-13.0 .6-8.6 .6 14.1 .6-20.0 .6 6.6 .6 2.8 .6-3.6 .6-26.3 .6 24.2 .6-17.5 .6-.7 .6 17.6 .6-25.6 .6 11.2 .6 9.7 .6-19.0 .6 31.0 .6-27.4 .6 22.3 .6-22.7 .6-11.0 .6 2.9 .6 8.1 .6-12.0 .6-.6 .6 24.9 .6-26.1 .6-3.7 .6 12.9 .6-13.8 .6 4.8 .6-9.3 .6-20.2 .6 54.2 .6-34.9 .6 12.5 .6 19.8 .6 2.1 .6-3.7 .6-2.3 .6 22.0 .6-50.0 .6 23.8 .6-7.2 .6 12.1 .6 22.4 .6-11.0 .6-9.9 .6 27.7 .6-36.4 .6 41.7 .6-19.3 .6 15.4 .6 .9 .6-19.2 .6 16.8 .6 18.2 .6-45.2 .6 19.5 .6-12.1 .6 32.9 .6-.9 .6 17.1 .6-4.2 .6 33.5 .6 5.5 .6-6.3 .6 41.8 .6-27.0 .6 28.4 .6-37.4 .6 32.7 .6-14.0 .6-8.2 .6 4.2 .6 8.7 .6 39.6 .6 2.9 .6 18.9 .6 10.7 .6 21.1 .6-13.6 .6-50.5 .6 29.3 .6-.6 .6 11.9 .6 11.8 .6 38.8 .6-17.0 .6 16.3 .6 25.3 .6-18.5 .6-7.6 .6 34.3 .6-32.1 .6 30.6 .6-23.4 .6 29.2 .6-23.9 .6 50.7 .6-18.3 .6 28.1 .6-10.7 .6 40.2 .6-33.6 .6-5.5 .6 3.7 .6 11.9 .6 40.3 .6-7.7 .6 .4 .6-39.6 .6 23.1 .6-2.8 .6-16.3 .6 21.9 .6 13.4 .6-5.5 .6 21.8 .6-6.7 .6 23.5 .6-16.5 .6 29.6 .6-35.1 .6 29.4 .6 14.2 .6-24.3 .6 9.1 .6-3.8 .6-15.8 .6 19.9 .6 14.2 .6 4.6 .6-10.5 .6-26.8 .6 10.2 .6 20.4 .6 4.9 .6 3.4 .6-25.7 .6 5.6 .6 13.1 .6 25.1 .6-16.5 .6 12.7 .6-17.6 .6-4.2 .6 14.0 .6 13.1 .6-17.0 .6 7.6 .6 1.0 .6-8.1 .6-12.5 .6 32.0 .6-31.1 .6-12.5 .6 23.7 .6-38.9 .6 49.9 .6 6.0 .6-23.0 .6-5.6 .6 4.4 .6-15.9 .6 15.4 .6 32.8 .6-23.2 .6-4.4 .6-2.3 .6 14.4 .6-23.8 .6-16.1 .6 35.0 .6-10.1 .6-6.1 .6-5.9 .6 16.4 .6-29.9 .6 5.1 .6-6.3 .6 22.1 .6-16.6 .6 .1 .6-25.3 .6 13.5 .6 3.4 .6 27.8 .6-17.1 .6-37.1 .6 30.3 .6 14.3 .6-37.1 .6 25.4 .6 2.3 .6-25.0 .6 3.7 .6 16.7 .6-19.8 .6-7.8 .6 21.1 .6 .8 .6-51.8 .6 12.5 .6 12.3 .6 17.1 .6-42.3 .6 28.2 .6 15.2 .6-4.2 .6-15.1 .6-.1 .6-38.4 .6 24.1 .6-17.7 .6 20.7 .6-13.3 .6 34.6 .6-20.6 .6 12.0 .6-57.6 .6 25.6 .6-16.5 .6 14.4 .6-20.8 .6 47.6 .6-18.9 .6-10.4 .6-4.4 .6 30.9 .6-11.3 .6-21.6 .6-6.0 .6-10.6 .6 19.1 .6 32.6 .6-49.4 .6 48.6 .6-32.1 .6-13.1 .6 14.3 .6-29.6 .6 32.5 .6 9.5 .6-53.1 .6 47.0 .6 1.5 .6 6.0 .6-24.3 .6-3.7 .6-9.6 .6 4.7 .6-25.0 .6 27.8 .6-15.3 .6 30.0 .6 21.3 .6-35.6 .6-15.8 .6 4.2 .6-21.2 .6 13.5 .6 24.7 .6 .4 .6-1.3 .6-3.8 .6 17.5 .6-41.6 .6 10.1 .6-15.1 .6 56.5 .6-22.9 .6-9.2 .6-18.6 .6-2.8 .6 1.4 .6 11.7 .6-7.4 .6 12.4 .6 18.3 .6-61.2 .6-1.8 .6-3.4 .6 38.8 .6-31.5 .6 20.8 .6 17.6 .6 5.5 .6-31.7 .6-17.3 .6 9.1 .6 22.9 .6-1.1 .6-20.0 .6-4.3 .6 5.7 .6 1.1 .6 4.0 .6 21.9 .6-25.5 .6-26.0 .6 27.6 .6-21.0 .6 18.1 .6-15.0 .6-16.4 .6 24.6 .6-14.6 .6 18.0 .6-17.9 .6-3.8 .6-5.9 .6 6.4 .6 45.2 .6-25.5 .6 16.3 .6-27.5 .6 15.6 .6-12.8 .6 19.2 .6-16.1 .6 15.6 .6-10.0 .6-2.3 .6-7.9 .6 40.9 .6-53.8 .6-13.1 .6 26.5 .6-15.0 .6-2.4 .6 36.0 .6-16.8 .6 8.3 .6-57.1 .6 57.5 .6-11.6 .6-38.7 .6 39.5 .6-5.7 .6 30.2 .6-50.1 .6 7.2 .6 21.5 .6-19.2 .6 9.0 .6-22.1 .6 52.7 .6-25.3 .6 9.2 .6-20.5 .6 11.0 .6 4.9 .6 2.1 .6 3.7 .6-41.9 .6 34.6 .6 10.7 .6 3.8 .6 1.4 .6-31.3 .6 24.3 .6-14.5 .6 33.6 .6-24.8 .6-26.5 .6 21.7 .6 13.0 .6-23.9 .6-1.5 .6-4.3 .6 32.3 .6-19.4 .6-16.9 .6-20.5 .6 41.0 .6-32.3 .6 44.1 .6-12.2 .6 0 .6-2.9 .6-17.1 .6 10.0 .6-10.7 .6 8.5 .6-11.8 .6 38.6 .6-15.2 .6-25.3 .6 24.3 .6-10.4 .6 23.0 .6-29.1 .6-9.3 .6 15.5 .6-7.8 .6 25.8 .6-16.2 .6 15.2 .6-9.7 .6-13.8 .6 2.8 .6 9.8 .6-28.5 .6 17.7 .6 5.0 .6-25.8 .6 5.2 .6 63.0 .6-54.3 .6 43.7 .6-27.5 .6-3.0 .6 2.1 .6 8.7 .6-18.6 .6 23.1 .6-24.9 .6 2.5 .6 5.9 .6 16.7 .6-49.6 .6 28.5 .6 31.2 .6-36.4 .6-3.4 .6 11.6 .6-1.3 .6 9.6 .6 .3 .6-16.9 .6 7.6 .6 4.6 .6-19.0 .6-3.4 .6 15.3 .6-14.6 .6 28.3 .6 14.6 .6-26.2 .6-5.8 .6 25.9 .6 18.8 .6-29.9 .6-2.6 .6-9.0 .6 14.5 .6-41.8 .6 3.8 .6 46.1 .6-41.4 .6 31.7 .6-14.0 .6 7.6 .6-.4 .6 5.7 .6-26.4 .6-28.2 .6 40.7 .6 4.2 .6 .1 .6 3.0 .6 1.5 .6 9.5 .6-33.0 .6 2.0 .6 44.2 .6-22.4 .6-18.7 .6-8.3 .6 14.4 .6 21.9 .6 .3 .6-12.9 .6 4.4 .6-22.1 .6 23.7 .6 12.7 .6-40.8 .6 4.1 .6 38.3 .6-28.2 .6-6.6 .6 31.6 .6-52.6 .6 48.1 .6-11.2 .6-6.2 .6 3.3 .6-33.2 .6 11.3 .6 .1 .6 28.6 .6-25.2 .6 5.4 .6 .7 .6 14.5 .6 4.1 .6-43.5 .6 54.5 .6-32.9 .6 .8 .6 11.2 .6-16.2 .6-23.8 .6 29.1 .6 6.5 .6 10.1 .6 23.1 .6-56.2 .6 5.0 .6 34.5 .6-28.7 .6-12.3 .6-12.2 .6 50.7 .6 16.4 .6-50.1 .6 2.9 .6-17.1 .6 10.9 .6 23.8 .6-14.2 .6-26.6 .6 42.1 .6-10.3 .6 1.0 .6-5.0 .6 12.6 .6 6.3 .6-8.2 .6-12.1 .6 3.2 .6-28.1 .6 28.9 .6-30.7 .6 20.6 .6-8.8 .6 17.4 .6 3.7 .6 1.3 .6-15.7 .6 7.6 .6 22.8 .6-13.6 .6 12.8 .6 15.8 .6-53.2 .6-9.2 .6 46.3 .6-13.3 .6 6.9 .6-20.8 .6 19.5 .6 21.6 .6-22.9 .6-16.7 .6-13.3 .6 38.4 .6-16.1 .6 6.1 .6-26.3 .6 28.0 .6 3.5 .6 19.0 .6-40.1 .6 20.7 .6 12.7 .6-44.3 .6 33.4 .6-29.7 .6 23.9 .6-11.9 .6 11.8 .6-8.1 .6 14.5 .6-20.4 .6-.5 .6 31.1 .6 22.7 .6-55.1 .6 51.4 .6-21.4 .6-27.7 .6 21.4 .6-18.8 .6 11.4 .6-32.8 .6-.3 .6 22.3 .6 24.5 .6-45.1 .6 38.8 .6 13.5 .6-16.2 .6-16.4 .6 11.6 .6 35.7 .6-47.5 .6-5.8 .6 41.5 .6-42.0 .6 20.5 .6-2.1 .6-13.2 .6 15.1 .6-19.1 .6 21.1 .6 8.6 .6-31.2 .6 3.7 .6-7.0 .6 2.0 .6 32.8 .6-21.4 .6 1.0 .6 26.6 .6-.4 .6-18.6 .6 2.5 .6 8.9 .6-36.9 .6 39.2 .6 3.3 .6-26.8 .6 8.7 .6 21.4 .6-33.2 .6 2.7 .6 23.2 .6-31.5 .6 43.4 .6-10.5 .6-20.1 .6 22.1 .6-29.8 .6 20.0 .6 4.7 .6-9.7 .6-48.1 .6 41.5 .6 12.7 .6 7.9 .6-17.2 .6-4.5 .6 4.4 .6-22.9 .6 5.5 .6-12.8 .6 49.9 .6-13.0 .6 13.5 .6-11.9 .6-10.4 .6 19.1 .6-52.1 .6 8.6 .6-12.7 .6 48.3 .6 12.9 .6-6.9 .6-3.6 .6-33.6 .6 27.0 .6 .8 .6-21.1 .6 25.9 .6-33.6 .6 29.1 .6 9.1 .6-32.8 .6 29.7 .6-58.2 .6 49.1 .6 14.6 .6-3.3 .6-25.3 .6 5.5 .6 9.6 .6-8.4 .6-11.8 .6 16.3 .6 32.3 .6-11.4 .6-24.0 .6-4.4 .6-.9 .6-.3 .6-12.4 .6 14.5 .6-.4 .6 12.5 .6 3.4 .6-.1 .6-14.1 .6 3.0 .6-22.4 .6 43.1 .6-54.1 .6 13.1 .6 12.2 .6 1.4 .6-8.7 .6 27.6 .6-24.9 .6-7.5 .6-5.2 .6 42.1 .6-2.1 .6-2.4 .6 .4 .6-7.3 .6 .7 .6-8.0 .6 26.4 .6-14.0 .6-19.6 .6 12.0 .6-29.1 .6 24.7 .6-11.3 .6 17.9 .6-9.9 .6 23.5 .6-36.5 .6 44.3 .6-24.7 .6 14.7 .6-11.3 .6 6.5 .6-7.6 .6 2.2 .6-11.9 .6-20.2 .6 50.1 .6-14.8 .6-5.9 .6-13.2 .6-12.5 .6 12.6 .6-18.5 .6 23.9 .6 10.0 .6-15.1 .6-1.6 .6 17.6 .6-16.0 .6 33.8 .6-1.7 .6-27.8 .6-29.5 .6 16.1 .6 20.0 .6 5.4 .6-6.3 .6-14.4 .6 19.9 .6-31.2 .6 25.3 .6 19.4 .6-8.7 .6 10.7 .6-69.5 .6 41.5 .6-4.8 .6 50.0 .6-22.6 .6-2.9 .6-42.7 .6-17.0 .6 61.2 .6-18.7 .6-1.8 .6-1.3 .6 4.1 .6-.3 .6 8.5 .6-27.1 .6 21.6 .6 3.0 .6 1.6 .6 3.2 .6-40.4 .6 21.5 .6 19.8 .6 22.9 .6-28.8 .6-13.1 .6-7.1 .6 38.7 .6-4.6 .6-4.9 .6 15.4 .6-35.7 .6-3.4 .6 18.2 .6-47.4 .6 29.6 .6-6.0 .6 32.6 .6-2.8 .6-4.0 .6-6.3 .6-3.3 .6 5.3 .6 10.3 .6-22.4 .6 12.2 .6-20.2 .6-5.9 .6 35.2 .6-17.1 .6 .9 .6 9.3 .6-3.0 .6 1.7 .6-21.1 .6 26.1 .6-9.8 .6-12.4 .6 21.5 .6-33.8 .6 46.2 .6-48.8 .6 34.5 .6-8.2 .6-26.5 .6 54.0 .6-19.1 .6 5.6 .6-14.1 .6 5.3 .6-11.9 .6 3.6 .6 11.4 .6-51.7 .6 61.4 .6-14.2 .6-8.8 .6 36.8 .6 2.3 .6-78.3 .6 27.5 .6 22.6 .6 2.6 .6-6.8 .6-4.0 .6 10.8 .6-.1 .6-13.3 .6 3.4 .6 18.2 .6-53.2 .6 32.6 .6-2.4 .6-8.9 .6-2.4 .6 15.8 .6-27.2 .6 24.4 .6 10.4 .6 16.9 .6-15.5 .6-25.7 .6 39.5 .6-29.5 .6-5.4 .6 2.9 .6 2.7 .6-10.1 .6 26.0 .6-18.7 .6 13.1 .6-25.2 .6 60.7 .6-33.9 .6 4.8 .6-12.7 .6 17.3 .6-23.9 .6-1.3 .6 32.0 .6 .2 .6-29.9 .6 42.7 .6-28.1 .6-36.0 .6 45.4 .6-22.9 .6 31.2 .6 4.6 .6-34.0 .6 46.3 .6-26.2 .6-6.2 .6 5.3 .6 6.1 .6-25.9 .6 16.6 .6-16.4 .6 3.0 .6 5.4 .6 1.4 .6 12.6 .6-14.3 .6 .8 .6 17.2 .6-31.8 .6 46.3 .6-27.2 .6-2.7 .6-25.3 .6-8.2 .6 37.8 .6 0 .6 15.5 .6-43.1 .6 15.8 .6-10.6 .6 18.8 .6-.5 .6 22.5 .6-16.1 .6-35.4 .6 30.7 .6-6.7 .6-4.1 .6 18.8 .6-37.6 .6 29.1 .6-10.5 .6 33.0 .6-35.0 .6 2.5 .6-.1 .6 .1 .6 36.4 .6 3.9 .6-60.9 .6 21.1 .6 8.1 .6 5.2 .6-5.2 .6 3.7 .6-21.1 .6 29.1 .6-5.5 .6 16.4 .6-44.5 .6 37.1 .6-18.1 .6-25.8 .6 29.2 .6-4.7 .6 2.9 .6 11.0 .6 22.7 .6-25.4 .6 12.1 .6-17.5 .6-32.5 .6 46.3 .6 .5 .6-17.3 .6 8.2 .6-4.2 .6-2.0 .6 23.9 .6-24.1 .6 13.3 .6 5.3 .6-11.2 .6-32.2 .6 18.5 .6 12.0 .6-13.1 .6 8.0 .6-14.0 .6 .3 .6 24.1 .6 5.0 .6-15.1 .6-1.0 .6-2.4 .6-12.9 .6-15.8 .6 17.6 .6-6.0 .6 14.0 .6-15.3 .6 38.4 .6 1.2 .6-23.2 .6 9.8 .6-19.1 .6-3.4 .6-9.1 .6 19.4 .6 6.3 .6 9.9 .6-39.7 .6 22.5 .6 .2 .6-12.6 .6 30.7 .6-42.7 .6 1.3 .6-5.4 .6 20.2 .6 27.6 .6 22.5 .6-59.2 .6 27.7 .6 10.7 .6-16.3 .6-3.9 .6-9.5 .6 31.6 .6-8.1 .6-6.5 .6-35.6 .6 58.9 .6-38.3 .6 12.8 .6-15.2 .6 8.7 .6 11.9 .6 22.4 .6-42.1 .6 48.9 .6-35.2 .6-2.2 .6-10.3 .6 18.9 .6 34.9 .6-48.2 .6 .8 .6-35.2 .6 44.1 .6 12.8 .6-8.2 .6-22.8 .6-8.8 .6 12.5 .6 2.0 .6 24.8 .6 1.7 .6-18.2 .6-.6 .6-27.4 .6 31.8 .6-18.7 .6 12.4 .6 14.5 .6-9.6 .6 7.7 .6 1.0 .6-16.1 .6 12.9 .6-2.7 .6 28.9 .6-33.6 .6 .1 .6-43.2 .6 26.6 .6 17.0 .6 1.9 .6-22.2 .6 18.3 .6 15.4 .6-6.1 .6-12.0 .6 2.9 .6 .5 .6 26.0 .6-13.1 .6 6.4 .6-29.2 .6 27.8 .6-29.5 .6-12.2 .6 3.4 .6 19.3 .6-7.8 .6 2.5 .6 32.8 .6-19.2 .6 11.6 .6-44.6 .6-10.9 .6 44.9 .6-.4 .6-39.0 .6 22.0 .6-2.8 .6 19.9 .6 1.1 .6-4.1 .6 9.8 .6 6.1 .6-19.5 .6 4.7 .6-4.4 .6 23.9 .6-8.2 .6-16.4 .6-28.0 .6 25.9 .6-4.5 .6 18.5 .6-24.9 .6 23.2 .6-16.1 .6 18.0 .6-48.5 .6 54.8 .6-20.1 .6 17.5 .6-49.1 .6 53.3 .6-45.8 .6 42.0 .6-33.4 .6 19.4 .6-1.2 .6-2.7 .6-4.4 .6-1.8 .6 0 .6 22.9 .6-.3 .6-32.4 .6-12.0 .6 45.6 .6-6.4 .6 24.5 .6-41.3 .6 9.0 .6 10.3 .6-20.7 .6 31.6 .6 2.7 .6-34.5 .6 20.0 .6-.5 .6 2.5 .6 8.5 .6-9.8 .6-10.7 .6 6.0 .6-4.3 .6-9.8 .6 8.8 .6 17.0 .6-11.1 .6 9.4 .6 9.0 .6-39.8" fill="none" stroke="#000000" stroke-width="8" stroke-linejoin="bevel" stroke-linecap="butt"/>
<text x="267" y="205.8" font-size="128" letter-spacing="1.3" fill="#ff0000">(A)</text>
<text x="267" y="478.2" font-size="128" letter-spacing="1.3" fill="#000">(B)</text>
<text x="267" y="756" font-size="128" letter-spacing="1.3" fill="#ff0000">(C)</text>
<text x="267" y="972.6" font-size="128" letter-spacing="1.3" fill="#000">(D)</text>
<text x="267" y="1290.7" font-size="128" letter-spacing="1.3" fill="#ff0000">(E)</text>
<text x="267" y="1559" font-size="128" letter-spacing="1.3" fill="#000">(F)</text>
<text transform="translate(1674,122.9) scale(1,1.03)" font-size="69.3" fill="#ff0000">R peel</text>
<text transform="translate(1674,203.8) scale(1,1.03)" font-size="69.3" fill="#ff0000">0.0112 g</text>
<text transform="translate(1674,347.8) scale(1,1.03)" font-size="69.3" fill="#000">W peel</text>
<text transform="translate(1674,429.6) scale(1,1.03)" font-size="69.3" fill="#000">0.0080 g</text>
<text transform="translate(1674,641) scale(1,1.03)" font-size="69.3" fill="#ff0000">R pulp</text>
<text transform="translate(1674,723) scale(1,1.03)" font-size="69.3" fill="#ff0000">0.0215 g</text>
<text transform="translate(1674,875) scale(1,1.03)" font-size="69.3" fill="#000">W pulp</text>
<text transform="translate(1674,957) scale(1,1.03)" font-size="69.3" fill="#000">0.0123 g</text>
<text transform="translate(1674,1156) scale(1,1.03)" font-size="69.3" fill="#ff0000">R seed</text>
<text transform="translate(1674,1237.3) scale(1,1.03)" font-size="69.3" fill="#ff0000">0.0017 g</text>
<text transform="translate(1674,1436.4) scale(1,1.03)" font-size="69.3" fill="#000">W seed</text>
<text transform="translate(1674,1517.8) scale(1,1.03)" font-size="69.3" fill="#000">0.0016 g</text>
</svg>
</body></html>
